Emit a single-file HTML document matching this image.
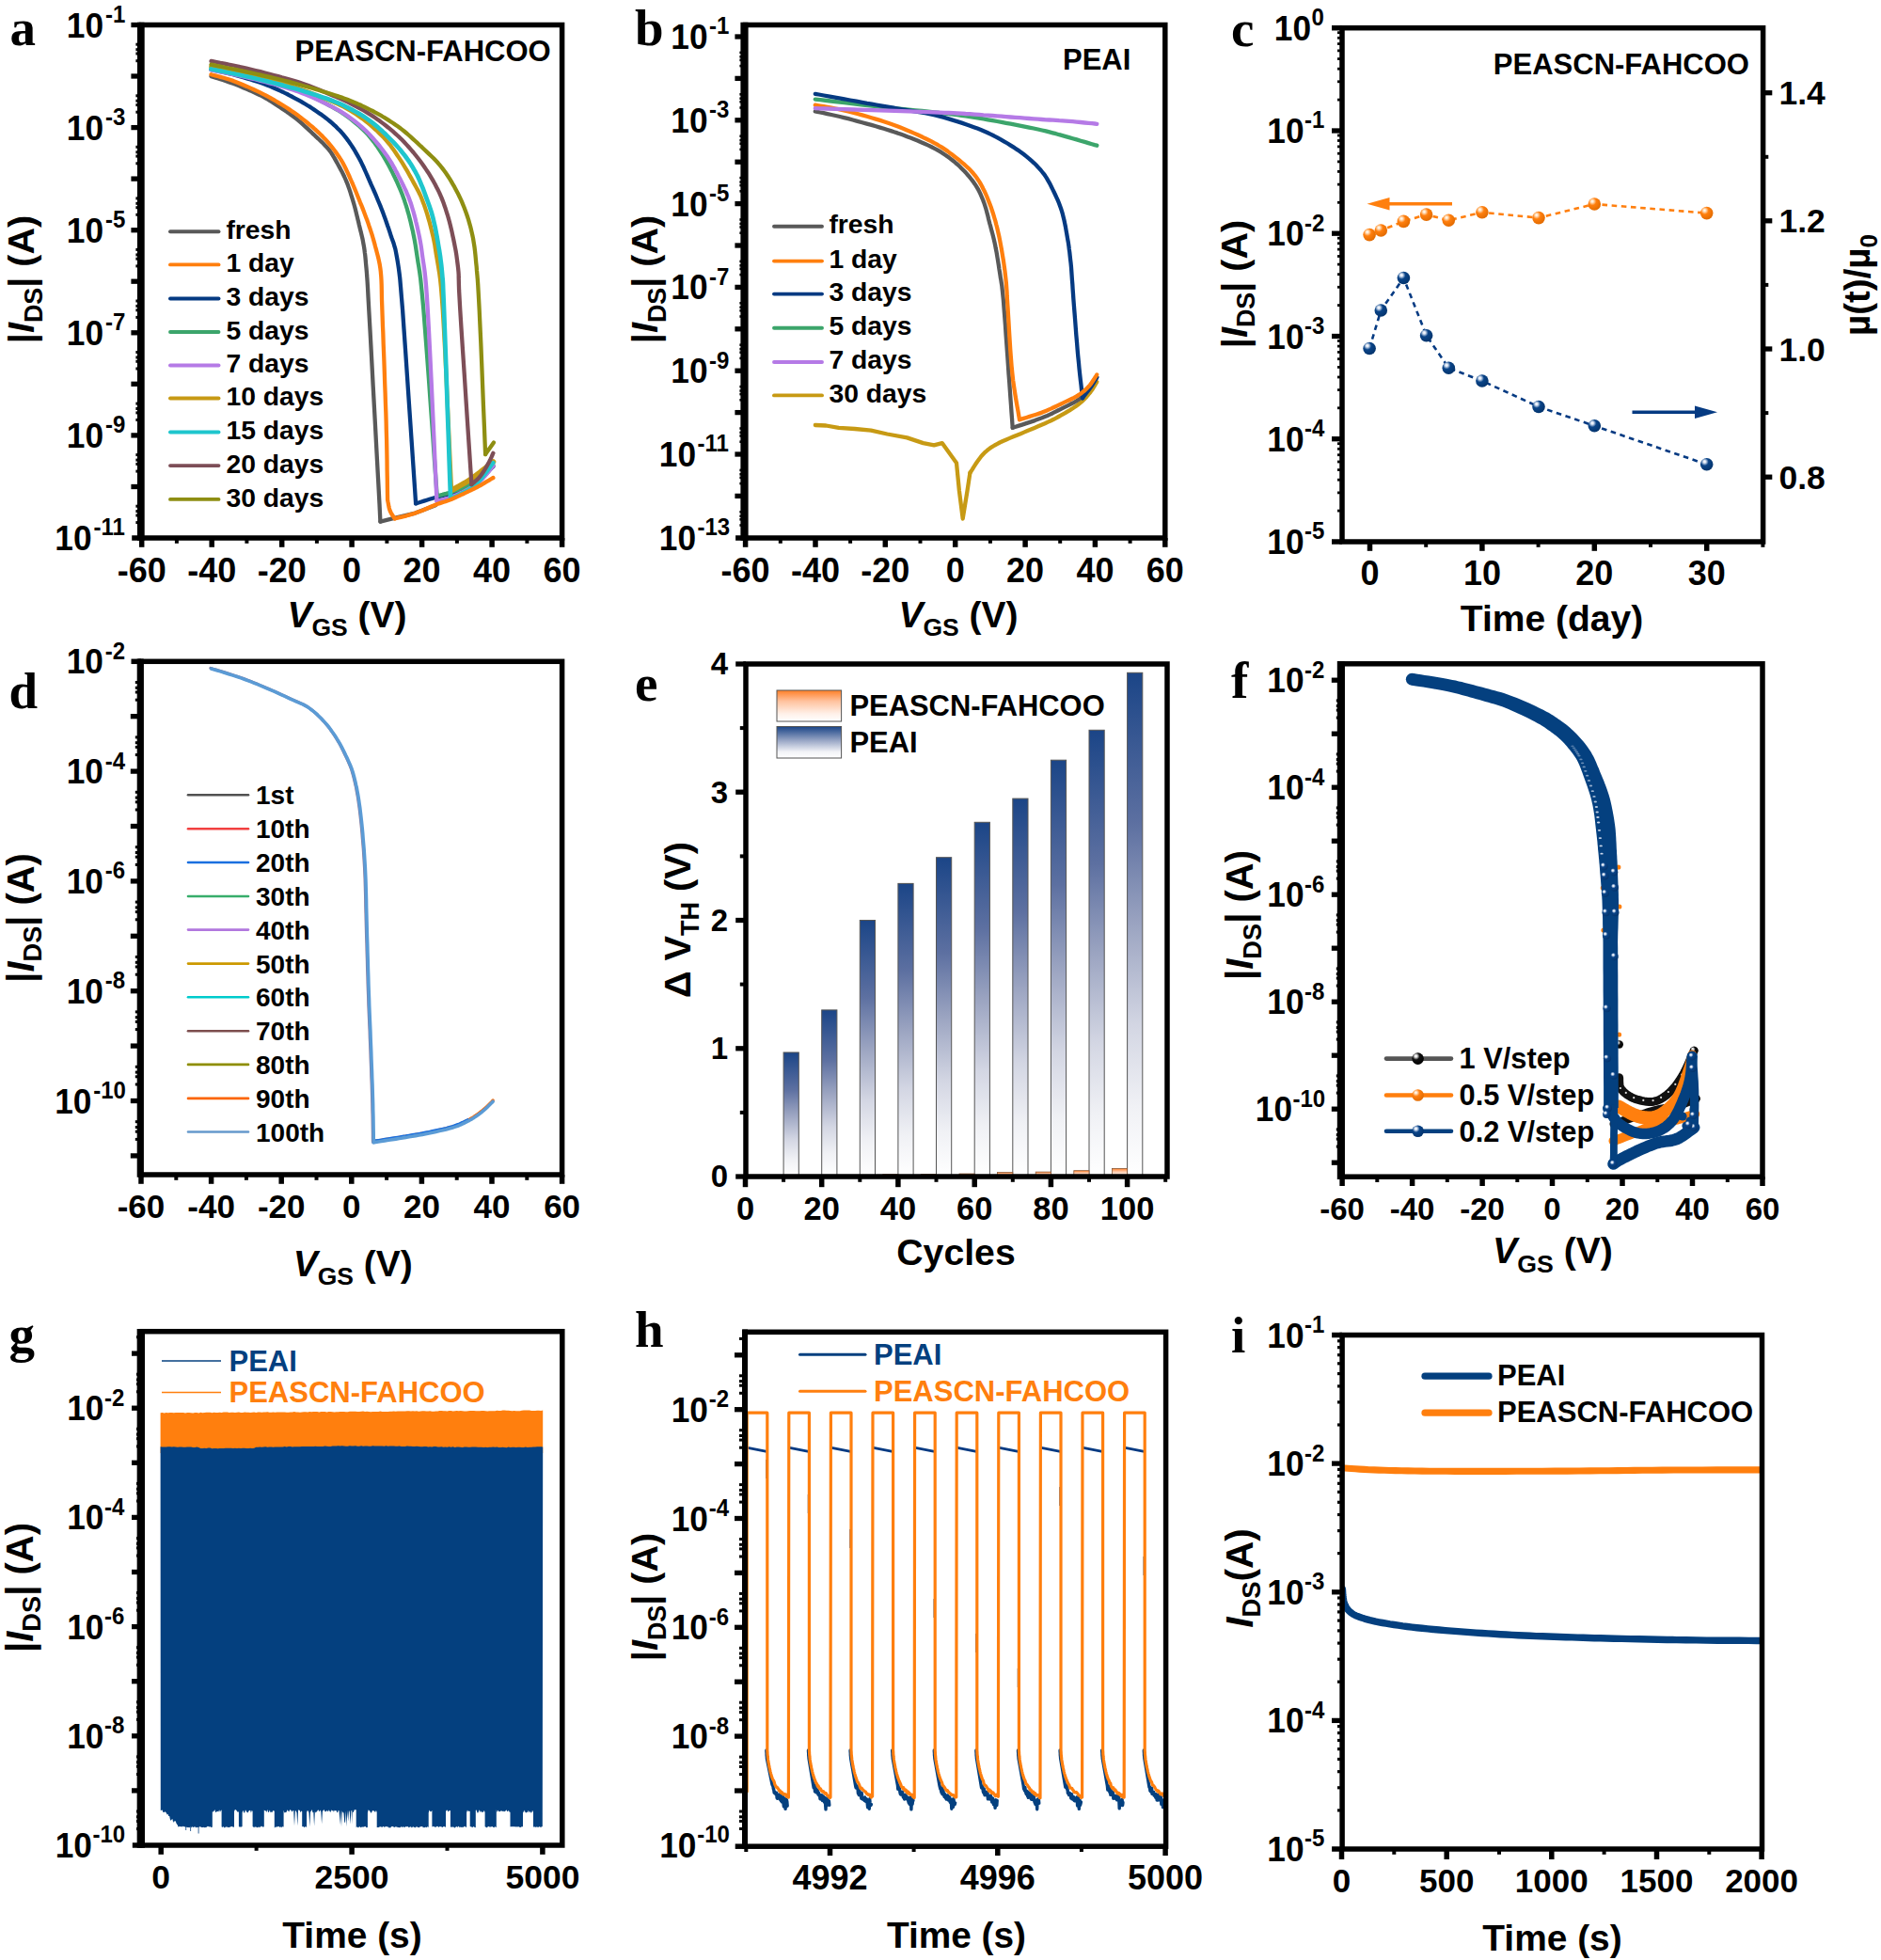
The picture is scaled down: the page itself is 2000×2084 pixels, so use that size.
<!DOCTYPE html>
<html><head><meta charset="utf-8"><title>Figure</title>
<style>html,body{margin:0;padding:0;background:#fff;}svg{display:block;}</style>
</head><body>
<svg width="2000" height="2084" viewBox="0 0 2000 2084">
<defs>
<radialGradient id="sO" cx="0.36" cy="0.32" r="0.72" fx="0.33" fy="0.28"><stop offset="0" stop-color="#ffffff"/><stop offset="0.14" stop-color="#FFE3C4"/><stop offset="0.42" stop-color="#FF7F0E"/><stop offset="1" stop-color="#E06A00"/></radialGradient>
<radialGradient id="sB" cx="0.36" cy="0.32" r="0.72" fx="0.33" fy="0.28"><stop offset="0" stop-color="#ffffff"/><stop offset="0.14" stop-color="#DCE6F5"/><stop offset="0.42" stop-color="#0A4488"/><stop offset="1" stop-color="#03336B"/></radialGradient>
<radialGradient id="sK" cx="0.36" cy="0.32" r="0.72" fx="0.33" fy="0.28"><stop offset="0" stop-color="#ffffff"/><stop offset="0.14" stop-color="#E8E8E8"/><stop offset="0.42" stop-color="#111111"/><stop offset="1" stop-color="#000000"/></radialGradient>
<clipPath id="clipA"><rect x="150.7" y="26.5" width="446.9" height="545.5"/></clipPath>
<clipPath id="clipB"><rect x="792.6" y="26.5" width="446.2" height="545.5"/></clipPath>
<linearGradient id="gB" x1="0" y1="0" x2="0" y2="1"><stop offset="0" stop-color="#1B4587"/><stop offset="0.3" stop-color="#5D70A1"/><stop offset="0.5" stop-color="#9BA4C1"/><stop offset="0.7" stop-color="#D3D6E3"/><stop offset="0.86" stop-color="#F0F1F5"/><stop offset="1" stop-color="#FFFFFF"/></linearGradient>
<linearGradient id="gO" x1="0" y1="0" x2="0" y2="1"><stop offset="0" stop-color="#FF7F27"/><stop offset="0.35" stop-color="#FFC29E"/><stop offset="0.75" stop-color="#FFF0E8"/><stop offset="1" stop-color="#FFFFFF"/></linearGradient>
<linearGradient id="gBl" x1="0" y1="0" x2="0" y2="1"><stop offset="0" stop-color="#1B4587"/><stop offset="0.45" stop-color="#9AA7C6"/><stop offset="0.8" stop-color="#F2F3F7"/><stop offset="1" stop-color="#FFFFFF"/></linearGradient>
<clipPath id="clipH"><rect x="792.2" y="1416.3" width="447.4" height="546.9"/></clipPath>
<clipPath id="clipI"><rect x="1427.1" y="1419.5" width="448.4" height="546.5"/></clipPath>
</defs>
<rect x="0" y="0" width="2000" height="2084" fill="#fff"/>
<g clip-path="url(#clipA)">
<path d="M224.5 81.1 L226.3 81.7 L228.6 82.4 L231.3 83.2 L234.4 84.2 L237.7 85.2 L241.1 86.4 L244.5 87.6 L247.8 88.8 L251.2 90.1 L254.9 91.6 L258.6 93.2 L262.5 94.8 L266.3 96.4 L269.9 98.1 L273.4 99.7 L276.6 101.2 L279.4 102.7 L282 104.1 L284.4 105.5 L286.7 106.9 L288.9 108.3 L291.1 109.7 L293.4 111.2 L295.7 112.7 L298.1 114.3 L300.5 115.9 L302.9 117.4 L305.3 119.1 L307.7 120.7 L310 122.5 L312.4 124.3 L314.8 126.1 L317.3 128.1 L319.7 130.2 L322.2 132.4 L324.6 134.6 L327.1 136.9 L329.5 139.1 L331.8 141.3 L334 143.3 L336.1 145.4 L338.2 147.3 L340.2 149.2 L342.2 151.1 L344.1 153 L345.9 154.9 L347.7 156.8 L349.3 158.7 L350.8 160.5 L352.1 162.4 L353.3 164.2 L354.4 166.1 L355.5 167.9 L356.6 169.9 L357.7 171.9 L358.9 174 L360.1 176.2 L361.3 178.4 L362.5 180.7 L363.8 183.1 L365 185.5 L366.2 188 L367.3 190.5 L368.4 193.1 L369.5 195.8 L370.5 198.6 L371.5 201.4 L372.5 204.4 L373.4 207.3 L374.3 210.2 L375.2 213.2 L376.1 216.1 L376.9 219 L377.7 221.9 L378.4 224.8 L379.1 227.7 L379.8 230.6 L380.5 233.4 L381.2 236.3 L381.8 239 L382.5 241.7 L383.1 244.4 L383.8 246.9 L384.4 249.4 L385 252 L385.6 254.6 L386.1 257.3 L386.6 260.1 L387.1 262.9 L387.5 265.6 L387.8 268.3 L388.2 271 L388.5 274 L388.8 277.2 L389.1 280.9 L389.5 285 L389.8 288.4 L390 290.6 L390.1 292.5 L390.3 295 L390.6 299.1 L391 305.6 L391.5 315.6 L392.3 330 L393.5 351 L395 378.8 L396.7 410.9 L398.6 445.1 L400.4 478.9 L402.1 510 L403.5 536 L404.4 554.6" fill="none" stroke="#595959" stroke-width="4.3" stroke-linejoin="round" stroke-linecap="round" />
<path d="M404.4 554.6 L417.2 551.4 L441.5 545.6 L463.1 537.3" fill="none" stroke="#595959" stroke-width="4.3" stroke-linejoin="round" stroke-linecap="round" />
<path d="M224.5 74.1 L226.3 74.4 L228.6 74.9 L231.3 75.5 L234.4 76.1 L237.7 76.8 L241.1 77.6 L244.5 78.4 L247.8 79.2 L251.2 80.2 L254.9 81.2 L258.6 82.3 L262.5 83.4 L266.3 84.5 L269.9 85.7 L273.4 86.8 L276.6 87.8 L279.4 88.8 L282 89.8 L284.4 90.7 L286.7 91.6 L288.9 92.5 L291.1 93.5 L293.4 94.5 L295.7 95.5 L298.1 96.6 L300.5 97.7 L302.9 98.9 L305.3 100 L307.7 101.3 L310 102.5 L312.4 103.8 L314.8 105.1 L317.2 106.4 L319.6 107.7 L322 109.1 L324.4 110.5 L326.8 112 L329.2 113.4 L331.6 115 L334 116.6 L336.4 118.2 L338.8 119.9 L341.3 121.6 L343.8 123.4 L346.2 125.3 L348.6 127.1 L350.9 129 L353.1 130.9 L355.2 132.8 L357.3 134.7 L359.2 136.7 L361.1 138.6 L363 140.6 L364.8 142.7 L366.6 144.9 L368.4 147.2 L370.2 149.6 L371.9 152 L373.7 154.6 L375.4 157.2 L377 159.8 L378.6 162.6 L380.2 165.4 L381.8 168.2 L383.3 171.1 L384.8 174.1 L386.3 177.2 L387.7 180.3 L389.1 183.5 L390.5 186.7 L391.9 189.9 L393.3 193.1 L394.7 196.4 L396.2 199.7 L397.7 203 L399.2 206.4 L400.6 209.8 L402 213.2 L403.4 216.5 L404.8 219.9 L406.1 223.3 L407.4 226.6 L408.6 230 L409.8 233.3 L411 236.7 L412.1 240 L413.3 243.3 L414.4 246.7 L415.4 249.8 L416.4 252.7 L417.4 255.4 L418.4 258.2 L419.3 261.3 L420.3 264.7 L421.1 268.7 L422 273.5 L422.8 278.1 L423.4 282 L424 286 L424.6 290.6 L425.3 296.6 L426 304.7 L426.9 315.6 L428.1 330 L429.5 350 L431.3 375.7 L433.3 405.2 L435.4 436.2 L437.5 466.9 L439.4 495 L441 518.6 L442.1 535.4" fill="none" stroke="#053A82" stroke-width="4.3" stroke-linejoin="round" stroke-linecap="round" />
<path d="M442.1 535.4 L443.6 534.9 L445.7 534.3 L448.2 533.5 L450.9 532.6 L453.8 531.7 L456.7 530.8 L459.4 530 L461.9 529.3 L464.1 528.7 L466.2 528.2 L468.2 527.7 L470.2 527.2 L472.2 526.7 L474.2 526.2 L476.3 525.6 L478.5 525 L480.8 524.2 L483.2 523.3 L485.7 522.4 L488.3 521.5 L490.8 520.5 L493.2 519.5 L495.5 518.5 L497.6 517.6 L499.5 516.7 L501.2 515.8 L502.8 515 L504.3 514.1 L505.8 513.3 L507.2 512.3 L508.7 511.2 L510.4 509.9 L512.1 508.4 L514.1 506.5 L516.1 504.5 L518.2 502.4 L520.1 500.4 L521.8 498.5 L523.3 497 L524.4 495.9" fill="none" stroke="#053A82" stroke-width="4.3" stroke-linejoin="round" stroke-linecap="round" />
<path d="M224.5 71.6 L227 72.1 L230.3 72.7 L234.2 73.4 L238.6 74.3 L243.2 75.2 L248 76.2 L252.8 77.2 L257.4 78.3 L262 79.4 L266.8 80.6 L271.8 81.9 L276.8 83.3 L281.8 84.7 L286.7 86.1 L291.3 87.5 L295.7 88.8 L299.7 90.1 L303.5 91.3 L307.2 92.6 L310.6 93.8 L314.1 95.1 L317.4 96.4 L320.9 97.8 L324.4 99.3 L328.1 101 L331.8 102.7 L335.6 104.5 L339.4 106.4 L343 108.3 L346.6 110.1 L350 112 L353.1 113.7 L356 115.3 L358.6 116.8 L361 118.3 L363.3 119.7 L365.5 121.2 L367.7 122.7 L369.9 124.4 L372.2 126.1 L374.7 128 L377.1 130 L379.6 132.1 L382.1 134.2 L384.5 136.4 L386.9 138.7 L389.2 141 L391.4 143.3 L393.5 145.8 L395.5 148.3 L397.5 150.8 L399.4 153.4 L401.3 156.1 L403.1 158.8 L404.9 161.6 L406.7 164.4 L408.5 167.3 L410.3 170.4 L412 173.5 L413.8 176.7 L415.4 179.9 L417.1 183.1 L418.6 186.2 L420.1 189.3 L421.5 192.2 L422.8 195.1 L424 197.9 L425.2 200.6 L426.4 203.4 L427.5 206.3 L428.6 209.2 L429.7 212.2 L430.7 215.4 L431.8 218.6 L432.8 221.8 L433.7 225.2 L434.7 228.5 L435.6 232 L436.5 235.5 L437.3 239 L438.1 242.5 L438.9 245.7 L439.5 248.9 L440.2 252.3 L440.9 255.8 L441.6 259.8 L442.3 264.4 L443.1 269.7 L443.9 274.9 L444.6 279.5 L445.4 284.1 L446.2 289.4 L447.1 296 L448 304.6 L449.1 315.7 L450.4 330 L451.9 349.4 L453.8 374.3 L455.9 402.6 L458 432.3 L460.1 461.6 L461.9 488.5 L463.5 511 L464.7 527.1" fill="none" stroke="#3CA56B" stroke-width="4.3" stroke-linejoin="round" stroke-linecap="round" />
<path d="M464.7 527.1 L465.7 526.9 L467 526.6 L468.6 526.3 L470.4 525.9 L472.3 525.4 L474.3 524.9 L476.4 524.3 L478.5 523.7 L480.6 523 L483 522.1 L485.5 521.2 L488.1 520.2 L490.6 519.3 L493.1 518.2 L495.5 517.2 L497.6 516.3 L499.5 515.4 L501.2 514.5 L502.8 513.7 L504.3 512.9 L505.8 512 L507.2 511 L508.7 509.9 L510.4 508.6 L512.1 507.1 L514.1 505.2 L516.1 503.2 L518.2 501.1 L520.1 499.1 L521.8 497.3 L523.3 495.7 L524.4 494.6" fill="none" stroke="#3CA56B" stroke-width="4.3" stroke-linejoin="round" stroke-linecap="round" />
<path d="M224.5 70.6 L227 71.1 L230.3 71.8 L234.2 72.5 L238.6 73.4 L243.2 74.3 L248 75.3 L252.8 76.3 L257.4 77.3 L262 78.4 L266.8 79.5 L271.8 80.7 L276.8 81.9 L281.8 83.2 L286.7 84.4 L291.3 85.7 L295.7 86.9 L299.7 88.1 L303.5 89.2 L307.2 90.4 L310.6 91.6 L314.1 92.7 L317.4 93.9 L320.9 95.2 L324.4 96.5 L328.1 97.8 L331.8 99.2 L335.6 100.7 L339.4 102.2 L343 103.7 L346.6 105.2 L350 106.6 L353.1 107.9 L356 109.2 L358.6 110.4 L361 111.5 L363.3 112.6 L365.5 113.7 L367.7 114.9 L369.9 116.1 L372.2 117.5 L374.6 119 L377 120.5 L379.4 122 L381.8 123.7 L384.2 125.4 L386.6 127.1 L389 129 L391.4 130.9 L393.8 132.9 L396.3 135.1 L398.7 137.3 L401.2 139.5 L403.6 141.9 L406 144.2 L408.3 146.6 L410.5 149.1 L412.6 151.6 L414.7 154.1 L416.6 156.7 L418.5 159.3 L420.4 162 L422.2 164.7 L424 167.4 L425.8 170.1 L427.6 172.9 L429.4 175.8 L431.2 178.8 L432.9 181.7 L434.6 184.7 L436.2 187.6 L437.8 190.4 L439.2 193.1 L440.6 195.6 L441.9 198 L443.1 200.2 L444.3 202.4 L445.5 204.7 L446.6 207 L447.7 209.5 L448.8 212.2 L449.9 215.2 L451.1 218.3 L452.2 221.6 L453.3 224.9 L454.4 228.4 L455.4 231.9 L456.5 235.5 L457.4 239 L458.3 242.5 L459.1 245.7 L459.9 248.9 L460.7 252.3 L461.4 255.8 L462.2 259.8 L462.9 264.4 L463.7 269.7 L464.6 274.9 L465.4 279.6 L466.2 284.4 L467.1 289.8 L468 296.5 L468.9 305 L469.8 316 L470.8 330 L471.9 349 L473.2 373.1 L474.5 400.6 L475.8 429.5 L477.1 457.9 L478.3 483.9 L479.3 505.7 L480 521.4" fill="none" stroke="#C79A14" stroke-width="4.3" stroke-linejoin="round" stroke-linecap="round" />
<path d="M480 521.4 L481.4 520.6 L483.3 519.6 L485.5 518.4 L488 517 L490.6 515.5 L493.1 514.1 L495.5 512.7 L497.6 511.4 L499.4 510.3 L501.1 509.1 L502.7 508 L504.2 506.9 L505.7 505.8 L507.2 504.7 L508.7 503.5 L510.4 502.2 L512.1 500.9 L514.1 499.3 L516.1 497.7 L518.2 496.1 L520.1 494.5 L521.8 493.1 L523.3 491.9 L524.4 491" fill="none" stroke="#C79A14" stroke-width="5.8" stroke-linejoin="round" stroke-linecap="round" />
<path d="M224.5 74.4 L227 74.9 L230.3 75.6 L234.2 76.3 L238.6 77.2 L243.2 78.1 L248 79.1 L252.8 80.1 L257.4 81.1 L262 82.2 L266.8 83.3 L271.8 84.5 L276.8 85.8 L281.8 87 L286.7 88.3 L291.3 89.5 L295.7 90.7 L299.7 91.9 L303.5 93 L307.2 94.1 L310.6 95.3 L314.1 96.4 L317.4 97.6 L320.9 98.9 L324.4 100.3 L328.1 101.8 L331.8 103.4 L335.6 105.1 L339.4 106.9 L343 108.6 L346.6 110.4 L350 112.1 L353.1 113.7 L356 115.2 L358.6 116.6 L361 117.9 L363.3 119.2 L365.5 120.6 L367.7 122 L369.9 123.5 L372.2 125.2 L374.6 126.9 L377 128.7 L379.4 130.6 L381.8 132.6 L384.2 134.6 L386.6 136.8 L389 139 L391.4 141.4 L393.8 144 L396.3 146.7 L398.8 149.6 L401.3 152.5 L403.8 155.5 L406.1 158.5 L408.4 161.5 L410.5 164.4 L412.5 167.3 L414.3 170.1 L416.1 172.9 L417.7 175.8 L419.3 178.6 L420.8 181.5 L422.4 184.4 L423.9 187.4 L425.5 190.4 L427 193.4 L428.5 196.5 L430 199.6 L431.5 202.7 L432.8 205.8 L434.2 209 L435.4 212.2 L436.6 215.5 L437.6 218.7 L438.6 222 L439.6 225.3 L440.5 228.6 L441.4 232 L442.2 235.5 L443.1 239 L443.9 242.5 L444.6 245.7 L445.3 248.9 L446 252.3 L446.7 255.8 L447.4 259.8 L448.1 264.4 L448.8 269.7 L449.5 274.8 L450.2 279.3 L450.9 283.9 L451.6 289.1 L452.3 295.6 L453.1 304.2 L453.9 315.4 L454.8 330 L455.9 349.9 L457.2 375.5 L458.6 404.6 L460 435.2 L461.4 465.4 L462.6 493.1 L463.7 516.2 L464.4 532.9" fill="none" stroke="#B57AE6" stroke-width="4.3" stroke-linejoin="round" stroke-linecap="round" />
<path d="M464.4 532.9 L465.5 532.6 L466.8 532.3 L468.4 531.9 L470.2 531.5 L472.2 531 L474.3 530.4 L476.4 529.8 L478.5 529 L480.6 528.2 L483 527.2 L485.5 526.1 L488.1 525 L490.7 523.8 L493.1 522.6 L495.5 521.5 L497.6 520.4 L499.5 519.3 L501.2 518.4 L502.8 517.5 L504.3 516.6 L505.8 515.6 L507.2 514.5 L508.7 513.3 L510.4 511.8 L512.1 510 L514.1 507.8 L516.1 505.5 L518.2 503 L520.1 500.6 L521.8 498.4 L523.3 496.6 L524.4 495.2" fill="none" stroke="#B57AE6" stroke-width="4.3" stroke-linejoin="round" stroke-linecap="round" />
<path d="M224.5 73.5 L227 74 L230.3 74.6 L234.2 75.4 L238.6 76.3 L243.2 77.2 L248 78.2 L252.8 79.2 L257.4 80.2 L262 81.2 L266.8 82.3 L271.8 83.5 L276.8 84.7 L281.8 85.9 L286.7 87.1 L291.3 88.3 L295.7 89.4 L299.7 90.4 L303.5 91.4 L307.2 92.4 L310.6 93.4 L314.1 94.3 L317.4 95.3 L320.9 96.3 L324.4 97.4 L328.1 98.5 L331.8 99.7 L335.6 100.9 L339.4 102.2 L343 103.4 L346.6 104.6 L350 105.8 L353.1 107 L356 108.1 L358.6 109.1 L361 110.2 L363.3 111.2 L365.5 112.2 L367.7 113.3 L369.9 114.4 L372.2 115.6 L374.6 116.9 L377 118.2 L379.4 119.5 L381.8 120.9 L384.2 122.3 L386.6 123.8 L389 125.4 L391.4 127.1 L393.8 128.9 L396.2 130.7 L398.6 132.6 L401 134.6 L403.3 136.7 L405.7 138.8 L408.1 141.1 L410.5 143.3 L413 145.8 L415.4 148.3 L418 150.9 L420.5 153.6 L422.9 156.3 L425.3 159 L427.5 161.7 L429.7 164.4 L431.6 167 L433.5 169.6 L435.3 172.2 L437 174.8 L438.6 177.4 L440.1 180.1 L441.6 182.7 L443.1 185.5 L444.5 188.2 L445.8 191.1 L447 193.9 L448.2 196.8 L449.4 199.7 L450.5 202.6 L451.6 205.5 L452.6 208.4 L453.7 211.3 L454.7 214 L455.7 216.8 L456.7 219.5 L457.6 222.4 L458.6 225.2 L459.4 228.2 L460.3 231.4 L461.1 234.7 L461.9 238.2 L462.7 241.7 L463.4 245.4 L464.1 249.1 L464.8 252.8 L465.4 256.5 L466 260.1 L466.6 263.6 L467.2 267 L467.7 270.3 L468.2 273.7 L468.6 277.1 L469.1 280.7 L469.5 284.6 L469.9 288.8 L470.2 292.3 L470.4 294.5 L470.6 296.3 L470.8 298.7 L471 302.3 L471.2 308.2 L471.6 317.2 L472.1 330 L472.8 348.8 L473.7 373.6 L474.7 402.3 L475.7 432.7 L476.8 462.9 L477.7 490.6 L478.5 513.8 L479.1 530.3" fill="none" stroke="#1FC6CD" stroke-width="4.7" stroke-linejoin="round" stroke-linecap="round" />
<path d="M479.1 530.3 L480.6 529.6 L482.5 528.7 L484.9 527.6 L487.5 526.3 L490.3 525 L492.9 523.6 L495.4 522.3 L497.6 521 L499.5 519.8 L501.2 518.7 L502.7 517.5 L504.3 516.3 L505.7 515.1 L507.2 513.8 L508.7 512.2 L510.4 510.5 L512.1 508.5 L514.1 506 L516.1 503.4 L518.2 500.6 L520.1 498 L521.8 495.6 L523.3 493.5 L524.4 492" fill="none" stroke="#1FC6CD" stroke-width="4.3" stroke-linejoin="round" stroke-linecap="round" />
<path d="M224.5 64.9 L227 65.4 L230.3 66 L234.2 66.8 L238.6 67.6 L243.2 68.6 L248 69.5 L252.8 70.6 L257.4 71.6 L262 72.6 L266.8 73.8 L271.8 75 L276.8 76.2 L281.8 77.5 L286.7 78.8 L291.3 80 L295.7 81.1 L299.7 82.3 L303.5 83.3 L307.2 84.3 L310.6 85.3 L314.1 86.4 L317.4 87.4 L320.9 88.6 L324.4 89.8 L328.1 91.1 L331.8 92.5 L335.6 94 L339.4 95.5 L343 97 L346.6 98.5 L350 99.9 L353.1 101.2 L356 102.4 L358.6 103.6 L361 104.6 L363.3 105.6 L365.5 106.6 L367.7 107.6 L369.9 108.7 L372.2 109.9 L374.6 111.1 L377 112.3 L379.4 113.5 L381.8 114.8 L384.2 116.1 L386.6 117.5 L389 118.9 L391.4 120.4 L393.8 121.9 L396.2 123.4 L398.6 125 L401 126.7 L403.3 128.3 L405.7 130.1 L408.1 131.9 L410.5 133.8 L412.9 135.7 L415.3 137.7 L417.7 139.7 L420.1 141.8 L422.5 144 L424.9 146.2 L427.3 148.6 L429.7 151 L432.1 153.6 L434.5 156.3 L437 159.1 L439.5 162 L441.9 165 L444.3 168 L446.6 171 L448.8 174 L450.9 177 L453 180.1 L455.1 183.2 L457.1 186.4 L459 189.6 L460.8 192.7 L462.5 195.8 L464.1 198.9 L465.6 201.8 L467 204.6 L468.2 207.4 L469.4 210.1 L470.5 212.9 L471.6 215.7 L472.6 218.7 L473.7 221.8 L474.7 225.1 L475.8 228.5 L476.8 231.9 L477.8 235.5 L478.7 239.1 L479.6 242.8 L480.5 246.6 L481.3 250.5 L482.2 254.5 L483 258.5 L483.8 262.6 L484.6 266.7 L485.3 271 L485.9 275.5 L486.5 280.1 L487.1 285 L487.5 289.1 L487.7 292.2 L487.7 294.9 L487.8 298.1 L487.9 302.4 L488.1 308.7 L488.6 317.6 L489.3 330 L490.4 347.7 L491.9 370.7 L493.7 397.3 L495.5 425.3 L497.3 453 L499 478.5 L500.4 499.8 L501.4 515" fill="none" stroke="#7D4E57" stroke-width="4.3" stroke-linejoin="round" stroke-linecap="round" />
<path d="M501.4 515 L502.1 514.4 L503 513.7 L504.1 512.8 L505.3 511.7 L506.6 510.6 L507.9 509.4 L509.2 508.1 L510.4 506.7 L511.5 505.2 L512.7 503.5 L513.9 501.7 L515.1 499.9 L516.2 498 L517.3 496.1 L518.3 494.3 L519.3 492.7 L520.1 491.1 L520.9 489.5 L521.7 487.9 L522.4 486.4 L523 485 L523.6 483.7 L524 482.6 L524.4 481.8" fill="none" stroke="#7D4E57" stroke-width="4.3" stroke-linejoin="round" stroke-linecap="round" />
<path d="M224.5 68.7 L227 69.2 L230.3 69.9 L234.2 70.6 L238.6 71.5 L243.2 72.5 L248 73.4 L252.8 74.4 L257.4 75.4 L262 76.4 L266.8 77.4 L271.8 78.5 L276.8 79.7 L281.8 80.8 L286.7 81.9 L291.3 83 L295.7 84 L299.7 85 L303.5 86 L307.2 86.9 L310.6 87.8 L314.1 88.8 L317.4 89.7 L320.9 90.7 L324.4 91.7 L328.1 92.7 L331.8 93.8 L335.6 94.9 L339.4 96 L343 97.2 L346.6 98.2 L350 99.3 L353.1 100.3 L356 101.2 L358.6 102.1 L361 102.9 L363.3 103.6 L365.5 104.4 L367.7 105.2 L369.9 106.1 L372.2 107 L374.6 108 L377 109 L379.4 110 L381.8 111.1 L384.2 112.1 L386.6 113.3 L389 114.4 L391.4 115.6 L393.8 116.8 L396.2 118 L398.6 119.3 L401 120.6 L403.3 121.9 L405.7 123.2 L408.1 124.7 L410.5 126.1 L412.9 127.6 L415.3 129.2 L417.7 130.8 L420.1 132.4 L422.5 134.1 L424.9 135.8 L427.3 137.6 L429.7 139.5 L432.1 141.5 L434.4 143.5 L436.8 145.6 L439.2 147.8 L441.6 150 L444 152.2 L446.4 154.5 L448.8 156.7 L451.2 159 L453.7 161.3 L456.1 163.6 L458.6 166 L461 168.3 L463.4 170.8 L465.7 173.3 L467.9 175.9 L470.1 178.6 L472.1 181.3 L474.1 184.1 L476.1 187 L478 189.9 L479.8 192.9 L481.5 195.9 L483.3 198.9 L484.9 201.9 L486.5 204.9 L488 208 L489.5 211.1 L490.9 214.2 L492.2 217.3 L493.5 220.5 L494.7 223.7 L495.9 227 L497 230.3 L498.1 233.6 L499 236.9 L500 240.3 L500.8 243.6 L501.6 247.1 L502.4 250.5 L503.1 253.9 L503.6 257.1 L504.1 260.2 L504.6 263.4 L505 266.8 L505.4 270.5 L505.8 274.6 L506.2 279.2 L506.7 283.8 L507 288 L507.4 292.2 L507.8 296.8 L508.2 302.5 L508.6 309.6 L509.1 318.6 L509.7 330 L510.4 345.3 L511.3 364.7 L512.2 386.6 L513.1 409.7 L514 432.4 L514.9 453.2 L515.6 470.6 L516.1 483.1" fill="none" stroke="#8E8E12" stroke-width="4.3" stroke-linejoin="round" stroke-linecap="round" />
<path d="M516.1 483.1 L525 470.4" fill="none" stroke="#8E8E12" stroke-width="4.3" stroke-linejoin="round" stroke-linecap="round" />
<path d="M224.5 79.2 L226.3 79.7 L228.6 80.3 L231.3 81 L234.4 81.8 L237.7 82.7 L241.1 83.7 L244.5 84.8 L247.8 85.9 L251.2 87.2 L254.9 88.7 L258.6 90.3 L262.5 91.9 L266.3 93.6 L269.9 95.3 L273.4 96.9 L276.6 98.4 L279.4 99.8 L282 101.1 L284.4 102.4 L286.7 103.6 L288.9 104.9 L291.1 106.2 L293.4 107.5 L295.7 108.9 L298.1 110.3 L300.5 111.8 L302.9 113.3 L305.3 114.8 L307.7 116.4 L310 118 L312.4 119.6 L314.8 121.3 L317.3 123.1 L319.7 125 L322.2 126.9 L324.6 128.8 L327.1 130.8 L329.5 132.8 L331.8 134.7 L334 136.7 L336.1 138.5 L338.1 140.4 L340.1 142.3 L342 144.1 L343.8 146 L345.7 147.9 L347.5 149.9 L349.3 152 L351.1 154.1 L352.9 156.3 L354.6 158.5 L356.3 160.8 L358 163.1 L359.6 165.5 L361.2 167.8 L362.7 170.1 L364.1 172.5 L365.3 174.8 L366.5 177.1 L367.7 179.4 L368.8 181.8 L369.9 184.2 L371.1 186.7 L372.2 189.3 L373.4 192 L374.6 194.7 L375.8 197.5 L377 200.4 L378.2 203.3 L379.4 206.3 L380.6 209.3 L381.8 212.2 L383 215.3 L384.3 218.3 L385.5 221.4 L386.7 224.6 L387.9 227.7 L389.1 230.9 L390.3 234 L391.4 237.1 L392.4 240.2 L393.5 243.3 L394.5 246.4 L395.5 249.4 L396.4 252.5 L397.3 255.7 L398.2 258.8 L399 262 L399.9 265.2 L400.7 268.2 L401.5 271.3 L402.3 274.4 L403 277.6 L403.7 281 L404.3 284.8 L404.8 288.8 L405.2 293.2 L405.5 297.9 L405.7 302.8 L405.8 307.9 L405.9 313.2 L406 318.7 L406.2 324.3 L406.4 330 L406.6 335.7 L406.8 341.5 L407 347.3 L407.3 353.3 L407.5 359.6 L407.7 366.3 L408 373.4 L408.3 381 L408.6 389.4 L408.9 398.4 L409.2 408 L409.6 417.9 L409.9 427.9 L410.3 438 L410.6 448 L410.8 457.6 L411.1 467.5 L411.3 478 L411.5 488.8 L411.6 499.4 L411.8 509.4 L411.9 518.4 L412 525.9 L412.1 531.6 L412.3 532.5 L412.5 533.7 L412.8 535.2 L413.1 536.8 L413.4 538.5 L413.8 540.2 L414.2 541.7 L414.7 543.1 L415.2 544.3 L415.9 545.6 L416.6 546.8 L417.4 547.9 L418.1 549 L418.8 550 L419.3 550.8 L419.8 551.4" fill="none" stroke="#FF7F0E" stroke-width="4.3" stroke-linejoin="round" stroke-linecap="round" />
<path d="M419.8 551.4 L421.4 551 L423.7 550.4 L426.3 549.8 L429.3 549.1 L432.4 548.3 L435.5 547.4 L438.6 546.5 L441.5 545.6 L444.2 544.6 L447 543.5 L449.8 542.4 L452.6 541.2 L455.4 540 L458.1 538.8 L460.7 537.7 L463.1 536.7 L465.5 535.8 L467.6 535.1 L469.7 534.4 L471.7 533.8 L473.6 533.2 L475.6 532.5 L477.6 531.8 L479.7 531 L481.9 530 L484.2 529 L486.6 527.9 L488.9 526.9 L491.2 525.7 L493.5 524.7 L495.6 523.6 L497.6 522.7 L499.4 521.8 L501.1 521 L502.7 520.2 L504.2 519.5 L505.7 518.7 L507.2 518 L508.7 517.2 L510.4 516.3 L512.1 515.3 L514.1 514.2 L516.1 512.9 L518.2 511.7 L520.1 510.6 L521.8 509.5 L523.3 508.6 L524.4 508" fill="none" stroke="#FF7F0E" stroke-width="4.3" stroke-linejoin="round" stroke-linecap="round" />
</g>
<rect x="150.7" y="26.5" width="446.9" height="545.5" fill="none" stroke="#000" stroke-width="5.5" />
<line x1="149.7" y1="23.8" x2="149.7" y2="574.8" stroke="#000" stroke-width="7.5" />
<line x1="149.7" y1="26.5" x2="139.4" y2="26.5" stroke="#000" stroke-width="5.3" />
<line x1="149.7" y1="81" x2="139.4" y2="81" stroke="#000" stroke-width="5.3" />
<line x1="149.7" y1="135.6" x2="139.4" y2="135.6" stroke="#000" stroke-width="5.3" />
<line x1="149.7" y1="190.1" x2="139.4" y2="190.1" stroke="#000" stroke-width="5.3" />
<line x1="149.7" y1="244.7" x2="139.4" y2="244.7" stroke="#000" stroke-width="5.3" />
<line x1="149.7" y1="299.2" x2="139.4" y2="299.2" stroke="#000" stroke-width="5.3" />
<line x1="149.7" y1="353.8" x2="139.4" y2="353.8" stroke="#000" stroke-width="5.3" />
<line x1="149.7" y1="408.3" x2="139.4" y2="408.3" stroke="#000" stroke-width="5.3" />
<line x1="149.7" y1="462.9" x2="139.4" y2="462.9" stroke="#000" stroke-width="5.3" />
<line x1="149.7" y1="517.5" x2="139.4" y2="517.5" stroke="#000" stroke-width="5.3" />
<line x1="140.2" y1="572" x2="150.7" y2="572" stroke="#000" stroke-width="5.5" />
<line x1="149.7" y1="64.7" x2="144.4" y2="64.7" stroke="#000" stroke-width="3" />
<line x1="149.7" y1="57" x2="144.4" y2="57" stroke="#000" stroke-width="3" />
<line x1="149.7" y1="52.7" x2="144.4" y2="52.7" stroke="#000" stroke-width="3" />
<line x1="149.7" y1="47.2" x2="144.4" y2="47.2" stroke="#000" stroke-width="3" />
<line x1="149.7" y1="119.2" x2="144.4" y2="119.2" stroke="#000" stroke-width="3" />
<line x1="149.7" y1="111.6" x2="144.4" y2="111.6" stroke="#000" stroke-width="3" />
<line x1="149.7" y1="107.2" x2="144.4" y2="107.2" stroke="#000" stroke-width="3" />
<line x1="149.7" y1="101.8" x2="144.4" y2="101.8" stroke="#000" stroke-width="3" />
<line x1="149.7" y1="173.8" x2="144.4" y2="173.8" stroke="#000" stroke-width="3" />
<line x1="149.7" y1="166.1" x2="144.4" y2="166.1" stroke="#000" stroke-width="3" />
<line x1="149.7" y1="161.8" x2="144.4" y2="161.8" stroke="#000" stroke-width="3" />
<line x1="149.7" y1="156.3" x2="144.4" y2="156.3" stroke="#000" stroke-width="3" />
<line x1="149.7" y1="228.3" x2="144.4" y2="228.3" stroke="#000" stroke-width="3" />
<line x1="149.7" y1="220.7" x2="144.4" y2="220.7" stroke="#000" stroke-width="3" />
<line x1="149.7" y1="216.3" x2="144.4" y2="216.3" stroke="#000" stroke-width="3" />
<line x1="149.7" y1="210.9" x2="144.4" y2="210.9" stroke="#000" stroke-width="3" />
<line x1="149.7" y1="282.9" x2="144.4" y2="282.9" stroke="#000" stroke-width="3" />
<line x1="149.7" y1="275.2" x2="144.4" y2="275.2" stroke="#000" stroke-width="3" />
<line x1="149.7" y1="270.9" x2="144.4" y2="270.9" stroke="#000" stroke-width="3" />
<line x1="149.7" y1="265.4" x2="144.4" y2="265.4" stroke="#000" stroke-width="3" />
<line x1="149.7" y1="337.4" x2="144.4" y2="337.4" stroke="#000" stroke-width="3" />
<line x1="149.7" y1="329.8" x2="144.4" y2="329.8" stroke="#000" stroke-width="3" />
<line x1="149.7" y1="325.4" x2="144.4" y2="325.4" stroke="#000" stroke-width="3" />
<line x1="149.7" y1="320" x2="144.4" y2="320" stroke="#000" stroke-width="3" />
<line x1="149.7" y1="392" x2="144.4" y2="392" stroke="#000" stroke-width="3" />
<line x1="149.7" y1="384.3" x2="144.4" y2="384.3" stroke="#000" stroke-width="3" />
<line x1="149.7" y1="380" x2="144.4" y2="380" stroke="#000" stroke-width="3" />
<line x1="149.7" y1="374.5" x2="144.4" y2="374.5" stroke="#000" stroke-width="3" />
<line x1="149.7" y1="446.5" x2="144.4" y2="446.5" stroke="#000" stroke-width="3" />
<line x1="149.7" y1="438.9" x2="144.4" y2="438.9" stroke="#000" stroke-width="3" />
<line x1="149.7" y1="434.5" x2="144.4" y2="434.5" stroke="#000" stroke-width="3" />
<line x1="149.7" y1="429.1" x2="144.4" y2="429.1" stroke="#000" stroke-width="3" />
<line x1="149.7" y1="501.1" x2="144.4" y2="501.1" stroke="#000" stroke-width="3" />
<line x1="149.7" y1="493.4" x2="144.4" y2="493.4" stroke="#000" stroke-width="3" />
<line x1="149.7" y1="489.1" x2="144.4" y2="489.1" stroke="#000" stroke-width="3" />
<line x1="149.7" y1="483.6" x2="144.4" y2="483.6" stroke="#000" stroke-width="3" />
<line x1="149.7" y1="555.6" x2="144.4" y2="555.6" stroke="#000" stroke-width="3" />
<line x1="149.7" y1="548" x2="144.4" y2="548" stroke="#000" stroke-width="3" />
<line x1="149.7" y1="543.6" x2="144.4" y2="543.6" stroke="#000" stroke-width="3" />
<line x1="149.7" y1="538.2" x2="144.4" y2="538.2" stroke="#000" stroke-width="3" />
<line x1="150.7" y1="572" x2="150.7" y2="581.8" stroke="#000" stroke-width="5.5" />
<line x1="225.2" y1="572" x2="225.2" y2="581.8" stroke="#000" stroke-width="5.5" />
<line x1="299.7" y1="572" x2="299.7" y2="581.8" stroke="#000" stroke-width="5.5" />
<line x1="374.1" y1="572" x2="374.1" y2="581.8" stroke="#000" stroke-width="5.5" />
<line x1="448.6" y1="572" x2="448.6" y2="581.8" stroke="#000" stroke-width="5.5" />
<line x1="523.1" y1="572" x2="523.1" y2="581.8" stroke="#000" stroke-width="5.5" />
<line x1="597.6" y1="572" x2="597.6" y2="581.8" stroke="#000" stroke-width="5.5" />
<line x1="187.9" y1="572" x2="187.9" y2="577.8" stroke="#000" stroke-width="4" />
<line x1="262.4" y1="572" x2="262.4" y2="577.8" stroke="#000" stroke-width="4" />
<line x1="336.9" y1="572" x2="336.9" y2="577.8" stroke="#000" stroke-width="4" />
<line x1="411.4" y1="572" x2="411.4" y2="577.8" stroke="#000" stroke-width="4" />
<line x1="485.9" y1="572" x2="485.9" y2="577.8" stroke="#000" stroke-width="4" />
<line x1="560.4" y1="572" x2="560.4" y2="577.8" stroke="#000" stroke-width="4" />
<text x="150.7" y="618.5" font-family='"Liberation Sans", sans-serif' font-size="36" font-weight="bold" text-anchor="middle" fill="#000" >-60</text>
<text x="225.2" y="618.5" font-family='"Liberation Sans", sans-serif' font-size="36" font-weight="bold" text-anchor="middle" fill="#000" >-40</text>
<text x="299.7" y="618.5" font-family='"Liberation Sans", sans-serif' font-size="36" font-weight="bold" text-anchor="middle" fill="#000" >-20</text>
<text x="374.1" y="618.5" font-family='"Liberation Sans", sans-serif' font-size="36" font-weight="bold" text-anchor="middle" fill="#000" >0</text>
<text x="448.6" y="618.5" font-family='"Liberation Sans", sans-serif' font-size="36" font-weight="bold" text-anchor="middle" fill="#000" >20</text>
<text x="523.1" y="618.5" font-family='"Liberation Sans", sans-serif' font-size="36" font-weight="bold" text-anchor="middle" fill="#000" >40</text>
<text x="597.6" y="618.5" font-family='"Liberation Sans", sans-serif' font-size="36" font-weight="bold" text-anchor="middle" fill="#000" >60</text>
<g transform="translate(108.7 39.5) scale(1 1.04)"><text x="1.4" y="0" font-family='"Liberation Sans", sans-serif' font-size="35.3" font-weight="bold" text-anchor="end">10</text><text x="3.4" y="-15" font-family='"Liberation Sans", sans-serif' font-size="24" font-weight="bold" text-anchor="start">-1</text></g>
<g transform="translate(108.7 148.6) scale(1 1.04)"><text x="1.4" y="0" font-family='"Liberation Sans", sans-serif' font-size="35.3" font-weight="bold" text-anchor="end">10</text><text x="3.4" y="-15" font-family='"Liberation Sans", sans-serif' font-size="24" font-weight="bold" text-anchor="start">-3</text></g>
<g transform="translate(108.7 257.7) scale(1 1.04)"><text x="1.4" y="0" font-family='"Liberation Sans", sans-serif' font-size="35.3" font-weight="bold" text-anchor="end">10</text><text x="3.4" y="-15" font-family='"Liberation Sans", sans-serif' font-size="24" font-weight="bold" text-anchor="start">-5</text></g>
<g transform="translate(108.7 366.8) scale(1 1.04)"><text x="1.4" y="0" font-family='"Liberation Sans", sans-serif' font-size="35.3" font-weight="bold" text-anchor="end">10</text><text x="3.4" y="-15" font-family='"Liberation Sans", sans-serif' font-size="24" font-weight="bold" text-anchor="start">-7</text></g>
<g transform="translate(108.7 475.9) scale(1 1.04)"><text x="1.4" y="0" font-family='"Liberation Sans", sans-serif' font-size="35.3" font-weight="bold" text-anchor="end">10</text><text x="3.4" y="-15" font-family='"Liberation Sans", sans-serif' font-size="24" font-weight="bold" text-anchor="start">-9</text></g>
<g transform="translate(96.2 585) scale(1 1.04)"><text x="1.4" y="0" font-family='"Liberation Sans", sans-serif' font-size="35.3" font-weight="bold" text-anchor="end">10</text><text x="3.4" y="-15" font-family='"Liberation Sans", sans-serif' font-size="24" font-weight="bold" text-anchor="start">-11</text></g>
<text x="369" y="666.5" font-family='"Liberation Sans", sans-serif' font-size="39" font-weight="bold" text-anchor="middle" fill="#000" ><tspan font-style="italic">V</tspan><tspan font-size="26.5" dy="9.8">GS</tspan><tspan dy="-9.8"> (V)</tspan></text>
<text transform="translate(36 297) rotate(-90)" font-family='"Liberation Sans", sans-serif' font-size="39.5" font-weight="bold" text-anchor="middle">|<tspan font-style="italic">I</tspan><tspan font-size="26.9" dy="8.7">DS</tspan><tspan dy="-8.7">| (A)</tspan></text>
<text x="585.7" y="64.5" font-family='"Liberation Sans", sans-serif' font-size="31" font-weight="bold" text-anchor="end" fill="#000" >PEASCN-FAHCOO</text>
<line x1="181" y1="246.3" x2="232.5" y2="246.3" stroke="#595959" stroke-width="3.9" stroke-linecap="round"/>
<text x="240.4" y="253.9" font-family='"Liberation Sans", sans-serif' font-size="28.3" font-weight="bold" text-anchor="start" fill="#000" >fresh</text>
<line x1="181" y1="281.4" x2="232.5" y2="281.4" stroke="#FF7F0E" stroke-width="3.9" stroke-linecap="round"/>
<text x="240.4" y="289" font-family='"Liberation Sans", sans-serif' font-size="28.3" font-weight="bold" text-anchor="start" fill="#000" >1 day</text>
<line x1="181" y1="317.5" x2="232.5" y2="317.5" stroke="#053A82" stroke-width="3.9" stroke-linecap="round"/>
<text x="240.4" y="325.1" font-family='"Liberation Sans", sans-serif' font-size="28.3" font-weight="bold" text-anchor="start" fill="#000" >3 days</text>
<line x1="181" y1="353" x2="232.5" y2="353" stroke="#3CA56B" stroke-width="3.9" stroke-linecap="round"/>
<text x="240.4" y="360.6" font-family='"Liberation Sans", sans-serif' font-size="28.3" font-weight="bold" text-anchor="start" fill="#000" >5 days</text>
<line x1="181" y1="388.5" x2="232.5" y2="388.5" stroke="#B57AE6" stroke-width="3.9" stroke-linecap="round"/>
<text x="240.4" y="396.1" font-family='"Liberation Sans", sans-serif' font-size="28.3" font-weight="bold" text-anchor="start" fill="#000" >7 days</text>
<line x1="181" y1="423.5" x2="232.5" y2="423.5" stroke="#C79A14" stroke-width="3.9" stroke-linecap="round"/>
<text x="240.4" y="431.1" font-family='"Liberation Sans", sans-serif' font-size="28.3" font-weight="bold" text-anchor="start" fill="#000" >10 days</text>
<line x1="181" y1="459.5" x2="232.5" y2="459.5" stroke="#1FC6CD" stroke-width="3.9" stroke-linecap="round"/>
<text x="240.4" y="467.1" font-family='"Liberation Sans", sans-serif' font-size="28.3" font-weight="bold" text-anchor="start" fill="#000" >15 days</text>
<line x1="181" y1="495.1" x2="232.5" y2="495.1" stroke="#7D4E57" stroke-width="3.9" stroke-linecap="round"/>
<text x="240.4" y="502.7" font-family='"Liberation Sans", sans-serif' font-size="28.3" font-weight="bold" text-anchor="start" fill="#000" >20 days</text>
<line x1="181" y1="530.9" x2="232.5" y2="530.9" stroke="#8E8E12" stroke-width="3.9" stroke-linecap="round"/>
<text x="240.4" y="538.5" font-family='"Liberation Sans", sans-serif' font-size="28.3" font-weight="bold" text-anchor="start" fill="#000" >30 days</text>
<text x="10.5" y="48" font-family='"Liberation Serif", serif' font-size="55" font-weight="bold" text-anchor="start" fill="#000" >a</text>
<g clip-path="url(#clipB)">
<path d="M866.8 452 L878.3 452.5 L891.7 454.8 L908.9 456 L926.1 457.7 L943.3 461.5 L964.4 465.4 L981.6 471.1 L993.1 473.4 L1001.7 471.1 L1017 492.2 L1019.9 521.8 L1023.7 551.5 L1028.5 521.8 L1031.4 502.7" fill="none" stroke="#C79A14" stroke-width="4.3" stroke-linejoin="round" stroke-linecap="round" />
<path d="M1031.4 502.7 L1032.4 501.2 L1033.8 499.1 L1035.3 496.6 L1037.1 493.8 L1039 491 L1041 488.2 L1042.9 485.7 L1044.8 483.5 L1046.5 481.7 L1048.2 480.2 L1049.8 478.7 L1051.5 477.4 L1053.3 476.1 L1055.3 474.8 L1057.5 473.5 L1060.1 472.1 L1063 470.5 L1066.3 469 L1069.9 467.5 L1073.6 465.9 L1077.4 464.3 L1081.3 462.7 L1085.1 461.2 L1088.8 459.6 L1092.5 458 L1096.2 456.5 L1100 454.9 L1103.8 453.3 L1107.4 451.7 L1111 450.2 L1114.4 448.6 L1117.5 447.2 L1120.4 445.8 L1123.1 444.4 L1125.6 443 L1128 441.7 L1130.3 440.4 L1132.5 439.2 L1134.6 437.9 L1136.7 436.7 L1138.6 435.4 L1140.5 434.2 L1142.3 433 L1143.9 431.9 L1145.6 430.7 L1147.1 429.5 L1148.6 428.3 L1150 427.1 L1151.4 425.8 L1152.8 424.5 L1154 423.2 L1155.3 421.9 L1156.4 420.5 L1157.5 419.2 L1158.6 417.9 L1159.6 416.6 L1160.6 415.2 L1161.7 413.7 L1162.6 412.1 L1163.6 410.6 L1164.4 409.2 L1165.2 407.9 L1165.8 406.8 L1166.3 406" fill="none" stroke="#C79A14" stroke-width="4.3" stroke-linejoin="round" stroke-linecap="round" />
<path d="M866.8 105.6 L872.2 106.2 L879.4 107 L888.1 108.1 L897.7 109.2 L907.7 110.4 L917.7 111.6 L927.2 112.6 L935.7 113.6 L943.6 114.4 L951.3 115.2 L958.9 116 L966.3 116.7 L973.5 117.3 L980.4 118 L986.9 118.7 L993.1 119.3 L998.8 120 L1004 120.5 L1008.9 121.1 L1013.4 121.7 L1017.9 122.2 L1022.3 122.8 L1026.7 123.4 L1031.4 124.1 L1036.2 124.9 L1041 125.6 L1045.7 126.4 L1050.5 127.3 L1055.3 128.1 L1060.1 129 L1064.9 129.9 L1069.7 130.8 L1074.5 131.7 L1079.5 132.7 L1084.4 133.6 L1089.4 134.6 L1094.3 135.6 L1099 136.5 L1103.6 137.5 L1107.9 138.5 L1112 139.4 L1115.8 140.4 L1119.4 141.3 L1122.8 142.2 L1126.2 143.2 L1129.6 144.1 L1133.1 145.1 L1136.7 146.1 L1140.5 147.2 L1144.7 148.4 L1149 149.7 L1153.3 150.9 L1157.3 152.1 L1161 153.2 L1164 154.1 L1166.3 154.7" fill="none" stroke="#3CA56B" stroke-width="4.3" stroke-linejoin="round" stroke-linecap="round" />
<path d="M866.8 118.4 L869.1 118.9 L872.1 119.5 L875.7 120.2 L879.7 121.1 L884 122 L888.5 123 L893 124 L897.4 125.1 L901.9 126.2 L906.7 127.5 L911.6 128.8 L916.7 130.2 L921.7 131.6 L926.6 132.9 L931.3 134.3 L935.7 135.6 L939.7 136.8 L943.5 138 L947.2 139.1 L950.6 140.3 L954.1 141.4 L957.4 142.6 L960.9 143.8 L964.4 145.2 L968.1 146.6 L971.8 148.1 L975.6 149.6 L979.4 151.2 L983 152.8 L986.6 154.4 L990 156 L993.1 157.6 L996 159.1 L998.7 160.7 L1001.2 162.2 L1003.5 163.7 L1005.8 165.2 L1008 166.8 L1010.1 168.4 L1012.2 170 L1014.4 171.7 L1016.4 173.5 L1018.4 175.2 L1020.4 177 L1022.3 178.9 L1024.1 180.7 L1025.9 182.5 L1027.6 184.4 L1029.2 186.3 L1030.8 188.1 L1032.3 190 L1033.8 191.9 L1035.2 193.8 L1036.5 195.7 L1037.8 197.7 L1039 199.7 L1040.2 201.7 L1041.3 203.8 L1042.3 205.9 L1043.2 208 L1044.1 210.1 L1045 212.3 L1045.9 214.6 L1046.7 216.9 L1047.5 219.4 L1048.3 221.9 L1049 224.5 L1049.7 227.1 L1050.4 229.8 L1051 232.5 L1051.7 235.2 L1052.4 238 L1053.2 240.7 L1053.9 243.5 L1054.6 246.2 L1055.4 249 L1056.1 251.8 L1056.8 254.8 L1057.5 257.8 L1058.2 261 L1058.8 264.3 L1059.5 267.7 L1060.1 271.3 L1060.7 275 L1061.3 278.6 L1061.9 282.4 L1062.4 286 L1063 289.7 L1063.5 292.9 L1063.9 295.7 L1064.4 298.2 L1064.8 300.9 L1065.3 303.9 L1065.7 307.7 L1066.2 312.4 L1066.8 318.4 L1067.4 326 L1068.1 335.1 L1068.9 345.3 L1069.6 356.1 L1070.4 367.1 L1071.2 378 L1071.9 388.2 L1072.5 397.4 L1073.2 406 L1073.8 414.6 L1074.4 423.1 L1075 431.1 L1075.5 438.5 L1076 445 L1076.4 450.6 L1076.7 454.8" fill="none" stroke="#595959" stroke-width="4.3" stroke-linejoin="round" stroke-linecap="round" />
<path d="M1076.7 454.8 L1079.2 454 L1082.6 452.9 L1086.7 451.6 L1091.1 450.1 L1095.8 448.6 L1100.3 447.1 L1104.4 445.6 L1107.9 444.3 L1110.9 443.1 L1113.6 442 L1116 440.9 L1118.3 439.8 L1120.4 438.7 L1122.6 437.6 L1124.8 436.5 L1127.1 435.3 L1129.5 434.1 L1132 432.9 L1134.6 431.6 L1137.1 430.3 L1139.6 429 L1142 427.8 L1144.2 426.5 L1146.2 425.2 L1148 423.9 L1149.7 422.6 L1151.2 421.4 L1152.6 420.1 L1153.9 418.8 L1155.2 417.5 L1156.5 416.1 L1157.7 414.6 L1159 413 L1160.3 411.2 L1161.5 409.2 L1162.7 407.3 L1163.8 405.4 L1164.8 403.7 L1165.7 402.3 L1166.3 401.2" fill="none" stroke="#595959" stroke-width="4.3" stroke-linejoin="round" stroke-linecap="round" />
<path d="M866.8 99.8 L870.7 100.5 L876 101.5 L882.3 102.6 L889.3 103.9 L896.5 105.2 L903.8 106.5 L910.5 107.7 L916.6 108.8 L921.9 109.8 L926.9 110.6 L931.8 111.5 L936.4 112.3 L941 113.1 L945.5 113.9 L950.1 114.7 L954.8 115.5 L959.6 116.3 L964.4 117.1 L969.2 117.8 L974 118.6 L978.8 119.3 L983.5 120.2 L988.3 121.1 L993.1 122.2 L998 123.4 L1002.9 124.7 L1007.9 126.1 L1012.8 127.6 L1017.7 129.1 L1022.5 130.6 L1027.1 132.2 L1031.4 133.7 L1035.4 135.2 L1039.2 136.6 L1042.9 138 L1046.3 139.5 L1049.8 141 L1053.1 142.6 L1056.6 144.3 L1060.1 146.1 L1063.7 148.1 L1067.5 150.3 L1071.3 152.5 L1075 154.9 L1078.7 157.2 L1082.3 159.6 L1085.7 162 L1088.8 164.3 L1091.7 166.6 L1094.4 168.8 L1097 171.1 L1099.4 173.3 L1101.7 175.6 L1103.9 177.9 L1106 180.2 L1107.9 182.5 L1109.8 184.8 L1111.4 187.1 L1112.9 189.4 L1114.3 191.8 L1115.6 194.1 L1116.9 196.6 L1118.1 199 L1119.4 201.6 L1120.7 204.3 L1122 207 L1123.3 209.8 L1124.6 212.6 L1125.8 215.5 L1126.9 218.5 L1128 221.5 L1129 224.6 L1129.9 227.7 L1130.7 231 L1131.5 234.3 L1132.2 237.6 L1132.9 241 L1133.5 244.5 L1134.1 247.9 L1134.7 251.4 L1135.3 254.8 L1135.9 258.2 L1136.4 261.6 L1136.8 265 L1137.3 268.5 L1137.7 272.2 L1138.1 276 L1138.6 280.1 L1139 284.3 L1139.3 288.5 L1139.6 292.8 L1139.9 297.3 L1140.3 302 L1140.6 307.1 L1141 312.5 L1141.4 318.4 L1141.9 324.9 L1142.5 332.2 L1143.1 339.9 L1143.7 347.9 L1144.3 356 L1145 363.8 L1145.6 371.4 L1146.2 378.3 L1146.9 384.9 L1147.5 391.6 L1148.2 398.2 L1148.9 404.5 L1149.6 410.3 L1150.1 415.5 L1150.6 419.9 L1151 423.3" fill="none" stroke="#053A82" stroke-width="4.3" stroke-linejoin="round" stroke-linecap="round" />
<path d="M1151 423.3 L1161.5 408.9 L1166.3 401.2" fill="none" stroke="#053A82" stroke-width="4.3" stroke-linejoin="round" stroke-linecap="round" />
<path d="M866.8 111.7 L869.1 112.1 L872.1 112.6 L875.7 113.2 L879.7 113.9 L884 114.7 L888.5 115.5 L893 116.4 L897.4 117.4 L901.9 118.5 L906.7 119.7 L911.6 121 L916.7 122.4 L921.7 123.8 L926.6 125.2 L931.3 126.6 L935.7 127.9 L939.7 129.2 L943.5 130.5 L947.2 131.8 L950.6 133 L954.1 134.3 L957.4 135.6 L960.9 137 L964.4 138.5 L968.1 140 L971.8 141.6 L975.6 143.3 L979.4 145 L983 146.8 L986.6 148.5 L990 150.2 L993.1 151.9 L996 153.4 L998.6 155 L1001 156.4 L1003.3 157.9 L1005.5 159.4 L1007.7 160.9 L1009.9 162.6 L1012.2 164.3 L1014.7 166.2 L1017.2 168.1 L1019.8 170.2 L1022.3 172.3 L1024.8 174.4 L1027.1 176.5 L1029.4 178.6 L1031.4 180.6 L1033.2 182.5 L1034.8 184.3 L1036.3 186.1 L1037.7 187.9 L1039 189.8 L1040.3 191.7 L1041.6 193.7 L1042.9 195.9 L1044.2 198.2 L1045.4 200.7 L1046.7 203.2 L1047.9 205.8 L1049.1 208.5 L1050.2 211.3 L1051.3 214.1 L1052.4 216.9 L1053.5 219.8 L1054.5 222.8 L1055.5 225.8 L1056.5 228.9 L1057.4 232 L1058.4 235.2 L1059.2 238.5 L1060.1 241.8 L1060.9 245.2 L1061.7 248.7 L1062.5 252.3 L1063.2 255.9 L1063.9 259.6 L1064.6 263.3 L1065.2 266.9 L1065.8 270.5 L1066.4 274.1 L1067 277.7 L1067.5 281.3 L1068 284.9 L1068.5 288.5 L1068.9 292.1 L1069.3 295.6 L1069.7 299.2 L1070 302.5 L1070.2 305.5 L1070.4 308.2 L1070.6 311 L1070.7 314.2 L1070.9 317.9 L1071.2 322.4 L1071.6 327.9 L1072 334.8 L1072.5 342.9 L1073 351.9 L1073.6 361.4 L1074.2 371.1 L1074.9 380.5 L1075.6 389.4 L1076.4 397.4 L1077.2 404.8 L1078.3 412.2 L1079.4 419.4 L1080.5 426.2 L1081.6 432.4 L1082.6 437.9 L1083.4 442.6 L1084 446.2" fill="none" stroke="#FF7F0E" stroke-width="4.3" stroke-linejoin="round" stroke-linecap="round" />
<path d="M1084 446.2 L1085.9 445.6 L1088.4 444.9 L1091.4 444 L1094.8 442.9 L1098.3 441.8 L1101.7 440.7 L1105 439.6 L1107.9 438.6 L1110.6 437.5 L1113.1 436.5 L1115.5 435.4 L1117.8 434.4 L1120.1 433.3 L1122.4 432.2 L1124.7 431.1 L1127.1 430 L1129.5 428.8 L1132 427.6 L1134.6 426.4 L1137.1 425.2 L1139.6 424 L1142 422.8 L1144.2 421.6 L1146.2 420.4 L1148 419.2 L1149.7 418.1 L1151.2 416.9 L1152.6 415.8 L1153.9 414.6 L1155.2 413.4 L1156.5 412.1 L1157.7 410.8 L1159 409.3 L1160.3 407.6 L1161.5 405.8 L1162.7 404 L1163.8 402.3 L1164.8 400.7 L1165.7 399.4 L1166.3 398.4" fill="none" stroke="#FF7F0E" stroke-width="4.3" stroke-linejoin="round" stroke-linecap="round" />
<path d="M866.8 115.1 L872.2 115.3 L879.4 115.5 L888.1 115.8 L897.7 116.1 L907.7 116.5 L917.7 116.8 L927.2 117.1 L935.7 117.4 L943.6 117.7 L951.3 117.9 L958.9 118.2 L966.3 118.4 L973.5 118.6 L980.4 118.9 L986.9 119.1 L993.1 119.3 L998.8 119.6 L1004 119.8 L1008.9 120 L1013.4 120.2 L1017.9 120.5 L1022.3 120.7 L1026.7 121 L1031.4 121.2 L1036.2 121.6 L1041 121.9 L1045.7 122.3 L1050.5 122.6 L1055.3 123 L1060.1 123.4 L1064.9 123.7 L1069.7 124.1 L1074.5 124.5 L1079.5 124.9 L1084.4 125.2 L1089.4 125.6 L1094.3 126 L1099 126.3 L1103.6 126.7 L1107.9 127 L1112 127.3 L1115.8 127.5 L1119.4 127.7 L1122.8 127.9 L1126.2 128.2 L1129.6 128.4 L1133.1 128.6 L1136.7 128.9 L1140.5 129.2 L1144.7 129.6 L1149 130 L1153.3 130.5 L1157.3 130.9 L1161 131.2 L1164 131.5 L1166.3 131.8" fill="none" stroke="#B57AE6" stroke-width="4.3" stroke-linejoin="round" stroke-linecap="round" />
</g>
<rect x="792.6" y="26.5" width="446.2" height="545.5" fill="none" stroke="#000" stroke-width="5.5" />
<line x1="791.4" y1="23.8" x2="791.4" y2="574.8" stroke="#000" stroke-width="8" />
<line x1="791.6" y1="39" x2="781.4" y2="39" stroke="#000" stroke-width="5.3" />
<line x1="791.6" y1="83.4" x2="781.4" y2="83.4" stroke="#000" stroke-width="5.3" />
<line x1="791.6" y1="127.8" x2="781.4" y2="127.8" stroke="#000" stroke-width="5.3" />
<line x1="791.6" y1="172.2" x2="781.4" y2="172.2" stroke="#000" stroke-width="5.3" />
<line x1="791.6" y1="216.6" x2="781.4" y2="216.6" stroke="#000" stroke-width="5.3" />
<line x1="791.6" y1="261" x2="781.4" y2="261" stroke="#000" stroke-width="5.3" />
<line x1="791.6" y1="305.4" x2="781.4" y2="305.4" stroke="#000" stroke-width="5.3" />
<line x1="791.6" y1="349.8" x2="781.4" y2="349.8" stroke="#000" stroke-width="5.3" />
<line x1="791.6" y1="394.2" x2="781.4" y2="394.2" stroke="#000" stroke-width="5.3" />
<line x1="791.6" y1="438.6" x2="781.4" y2="438.6" stroke="#000" stroke-width="5.3" />
<line x1="791.6" y1="483" x2="781.4" y2="483" stroke="#000" stroke-width="5.3" />
<line x1="791.6" y1="527.4" x2="781.4" y2="527.4" stroke="#000" stroke-width="5.3" />
<line x1="782.1" y1="572" x2="792.6" y2="572" stroke="#000" stroke-width="5.5" />
<line x1="791.6" y1="70.1" x2="786.4" y2="70.1" stroke="#000" stroke-width="2.6" />
<line x1="791.6" y1="63.9" x2="786.4" y2="63.9" stroke="#000" stroke-width="2.6" />
<line x1="791.6" y1="60.3" x2="786.4" y2="60.3" stroke="#000" stroke-width="2.6" />
<line x1="791.6" y1="55.9" x2="786.4" y2="55.9" stroke="#000" stroke-width="2.6" />
<line x1="791.6" y1="114.5" x2="786.4" y2="114.5" stroke="#000" stroke-width="2.6" />
<line x1="791.6" y1="108.3" x2="786.4" y2="108.3" stroke="#000" stroke-width="2.6" />
<line x1="791.6" y1="104.7" x2="786.4" y2="104.7" stroke="#000" stroke-width="2.6" />
<line x1="791.6" y1="100.3" x2="786.4" y2="100.3" stroke="#000" stroke-width="2.6" />
<line x1="791.6" y1="158.9" x2="786.4" y2="158.9" stroke="#000" stroke-width="2.6" />
<line x1="791.6" y1="152.7" x2="786.4" y2="152.7" stroke="#000" stroke-width="2.6" />
<line x1="791.6" y1="149.1" x2="786.4" y2="149.1" stroke="#000" stroke-width="2.6" />
<line x1="791.6" y1="144.7" x2="786.4" y2="144.7" stroke="#000" stroke-width="2.6" />
<line x1="791.6" y1="203.3" x2="786.4" y2="203.3" stroke="#000" stroke-width="2.6" />
<line x1="791.6" y1="197.1" x2="786.4" y2="197.1" stroke="#000" stroke-width="2.6" />
<line x1="791.6" y1="193.5" x2="786.4" y2="193.5" stroke="#000" stroke-width="2.6" />
<line x1="791.6" y1="189.1" x2="786.4" y2="189.1" stroke="#000" stroke-width="2.6" />
<line x1="791.6" y1="247.7" x2="786.4" y2="247.7" stroke="#000" stroke-width="2.6" />
<line x1="791.6" y1="241.5" x2="786.4" y2="241.5" stroke="#000" stroke-width="2.6" />
<line x1="791.6" y1="237.9" x2="786.4" y2="237.9" stroke="#000" stroke-width="2.6" />
<line x1="791.6" y1="233.5" x2="786.4" y2="233.5" stroke="#000" stroke-width="2.6" />
<line x1="791.6" y1="292.1" x2="786.4" y2="292.1" stroke="#000" stroke-width="2.6" />
<line x1="791.6" y1="285.9" x2="786.4" y2="285.9" stroke="#000" stroke-width="2.6" />
<line x1="791.6" y1="282.3" x2="786.4" y2="282.3" stroke="#000" stroke-width="2.6" />
<line x1="791.6" y1="277.9" x2="786.4" y2="277.9" stroke="#000" stroke-width="2.6" />
<line x1="791.6" y1="336.5" x2="786.4" y2="336.5" stroke="#000" stroke-width="2.6" />
<line x1="791.6" y1="330.3" x2="786.4" y2="330.3" stroke="#000" stroke-width="2.6" />
<line x1="791.6" y1="326.7" x2="786.4" y2="326.7" stroke="#000" stroke-width="2.6" />
<line x1="791.6" y1="322.3" x2="786.4" y2="322.3" stroke="#000" stroke-width="2.6" />
<line x1="791.6" y1="380.9" x2="786.4" y2="380.9" stroke="#000" stroke-width="2.6" />
<line x1="791.6" y1="374.7" x2="786.4" y2="374.7" stroke="#000" stroke-width="2.6" />
<line x1="791.6" y1="371.1" x2="786.4" y2="371.1" stroke="#000" stroke-width="2.6" />
<line x1="791.6" y1="366.7" x2="786.4" y2="366.7" stroke="#000" stroke-width="2.6" />
<line x1="791.6" y1="425.3" x2="786.4" y2="425.3" stroke="#000" stroke-width="2.6" />
<line x1="791.6" y1="419.1" x2="786.4" y2="419.1" stroke="#000" stroke-width="2.6" />
<line x1="791.6" y1="415.5" x2="786.4" y2="415.5" stroke="#000" stroke-width="2.6" />
<line x1="791.6" y1="411.1" x2="786.4" y2="411.1" stroke="#000" stroke-width="2.6" />
<line x1="791.6" y1="469.7" x2="786.4" y2="469.7" stroke="#000" stroke-width="2.6" />
<line x1="791.6" y1="463.5" x2="786.4" y2="463.5" stroke="#000" stroke-width="2.6" />
<line x1="791.6" y1="459.9" x2="786.4" y2="459.9" stroke="#000" stroke-width="2.6" />
<line x1="791.6" y1="455.5" x2="786.4" y2="455.5" stroke="#000" stroke-width="2.6" />
<line x1="791.6" y1="514.1" x2="786.4" y2="514.1" stroke="#000" stroke-width="2.6" />
<line x1="791.6" y1="507.9" x2="786.4" y2="507.9" stroke="#000" stroke-width="2.6" />
<line x1="791.6" y1="504.3" x2="786.4" y2="504.3" stroke="#000" stroke-width="2.6" />
<line x1="791.6" y1="499.9" x2="786.4" y2="499.9" stroke="#000" stroke-width="2.6" />
<line x1="791.6" y1="558.5" x2="786.4" y2="558.5" stroke="#000" stroke-width="2.6" />
<line x1="791.6" y1="552.3" x2="786.4" y2="552.3" stroke="#000" stroke-width="2.6" />
<line x1="791.6" y1="548.7" x2="786.4" y2="548.7" stroke="#000" stroke-width="2.6" />
<line x1="791.6" y1="544.3" x2="786.4" y2="544.3" stroke="#000" stroke-width="2.6" />
<line x1="792.6" y1="572" x2="792.6" y2="581.8" stroke="#000" stroke-width="5.5" />
<line x1="867" y1="572" x2="867" y2="581.8" stroke="#000" stroke-width="5.5" />
<line x1="941.3" y1="572" x2="941.3" y2="581.8" stroke="#000" stroke-width="5.5" />
<line x1="1015.7" y1="572" x2="1015.7" y2="581.8" stroke="#000" stroke-width="5.5" />
<line x1="1090.1" y1="572" x2="1090.1" y2="581.8" stroke="#000" stroke-width="5.5" />
<line x1="1164.4" y1="572" x2="1164.4" y2="581.8" stroke="#000" stroke-width="5.5" />
<line x1="1238.8" y1="572" x2="1238.8" y2="581.8" stroke="#000" stroke-width="5.5" />
<line x1="829.8" y1="572" x2="829.8" y2="577.8" stroke="#000" stroke-width="4" />
<line x1="904.1" y1="572" x2="904.1" y2="577.8" stroke="#000" stroke-width="4" />
<line x1="978.5" y1="572" x2="978.5" y2="577.8" stroke="#000" stroke-width="4" />
<line x1="1052.9" y1="572" x2="1052.9" y2="577.8" stroke="#000" stroke-width="4" />
<line x1="1127.2" y1="572" x2="1127.2" y2="577.8" stroke="#000" stroke-width="4" />
<line x1="1201.6" y1="572" x2="1201.6" y2="577.8" stroke="#000" stroke-width="4" />
<text x="792.6" y="618.5" font-family='"Liberation Sans", sans-serif' font-size="36" font-weight="bold" text-anchor="middle" fill="#000" >-60</text>
<text x="867" y="618.5" font-family='"Liberation Sans", sans-serif' font-size="36" font-weight="bold" text-anchor="middle" fill="#000" >-40</text>
<text x="941.3" y="618.5" font-family='"Liberation Sans", sans-serif' font-size="36" font-weight="bold" text-anchor="middle" fill="#000" >-20</text>
<text x="1015.7" y="618.5" font-family='"Liberation Sans", sans-serif' font-size="36" font-weight="bold" text-anchor="middle" fill="#000" >0</text>
<text x="1090.1" y="618.5" font-family='"Liberation Sans", sans-serif' font-size="36" font-weight="bold" text-anchor="middle" fill="#000" >20</text>
<text x="1164.4" y="618.5" font-family='"Liberation Sans", sans-serif' font-size="36" font-weight="bold" text-anchor="middle" fill="#000" >40</text>
<text x="1238.8" y="618.5" font-family='"Liberation Sans", sans-serif' font-size="36" font-weight="bold" text-anchor="middle" fill="#000" >60</text>
<g transform="translate(751.2 52) scale(1 1.04)"><text x="1.4" y="0" font-family='"Liberation Sans", sans-serif' font-size="35.3" font-weight="bold" text-anchor="end">10</text><text x="2.7" y="-15" font-family='"Liberation Sans", sans-serif' font-size="24" font-weight="bold" text-anchor="start">-1</text></g>
<g transform="translate(751.2 140.8) scale(1 1.04)"><text x="1.4" y="0" font-family='"Liberation Sans", sans-serif' font-size="35.3" font-weight="bold" text-anchor="end">10</text><text x="2.7" y="-15" font-family='"Liberation Sans", sans-serif' font-size="24" font-weight="bold" text-anchor="start">-3</text></g>
<g transform="translate(751.2 229.6) scale(1 1.04)"><text x="1.4" y="0" font-family='"Liberation Sans", sans-serif' font-size="35.3" font-weight="bold" text-anchor="end">10</text><text x="2.7" y="-15" font-family='"Liberation Sans", sans-serif' font-size="24" font-weight="bold" text-anchor="start">-5</text></g>
<g transform="translate(751.2 318.4) scale(1 1.04)"><text x="1.4" y="0" font-family='"Liberation Sans", sans-serif' font-size="35.3" font-weight="bold" text-anchor="end">10</text><text x="2.7" y="-15" font-family='"Liberation Sans", sans-serif' font-size="24" font-weight="bold" text-anchor="start">-7</text></g>
<g transform="translate(751.2 407.2) scale(1 1.04)"><text x="1.4" y="0" font-family='"Liberation Sans", sans-serif' font-size="35.3" font-weight="bold" text-anchor="end">10</text><text x="2.7" y="-15" font-family='"Liberation Sans", sans-serif' font-size="24" font-weight="bold" text-anchor="start">-9</text></g>
<g transform="translate(738.7 496) scale(1 1.04)"><text x="1.4" y="0" font-family='"Liberation Sans", sans-serif' font-size="35.3" font-weight="bold" text-anchor="end">10</text><text x="2.7" y="-15" font-family='"Liberation Sans", sans-serif' font-size="24" font-weight="bold" text-anchor="start">-11</text></g>
<g transform="translate(738.7 584.8) scale(1 1.04)"><text x="1.4" y="0" font-family='"Liberation Sans", sans-serif' font-size="35.3" font-weight="bold" text-anchor="end">10</text><text x="2.7" y="-15" font-family='"Liberation Sans", sans-serif' font-size="24" font-weight="bold" text-anchor="start">-13</text></g>
<text x="1019" y="666.5" font-family='"Liberation Sans", sans-serif' font-size="39" font-weight="bold" text-anchor="middle" fill="#000" ><tspan font-style="italic">V</tspan><tspan font-size="26.5" dy="9.8">GS</tspan><tspan dy="-9.8"> (V)</tspan></text>
<text transform="translate(699 297) rotate(-90)" font-family='"Liberation Sans", sans-serif' font-size="39.5" font-weight="bold" text-anchor="middle">|<tspan font-style="italic">I</tspan><tspan font-size="26.9" dy="8.7">DS</tspan><tspan dy="-8.7">| (A)</tspan></text>
<text x="1130" y="74" font-family='"Liberation Sans", sans-serif' font-size="31" font-weight="bold" text-anchor="start" fill="#000" >PEAI</text>
<line x1="823" y1="240.7" x2="874" y2="240.7" stroke="#595959" stroke-width="3.9" stroke-linecap="round"/>
<text x="881.4" y="248.1" font-family='"Liberation Sans", sans-serif' font-size="28.3" font-weight="bold" text-anchor="start" fill="#000" >fresh</text>
<line x1="823" y1="277.6" x2="874" y2="277.6" stroke="#FF7F0E" stroke-width="3.9" stroke-linecap="round"/>
<text x="881.4" y="285" font-family='"Liberation Sans", sans-serif' font-size="28.3" font-weight="bold" text-anchor="start" fill="#000" >1 day</text>
<line x1="823" y1="312.6" x2="874" y2="312.6" stroke="#053A82" stroke-width="3.9" stroke-linecap="round"/>
<text x="881.4" y="320" font-family='"Liberation Sans", sans-serif' font-size="28.3" font-weight="bold" text-anchor="start" fill="#000" >3 days</text>
<line x1="823" y1="348.8" x2="874" y2="348.8" stroke="#3CA56B" stroke-width="3.9" stroke-linecap="round"/>
<text x="881.4" y="356.2" font-family='"Liberation Sans", sans-serif' font-size="28.3" font-weight="bold" text-anchor="start" fill="#000" >5 days</text>
<line x1="823" y1="385" x2="874" y2="385" stroke="#B57AE6" stroke-width="3.9" stroke-linecap="round"/>
<text x="881.4" y="392.4" font-family='"Liberation Sans", sans-serif' font-size="28.3" font-weight="bold" text-anchor="start" fill="#000" >7 days</text>
<line x1="823" y1="420.4" x2="874" y2="420.4" stroke="#C79A14" stroke-width="3.9" stroke-linecap="round"/>
<text x="881.4" y="427.8" font-family='"Liberation Sans", sans-serif' font-size="28.3" font-weight="bold" text-anchor="start" fill="#000" >30 days</text>
<text x="675" y="48" font-family='"Liberation Serif", serif' font-size="55" font-weight="bold" text-anchor="start" fill="#000" >b</text>
<path d="M1456.1 249.6 L1468.3 245 L1492.4 235.4 L1516.6 228.1 L1540.3 234.3 L1575.9 225.8 L1636 231.6 L1695.3 217 L1814.7 226.6" fill="none" stroke="#FF7F0E" stroke-width="2.6" stroke-linejoin="round" stroke-linecap="butt" stroke-dasharray="5.6 4.6"/>
<path d="M1456.1 370.5 L1468.3 330 L1492.4 295.5 L1516.6 356.7 L1540.3 391.2 L1575.9 405 L1636 432.5 L1695.3 452.8 L1814.7 493.8" fill="none" stroke="#053A82" stroke-width="2.6" stroke-linejoin="round" stroke-linecap="butt" stroke-dasharray="5.6 4.6"/>
<circle cx="1456.1" cy="249.6" r="6.8" fill="url(#sO)"/>
<circle cx="1468.3" cy="245" r="6.8" fill="url(#sO)"/>
<circle cx="1492.4" cy="235.4" r="6.8" fill="url(#sO)"/>
<circle cx="1516.6" cy="228.1" r="6.8" fill="url(#sO)"/>
<circle cx="1540.3" cy="234.3" r="6.8" fill="url(#sO)"/>
<circle cx="1575.9" cy="225.8" r="6.8" fill="url(#sO)"/>
<circle cx="1636" cy="231.6" r="6.8" fill="url(#sO)"/>
<circle cx="1695.3" cy="217" r="6.8" fill="url(#sO)"/>
<circle cx="1814.7" cy="226.6" r="6.8" fill="url(#sO)"/>
<circle cx="1456.1" cy="370.5" r="6.8" fill="url(#sB)"/>
<circle cx="1468.3" cy="330" r="6.8" fill="url(#sB)"/>
<circle cx="1492.4" cy="295.5" r="6.8" fill="url(#sB)"/>
<circle cx="1516.6" cy="356.7" r="6.8" fill="url(#sB)"/>
<circle cx="1540.3" cy="391.2" r="6.8" fill="url(#sB)"/>
<circle cx="1575.9" cy="405" r="6.8" fill="url(#sB)"/>
<circle cx="1636" cy="432.5" r="6.8" fill="url(#sB)"/>
<circle cx="1695.3" cy="452.8" r="6.8" fill="url(#sB)"/>
<circle cx="1814.7" cy="493.8" r="6.8" fill="url(#sB)"/>
<line x1="1544" y1="216.7" x2="1470" y2="216.7" stroke="#FF7F0E" stroke-width="3.4" />
<path d="M1453.5 216.7 L1477.5 210 L1477.5 223.4 Z" fill="#FF7F0E"/>
<line x1="1735.5" y1="438.3" x2="1808" y2="438.3" stroke="#053A82" stroke-width="3.4" />
<path d="M1826 438.3 L1802 431.6 L1802 445 Z" fill="#053A82"/>
<rect x="1427" y="29.7" width="447.6" height="546.3" fill="none" stroke="#000" stroke-width="5.5" />
<line x1="1427" y1="139" x2="1416" y2="139" stroke="#000" stroke-width="5.3" />
<line x1="1427" y1="248.2" x2="1416" y2="248.2" stroke="#000" stroke-width="5.3" />
<line x1="1427" y1="357.5" x2="1416" y2="357.5" stroke="#000" stroke-width="5.3" />
<line x1="1427" y1="466.7" x2="1416" y2="466.7" stroke="#000" stroke-width="5.3" />
<line x1="1416" y1="576" x2="1427" y2="576" stroke="#000" stroke-width="5.5" />
<line x1="1416" y1="29.7" x2="1427" y2="29.7" stroke="#000" stroke-width="5.5" />
<line x1="1427" y1="106.1" x2="1422" y2="106.1" stroke="#000" stroke-width="2.8" />
<line x1="1427" y1="86.8" x2="1422" y2="86.8" stroke="#000" stroke-width="2.8" />
<line x1="1427" y1="73.2" x2="1422" y2="73.2" stroke="#000" stroke-width="2.8" />
<line x1="1427" y1="62.6" x2="1422" y2="62.6" stroke="#000" stroke-width="2.8" />
<line x1="1427" y1="53.9" x2="1422" y2="53.9" stroke="#000" stroke-width="2.8" />
<line x1="1427" y1="46.6" x2="1422" y2="46.6" stroke="#000" stroke-width="2.8" />
<line x1="1427" y1="40.3" x2="1422" y2="40.3" stroke="#000" stroke-width="2.8" />
<line x1="1427" y1="34.7" x2="1422" y2="34.7" stroke="#000" stroke-width="2.8" />
<line x1="1427" y1="215.3" x2="1422" y2="215.3" stroke="#000" stroke-width="2.8" />
<line x1="1427" y1="196.1" x2="1422" y2="196.1" stroke="#000" stroke-width="2.8" />
<line x1="1427" y1="182.4" x2="1422" y2="182.4" stroke="#000" stroke-width="2.8" />
<line x1="1427" y1="171.9" x2="1422" y2="171.9" stroke="#000" stroke-width="2.8" />
<line x1="1427" y1="163.2" x2="1422" y2="163.2" stroke="#000" stroke-width="2.8" />
<line x1="1427" y1="155.9" x2="1422" y2="155.9" stroke="#000" stroke-width="2.8" />
<line x1="1427" y1="149.5" x2="1422" y2="149.5" stroke="#000" stroke-width="2.8" />
<line x1="1427" y1="144" x2="1422" y2="144" stroke="#000" stroke-width="2.8" />
<line x1="1427" y1="324.6" x2="1422" y2="324.6" stroke="#000" stroke-width="2.8" />
<line x1="1427" y1="305.3" x2="1422" y2="305.3" stroke="#000" stroke-width="2.8" />
<line x1="1427" y1="291.7" x2="1422" y2="291.7" stroke="#000" stroke-width="2.8" />
<line x1="1427" y1="281.1" x2="1422" y2="281.1" stroke="#000" stroke-width="2.8" />
<line x1="1427" y1="272.5" x2="1422" y2="272.5" stroke="#000" stroke-width="2.8" />
<line x1="1427" y1="265.1" x2="1422" y2="265.1" stroke="#000" stroke-width="2.8" />
<line x1="1427" y1="258.8" x2="1422" y2="258.8" stroke="#000" stroke-width="2.8" />
<line x1="1427" y1="253.2" x2="1422" y2="253.2" stroke="#000" stroke-width="2.8" />
<line x1="1427" y1="433.8" x2="1422" y2="433.8" stroke="#000" stroke-width="2.8" />
<line x1="1427" y1="414.6" x2="1422" y2="414.6" stroke="#000" stroke-width="2.8" />
<line x1="1427" y1="401" x2="1422" y2="401" stroke="#000" stroke-width="2.8" />
<line x1="1427" y1="390.4" x2="1422" y2="390.4" stroke="#000" stroke-width="2.8" />
<line x1="1427" y1="381.7" x2="1422" y2="381.7" stroke="#000" stroke-width="2.8" />
<line x1="1427" y1="374.4" x2="1422" y2="374.4" stroke="#000" stroke-width="2.8" />
<line x1="1427" y1="368.1" x2="1422" y2="368.1" stroke="#000" stroke-width="2.8" />
<line x1="1427" y1="362.5" x2="1422" y2="362.5" stroke="#000" stroke-width="2.8" />
<line x1="1427" y1="543.1" x2="1422" y2="543.1" stroke="#000" stroke-width="2.8" />
<line x1="1427" y1="523.9" x2="1422" y2="523.9" stroke="#000" stroke-width="2.8" />
<line x1="1427" y1="510.2" x2="1422" y2="510.2" stroke="#000" stroke-width="2.8" />
<line x1="1427" y1="499.6" x2="1422" y2="499.6" stroke="#000" stroke-width="2.8" />
<line x1="1427" y1="491" x2="1422" y2="491" stroke="#000" stroke-width="2.8" />
<line x1="1427" y1="483.7" x2="1422" y2="483.7" stroke="#000" stroke-width="2.8" />
<line x1="1427" y1="477.3" x2="1422" y2="477.3" stroke="#000" stroke-width="2.8" />
<line x1="1427" y1="471.7" x2="1422" y2="471.7" stroke="#000" stroke-width="2.8" />
<line x1="1456.5" y1="576" x2="1456.5" y2="585.8" stroke="#000" stroke-width="5.5" />
<line x1="1575.9" y1="576" x2="1575.9" y2="585.8" stroke="#000" stroke-width="5.5" />
<line x1="1695.3" y1="576" x2="1695.3" y2="585.8" stroke="#000" stroke-width="5.5" />
<line x1="1814.7" y1="576" x2="1814.7" y2="585.8" stroke="#000" stroke-width="5.5" />
<line x1="1516.2" y1="576" x2="1516.2" y2="581.8" stroke="#000" stroke-width="4" />
<line x1="1635.6" y1="576" x2="1635.6" y2="581.8" stroke="#000" stroke-width="4" />
<line x1="1755" y1="576" x2="1755" y2="581.8" stroke="#000" stroke-width="4" />
<line x1="1874.4" y1="576" x2="1874.4" y2="581.8" stroke="#000" stroke-width="4" />
<text x="1456.5" y="621.7" font-family='"Liberation Sans", sans-serif' font-size="36" font-weight="bold" text-anchor="middle" fill="#000" >0</text>
<text x="1575.9" y="621.7" font-family='"Liberation Sans", sans-serif' font-size="36" font-weight="bold" text-anchor="middle" fill="#000" >10</text>
<text x="1695.3" y="621.7" font-family='"Liberation Sans", sans-serif' font-size="36" font-weight="bold" text-anchor="middle" fill="#000" >20</text>
<text x="1814.7" y="621.7" font-family='"Liberation Sans", sans-serif' font-size="36" font-weight="bold" text-anchor="middle" fill="#000" >30</text>
<g transform="translate(1392.7 42.7) scale(1 1.04)"><text x="1.4" y="0" font-family='"Liberation Sans", sans-serif' font-size="35.3" font-weight="bold" text-anchor="end">10</text><text x="1.9" y="-15" font-family='"Liberation Sans", sans-serif' font-size="24" font-weight="bold" text-anchor="start">0</text></g>
<g transform="translate(1385.2 152) scale(1 1.04)"><text x="1.4" y="0" font-family='"Liberation Sans", sans-serif' font-size="35.3" font-weight="bold" text-anchor="end">10</text><text x="1.9" y="-15" font-family='"Liberation Sans", sans-serif' font-size="24" font-weight="bold" text-anchor="start">-1</text></g>
<g transform="translate(1385.2 261.2) scale(1 1.04)"><text x="1.4" y="0" font-family='"Liberation Sans", sans-serif' font-size="35.3" font-weight="bold" text-anchor="end">10</text><text x="1.9" y="-15" font-family='"Liberation Sans", sans-serif' font-size="24" font-weight="bold" text-anchor="start">-2</text></g>
<g transform="translate(1385.2 370.5) scale(1 1.04)"><text x="1.4" y="0" font-family='"Liberation Sans", sans-serif' font-size="35.3" font-weight="bold" text-anchor="end">10</text><text x="1.9" y="-15" font-family='"Liberation Sans", sans-serif' font-size="24" font-weight="bold" text-anchor="start">-3</text></g>
<g transform="translate(1385.2 479.7) scale(1 1.04)"><text x="1.4" y="0" font-family='"Liberation Sans", sans-serif' font-size="35.3" font-weight="bold" text-anchor="end">10</text><text x="1.9" y="-15" font-family='"Liberation Sans", sans-serif' font-size="24" font-weight="bold" text-anchor="start">-4</text></g>
<g transform="translate(1385.2 589) scale(1 1.04)"><text x="1.4" y="0" font-family='"Liberation Sans", sans-serif' font-size="35.3" font-weight="bold" text-anchor="end">10</text><text x="1.9" y="-15" font-family='"Liberation Sans", sans-serif' font-size="24" font-weight="bold" text-anchor="start">-5</text></g>
<line x1="1874.6" y1="98.7" x2="1884.3" y2="98.7" stroke="#000" stroke-width="5.3" />
<line x1="1874.6" y1="234.8" x2="1884.3" y2="234.8" stroke="#000" stroke-width="5.3" />
<line x1="1874.6" y1="371" x2="1884.3" y2="371" stroke="#000" stroke-width="5.3" />
<line x1="1874.6" y1="507.2" x2="1884.3" y2="507.2" stroke="#000" stroke-width="5.3" />
<line x1="1874.6" y1="166.8" x2="1880.3" y2="166.8" stroke="#000" stroke-width="4" />
<line x1="1874.6" y1="302.9" x2="1880.3" y2="302.9" stroke="#000" stroke-width="4" />
<line x1="1874.6" y1="439.1" x2="1880.3" y2="439.1" stroke="#000" stroke-width="4" />
<text x="1891.5" y="111.2" font-family='"Liberation Sans", sans-serif' font-size="35.5" font-weight="bold" text-anchor="start" fill="#000" >1.4</text>
<text x="1891.5" y="247.3" font-family='"Liberation Sans", sans-serif' font-size="35.5" font-weight="bold" text-anchor="start" fill="#000" >1.2</text>
<text x="1891.5" y="383.5" font-family='"Liberation Sans", sans-serif' font-size="35.5" font-weight="bold" text-anchor="start" fill="#000" >1.0</text>
<text x="1891.5" y="519.7" font-family='"Liberation Sans", sans-serif' font-size="35.5" font-weight="bold" text-anchor="start" fill="#000" >0.8</text>
<text x="1650" y="670.5" font-family='"Liberation Sans", sans-serif' font-size="39" font-weight="bold" text-anchor="middle" fill="#000" >Time (day)</text>
<text transform="translate(1325.5 302) rotate(-90)" font-family='"Liberation Sans", sans-serif' font-size="39.5" font-weight="bold" text-anchor="middle">|<tspan font-style="italic">I</tspan><tspan font-size="26.9" dy="8.7">DS</tspan><tspan dy="-8.7">| (A)</tspan></text>
<text x="1860" y="78.5" font-family='"Liberation Sans", sans-serif' font-size="31" font-weight="bold" text-anchor="end" fill="#000" >PEASCN-FAHCOO</text>
<text transform="translate(1988 303) rotate(-90)" font-family='"Liberation Sans", sans-serif' font-size="38.5" font-weight="bold" text-anchor="middle">µ(t)/µ<tspan font-size="26" dy="8">0</tspan></text>
<text x="1309" y="48.5" font-family='"Liberation Serif", serif' font-size="55" font-weight="bold" text-anchor="start" fill="#000" >c</text>
<path d="M397.3 1213.5 L399.4 1213.2 L402.2 1212.8 L405.5 1212.3 L409.2 1211.7 L413 1211.1 L417 1210.5 L420.9 1209.9 L424.5 1209.3 L428 1208.7 L431.4 1208.2 L434.9 1207.6 L438.4 1207 L442 1206.4 L445.5 1205.8 L449 1205.2 L452.5 1204.5 L456.1 1203.8 L459.8 1203 L463.5 1202.2 L467.2 1201.4 L470.9 1200.6 L474.4 1199.8 L477.6 1198.9 L480.6 1198.1 L483.3 1197.2 L485.7 1196.4 L488 1195.5 L490.1 1194.6 L492 1193.7 L493.9 1192.8 L495.6 1191.9 L497.4 1191 L499.1 1190.1 L500.7 1189.2 L502.1 1188.4 L503.5 1187.5 L504.8 1186.6 L506.1 1185.7 L507.4 1184.9 L508.6 1184 L509.8 1183.1 L510.9 1182.2 L512.1 1181.4 L513.1 1180.5 L514.1 1179.6 L515.1 1178.8 L516.1 1177.9 L517.1 1177 L518.1 1176.1 L519.1 1175.1 L520.1 1174.1 L521.1 1173.1 L522.1 1172.1 L522.9 1171.3 L523.6 1170.5 L524.1 1170" fill="none" stroke="#FB6501" stroke-width="3.2" stroke-linejoin="round" stroke-linecap="round" />
<path d="M397.3 1212.7 L399.4 1212.4 L402.2 1212 L405.5 1211.5 L409.2 1210.9 L413 1210.3 L417 1209.7 L420.9 1209.1 L424.5 1208.5 L428 1207.9 L431.4 1207.4 L434.9 1206.8 L438.4 1206.2 L442 1205.6 L445.5 1205 L449 1204.4 L452.5 1203.7 L456.1 1203 L459.8 1202.2 L463.5 1201.4 L467.2 1200.6 L470.9 1199.8 L474.4 1199 L477.6 1198.1 L480.6 1197.3 L483.4 1196.4 L486 1195.4 L488.5 1194.4 L490.8 1193.3 L492.8 1192.4 L494.6 1191.5 L496.2 1190.8 L497.4 1190.2" fill="none" stroke="#1A6FDF" stroke-width="2.2" stroke-linejoin="round" stroke-linecap="round" />
<path d="M223.9 710.4 L226.3 711.2 L229.6 712.1 L233.5 713.3 L237.8 714.6 L242.4 716.1 L246.9 717.5 L251.3 718.9 L255.3 720.3 L259 721.6 L262.6 723 L266.1 724.3 L269.6 725.7 L273 727.1 L276.5 728.6 L279.9 730 L283.4 731.5 L287 733 L290.7 734.6 L294.4 736.3 L298.1 738 L301.7 739.6 L305.2 741.2 L308.4 742.7 L311.4 744.1 L314 745.3 L316.4 746.3 L318.6 747.2 L320.6 748.1 L322.5 749 L324.3 750 L326.3 751.1 L328.3 752.5 L330.4 754.1 L332.6 755.8 L334.7 757.6 L336.9 759.5 L339 761.6 L341.1 763.7 L343.1 765.8 L345.1 768 L347 770.2 L348.9 772.5 L350.7 774.9 L352.4 777.4 L354.2 779.9 L355.9 782.4 L357.5 785 L359.1 787.6 L360.7 790.3 L362.3 793.2 L363.8 796.2 L365.3 799.2 L366.7 802.2 L368.1 805 L369.3 807.7 L370.4 810.1 L371.3 812.2 L372.1 814 L372.7 815.6 L373.3 817.1 L373.8 818.6 L374.3 820.2 L374.8 822 L375.4 824.1 L376 826.4 L376.6 828.8 L377.2 831.4 L377.8 834.1 L378.5 836.9 L379 839.9 L379.6 843.1 L380.2 846.5 L380.8 850.1 L381.3 853.8 L381.9 857.7 L382.4 861.8 L382.9 866 L383.4 870.5 L383.9 875.2 L384.4 880.2 L384.9 885.4 L385.3 890.9 L385.8 896.6 L386.3 902.5 L386.7 908.6 L387.1 914.9 L387.5 921.3 L387.8 927.9 L388.1 934.7 L388.3 941.6 L388.5 948.8 L388.7 956.1 L388.8 963.6 L389 971.2 L389.2 979 L389.4 986.8 L389.6 994.9 L389.9 1003.3 L390.1 1011.9 L390.4 1020.7 L390.6 1029.4 L390.9 1037.9 L391.1 1046.3 L391.4 1054.2 L391.7 1061.8 L391.9 1069 L392.2 1076.1 L392.5 1083 L392.8 1089.8 L393.1 1096.5 L393.3 1103.4 L393.6 1110.3 L393.9 1117.4 L394.1 1124.5 L394.4 1131.7 L394.7 1138.9 L394.9 1146 L395.2 1153 L395.4 1159.8 L395.6 1166.4 L395.8 1173.1 L395.9 1180 L396.1 1187 L396.2 1193.8 L396.3 1200.1 L396.4 1205.7 L396.4 1210.5 L396.5 1214.1" fill="none" stroke="#8C7A9C" stroke-width="3.2" stroke-linejoin="round" stroke-linecap="round" />
<path d="M224.7 711 L227.1 711.8 L230.4 712.7 L234.3 713.9 L238.6 715.2 L243.2 716.7 L247.7 718.1 L252.1 719.5 L256.1 720.9 L259.8 722.2 L263.4 723.6 L266.9 724.9 L270.4 726.3 L273.8 727.7 L277.3 729.2 L280.7 730.6 L284.2 732.1 L287.8 733.6 L291.5 735.2 L295.2 736.9 L298.9 738.6 L302.5 740.2 L306 741.8 L309.2 743.3 L312.2 744.7 L314.8 745.9 L317.2 746.9 L319.4 747.8 L321.4 748.7 L323.3 749.6 L325.1 750.6 L327.1 751.7 L329.1 753.1 L331.2 754.7 L333.4 756.4 L335.5 758.2 L337.7 760.2 L339.8 762.2 L341.9 764.3 L343.9 766.4 L345.9 768.6 L347.8 770.8 L349.7 773.1 L351.5 775.5 L353.2 778 L355 780.5 L356.7 783 L358.3 785.6 L359.9 788.2 L361.5 790.9 L363.1 793.8 L364.6 796.8 L366.1 799.8 L367.5 802.8 L368.9 805.6 L370.1 808.3 L371.2 810.7 L372.1 812.8 L372.9 814.6 L373.5 816.2 L374.1 817.7 L374.6 819.2 L375.1 820.8 L375.6 822.6 L376.2 824.7 L376.8 827 L377.4 829.4 L378 832 L378.6 834.7 L379.3 837.5 L379.8 840.5 L380.4 843.7 L381 847.1 L381.6 850.7 L382.1 854.4 L382.7 858.3 L383.2 862.4 L383.7 866.6 L384.2 871.1 L384.7 875.8 L385.2 880.8 L385.7 886 L386.1 891.5 L386.6 897.2 L387.1 903.1 L387.5 909.2 L387.9 915.5 L388.3 921.9 L388.6 928.5 L388.9 935.3 L389.1 942.2 L389.3 949.4 L389.5 956.7 L389.6 964.2 L389.8 971.8 L390 979.6 L390.2 987.4 L390.4 995.5 L390.7 1003.9 L390.9 1012.5 L391.2 1021.3 L391.4 1030 L391.7 1038.5 L391.9 1046.9 L392.2 1054.8 L392.5 1062.4 L392.7 1069.6 L393 1076.7 L393.3 1083.6 L393.6 1090.4 L393.9 1097.1 L394.1 1104 L394.4 1110.9 L394.7 1118 L394.9 1125.1 L395.2 1132.3 L395.5 1139.5 L395.7 1146.6 L396 1153.6 L396.2 1160.4 L396.4 1167 L396.6 1173.7 L396.7 1180.6 L396.9 1187.6 L397 1194.4 L397.1 1200.7 L397.2 1206.3 L397.2 1211.1 L397.3 1214.7" fill="none" stroke="#5B9BD5" stroke-width="3.6" stroke-linejoin="round" stroke-linecap="round" />
<path d="M397.3 1214.7 L399.4 1214.4 L402.2 1214 L405.5 1213.5 L409.2 1212.9 L413 1212.3 L417 1211.7 L420.9 1211.1 L424.5 1210.5 L428 1209.9 L431.4 1209.4 L434.9 1208.8 L438.4 1208.2 L442 1207.6 L445.5 1207 L449 1206.4 L452.5 1205.7 L456.1 1205 L459.8 1204.2 L463.5 1203.4 L467.2 1202.6 L470.9 1201.8 L474.4 1201 L477.6 1200.1 L480.6 1199.3 L483.3 1198.4 L485.7 1197.6 L488 1196.7 L490.1 1195.8 L492 1194.9 L493.9 1194 L495.6 1193.1 L497.4 1192.2 L499.1 1191.3 L500.7 1190.4 L502.1 1189.6 L503.5 1188.7 L504.8 1187.8 L506.1 1186.9 L507.4 1186.1 L508.6 1185.2 L509.8 1184.3 L510.9 1183.5 L512.1 1182.6 L513.1 1181.7 L514.1 1180.8 L515.1 1180 L516.1 1179.1 L517.1 1178.2 L518.1 1177.3 L519.1 1176.3 L520.1 1175.3 L521.1 1174.3 L522.1 1173.3 L522.9 1172.5 L523.6 1171.7 L524.1 1171.2" fill="none" stroke="#5B9BD5" stroke-width="3.6" stroke-linejoin="round" stroke-linecap="round" />
<rect x="150" y="703.3" width="447.6" height="545.7" fill="none" stroke="#000" stroke-width="5.5" />
<line x1="149.2" y1="700.5" x2="149.2" y2="1251.8" stroke="#000" stroke-width="7" />
<line x1="149" y1="761.7" x2="138.8" y2="761.7" stroke="#000" stroke-width="5.3" />
<line x1="149" y1="820.1" x2="138.8" y2="820.1" stroke="#000" stroke-width="5.3" />
<line x1="149" y1="878.5" x2="138.8" y2="878.5" stroke="#000" stroke-width="5.3" />
<line x1="149" y1="936.9" x2="138.8" y2="936.9" stroke="#000" stroke-width="5.3" />
<line x1="149" y1="995.3" x2="138.8" y2="995.3" stroke="#000" stroke-width="5.3" />
<line x1="149" y1="1053.7" x2="138.8" y2="1053.7" stroke="#000" stroke-width="5.3" />
<line x1="149" y1="1112.1" x2="138.8" y2="1112.1" stroke="#000" stroke-width="5.3" />
<line x1="149" y1="1170.5" x2="138.8" y2="1170.5" stroke="#000" stroke-width="5.3" />
<line x1="149" y1="1228.9" x2="138.8" y2="1228.9" stroke="#000" stroke-width="5.3" />
<line x1="139.5" y1="703.3" x2="150" y2="703.3" stroke="#000" stroke-width="5.5" />
<line x1="149" y1="744.2" x2="143.8" y2="744.2" stroke="#000" stroke-width="3" />
<line x1="149" y1="736" x2="143.8" y2="736" stroke="#000" stroke-width="3" />
<line x1="149" y1="731.3" x2="143.8" y2="731.3" stroke="#000" stroke-width="3" />
<line x1="149" y1="725.5" x2="143.8" y2="725.5" stroke="#000" stroke-width="3" />
<line x1="149" y1="802.6" x2="143.8" y2="802.6" stroke="#000" stroke-width="3" />
<line x1="149" y1="794.4" x2="143.8" y2="794.4" stroke="#000" stroke-width="3" />
<line x1="149" y1="789.7" x2="143.8" y2="789.7" stroke="#000" stroke-width="3" />
<line x1="149" y1="783.9" x2="143.8" y2="783.9" stroke="#000" stroke-width="3" />
<line x1="149" y1="861" x2="143.8" y2="861" stroke="#000" stroke-width="3" />
<line x1="149" y1="852.8" x2="143.8" y2="852.8" stroke="#000" stroke-width="3" />
<line x1="149" y1="848.1" x2="143.8" y2="848.1" stroke="#000" stroke-width="3" />
<line x1="149" y1="842.3" x2="143.8" y2="842.3" stroke="#000" stroke-width="3" />
<line x1="149" y1="919.4" x2="143.8" y2="919.4" stroke="#000" stroke-width="3" />
<line x1="149" y1="911.2" x2="143.8" y2="911.2" stroke="#000" stroke-width="3" />
<line x1="149" y1="906.5" x2="143.8" y2="906.5" stroke="#000" stroke-width="3" />
<line x1="149" y1="900.7" x2="143.8" y2="900.7" stroke="#000" stroke-width="3" />
<line x1="149" y1="977.8" x2="143.8" y2="977.8" stroke="#000" stroke-width="3" />
<line x1="149" y1="969.6" x2="143.8" y2="969.6" stroke="#000" stroke-width="3" />
<line x1="149" y1="964.9" x2="143.8" y2="964.9" stroke="#000" stroke-width="3" />
<line x1="149" y1="959.1" x2="143.8" y2="959.1" stroke="#000" stroke-width="3" />
<line x1="149" y1="1036.2" x2="143.8" y2="1036.2" stroke="#000" stroke-width="3" />
<line x1="149" y1="1028" x2="143.8" y2="1028" stroke="#000" stroke-width="3" />
<line x1="149" y1="1023.3" x2="143.8" y2="1023.3" stroke="#000" stroke-width="3" />
<line x1="149" y1="1017.5" x2="143.8" y2="1017.5" stroke="#000" stroke-width="3" />
<line x1="149" y1="1094.6" x2="143.8" y2="1094.6" stroke="#000" stroke-width="3" />
<line x1="149" y1="1086.4" x2="143.8" y2="1086.4" stroke="#000" stroke-width="3" />
<line x1="149" y1="1081.7" x2="143.8" y2="1081.7" stroke="#000" stroke-width="3" />
<line x1="149" y1="1075.9" x2="143.8" y2="1075.9" stroke="#000" stroke-width="3" />
<line x1="149" y1="1153" x2="143.8" y2="1153" stroke="#000" stroke-width="3" />
<line x1="149" y1="1144.8" x2="143.8" y2="1144.8" stroke="#000" stroke-width="3" />
<line x1="149" y1="1140.1" x2="143.8" y2="1140.1" stroke="#000" stroke-width="3" />
<line x1="149" y1="1134.3" x2="143.8" y2="1134.3" stroke="#000" stroke-width="3" />
<line x1="149" y1="1211.4" x2="143.8" y2="1211.4" stroke="#000" stroke-width="3" />
<line x1="149" y1="1203.2" x2="143.8" y2="1203.2" stroke="#000" stroke-width="3" />
<line x1="149" y1="1198.5" x2="143.8" y2="1198.5" stroke="#000" stroke-width="3" />
<line x1="149" y1="1192.7" x2="143.8" y2="1192.7" stroke="#000" stroke-width="3" />
<line x1="150" y1="1249" x2="150" y2="1258.8" stroke="#000" stroke-width="5.5" />
<line x1="224.6" y1="1249" x2="224.6" y2="1258.8" stroke="#000" stroke-width="5.5" />
<line x1="299.2" y1="1249" x2="299.2" y2="1258.8" stroke="#000" stroke-width="5.5" />
<line x1="373.8" y1="1249" x2="373.8" y2="1258.8" stroke="#000" stroke-width="5.5" />
<line x1="448.4" y1="1249" x2="448.4" y2="1258.8" stroke="#000" stroke-width="5.5" />
<line x1="523" y1="1249" x2="523" y2="1258.8" stroke="#000" stroke-width="5.5" />
<line x1="597.6" y1="1249" x2="597.6" y2="1258.8" stroke="#000" stroke-width="5.5" />
<line x1="187.3" y1="1249" x2="187.3" y2="1254.8" stroke="#000" stroke-width="4" />
<line x1="261.9" y1="1249" x2="261.9" y2="1254.8" stroke="#000" stroke-width="4" />
<line x1="336.5" y1="1249" x2="336.5" y2="1254.8" stroke="#000" stroke-width="4" />
<line x1="411.1" y1="1249" x2="411.1" y2="1254.8" stroke="#000" stroke-width="4" />
<line x1="485.7" y1="1249" x2="485.7" y2="1254.8" stroke="#000" stroke-width="4" />
<line x1="560.3" y1="1249" x2="560.3" y2="1254.8" stroke="#000" stroke-width="4" />
<text x="150" y="1295" font-family='"Liberation Sans", sans-serif' font-size="35" font-weight="bold" text-anchor="middle" fill="#000" >-60</text>
<text x="224.6" y="1295" font-family='"Liberation Sans", sans-serif' font-size="35" font-weight="bold" text-anchor="middle" fill="#000" >-40</text>
<text x="299.2" y="1295" font-family='"Liberation Sans", sans-serif' font-size="35" font-weight="bold" text-anchor="middle" fill="#000" >-20</text>
<text x="373.8" y="1295" font-family='"Liberation Sans", sans-serif' font-size="35" font-weight="bold" text-anchor="middle" fill="#000" >0</text>
<text x="448.4" y="1295" font-family='"Liberation Sans", sans-serif' font-size="35" font-weight="bold" text-anchor="middle" fill="#000" >20</text>
<text x="523" y="1295" font-family='"Liberation Sans", sans-serif' font-size="35" font-weight="bold" text-anchor="middle" fill="#000" >40</text>
<text x="597.6" y="1295" font-family='"Liberation Sans", sans-serif' font-size="35" font-weight="bold" text-anchor="middle" fill="#000" >60</text>
<g transform="translate(108.5 716.3) scale(1 1.04)"><text x="1.4" y="0" font-family='"Liberation Sans", sans-serif' font-size="35.3" font-weight="bold" text-anchor="end">10</text><text x="3.2" y="-15" font-family='"Liberation Sans", sans-serif' font-size="24" font-weight="bold" text-anchor="start">-2</text></g>
<g transform="translate(108.5 833.1) scale(1 1.04)"><text x="1.4" y="0" font-family='"Liberation Sans", sans-serif' font-size="35.3" font-weight="bold" text-anchor="end">10</text><text x="3.2" y="-15" font-family='"Liberation Sans", sans-serif' font-size="24" font-weight="bold" text-anchor="start">-4</text></g>
<g transform="translate(108.5 949.9) scale(1 1.04)"><text x="1.4" y="0" font-family='"Liberation Sans", sans-serif' font-size="35.3" font-weight="bold" text-anchor="end">10</text><text x="3.2" y="-15" font-family='"Liberation Sans", sans-serif' font-size="24" font-weight="bold" text-anchor="start">-6</text></g>
<g transform="translate(108.5 1066.7) scale(1 1.04)"><text x="1.4" y="0" font-family='"Liberation Sans", sans-serif' font-size="35.3" font-weight="bold" text-anchor="end">10</text><text x="3.2" y="-15" font-family='"Liberation Sans", sans-serif' font-size="24" font-weight="bold" text-anchor="start">-8</text></g>
<g transform="translate(96 1183.5) scale(1 1.04)"><text x="1.4" y="0" font-family='"Liberation Sans", sans-serif' font-size="35.3" font-weight="bold" text-anchor="end">10</text><text x="3.2" y="-15" font-family='"Liberation Sans", sans-serif' font-size="24" font-weight="bold" text-anchor="start">-10</text></g>
<text x="375.3" y="1356.5" font-family='"Liberation Sans", sans-serif' font-size="39" font-weight="bold" text-anchor="middle" fill="#000" ><tspan font-style="italic">V</tspan><tspan font-size="26.5" dy="9.8">GS</tspan><tspan dy="-9.8"> (V)</tspan></text>
<text transform="translate(35.5 976) rotate(-90)" font-family='"Liberation Sans", sans-serif' font-size="39.8" font-weight="bold" text-anchor="middle">|<tspan font-style="italic">I</tspan><tspan font-size="27.1" dy="8.8">DS</tspan><tspan dy="-8.8">| (A)</tspan></text>
<line x1="200" y1="845.3" x2="264" y2="845.3" stroke="#515151" stroke-width="2.6" stroke-linecap="round"/>
<text x="272" y="855.3" font-family='"Liberation Sans", sans-serif' font-size="28" font-weight="bold" text-anchor="start" fill="#000" >1st</text>
<line x1="200" y1="881.3" x2="264" y2="881.3" stroke="#F14040" stroke-width="2.6" stroke-linecap="round"/>
<text x="272" y="891.3" font-family='"Liberation Sans", sans-serif' font-size="28" font-weight="bold" text-anchor="start" fill="#000" >10th</text>
<line x1="200" y1="917" x2="264" y2="917" stroke="#1A6FDF" stroke-width="2.6" stroke-linecap="round"/>
<text x="272" y="927" font-family='"Liberation Sans", sans-serif' font-size="28" font-weight="bold" text-anchor="start" fill="#000" >20th</text>
<line x1="200" y1="953" x2="264" y2="953" stroke="#37AD6B" stroke-width="2.6" stroke-linecap="round"/>
<text x="272" y="963" font-family='"Liberation Sans", sans-serif' font-size="28" font-weight="bold" text-anchor="start" fill="#000" >30th</text>
<line x1="200" y1="988.6" x2="264" y2="988.6" stroke="#B177DE" stroke-width="2.6" stroke-linecap="round"/>
<text x="272" y="998.6" font-family='"Liberation Sans", sans-serif' font-size="28" font-weight="bold" text-anchor="start" fill="#000" >40th</text>
<line x1="200" y1="1024.6" x2="264" y2="1024.6" stroke="#CC9900" stroke-width="2.6" stroke-linecap="round"/>
<text x="272" y="1034.6" font-family='"Liberation Sans", sans-serif' font-size="28" font-weight="bold" text-anchor="start" fill="#000" >50th</text>
<line x1="200" y1="1060.2" x2="264" y2="1060.2" stroke="#00CBCC" stroke-width="2.6" stroke-linecap="round"/>
<text x="272" y="1070.2" font-family='"Liberation Sans", sans-serif' font-size="28" font-weight="bold" text-anchor="start" fill="#000" >60th</text>
<line x1="200" y1="1096.2" x2="264" y2="1096.2" stroke="#7D4E4E" stroke-width="2.6" stroke-linecap="round"/>
<text x="272" y="1106.2" font-family='"Liberation Sans", sans-serif' font-size="28" font-weight="bold" text-anchor="start" fill="#000" >70th</text>
<line x1="200" y1="1131.9" x2="264" y2="1131.9" stroke="#8E8E00" stroke-width="2.6" stroke-linecap="round"/>
<text x="272" y="1141.9" font-family='"Liberation Sans", sans-serif' font-size="28" font-weight="bold" text-anchor="start" fill="#000" >80th</text>
<line x1="200" y1="1167.9" x2="264" y2="1167.9" stroke="#FB6501" stroke-width="2.6" stroke-linecap="round"/>
<text x="272" y="1177.9" font-family='"Liberation Sans", sans-serif' font-size="28" font-weight="bold" text-anchor="start" fill="#000" >90th</text>
<line x1="200" y1="1203.5" x2="264" y2="1203.5" stroke="#6699CC" stroke-width="2.6" stroke-linecap="round"/>
<text x="272" y="1213.5" font-family='"Liberation Sans", sans-serif' font-size="28" font-weight="bold" text-anchor="start" fill="#000" >100th</text>
<text x="9.5" y="753.4" font-family='"Liberation Serif", serif' font-size="55" font-weight="bold" text-anchor="start" fill="#000" >d</text>
<rect x="833.1" y="1119" width="16.2" height="132" fill="url(#gB)" stroke="#555" stroke-width="1" />
<rect x="873.7" y="1073.9" width="16.2" height="177.1" fill="url(#gB)" stroke="#555" stroke-width="1" />
<rect x="857.5" y="1250.2" width="16.2" height="0.8" fill="url(#gO)" stroke="#8a5a3a" stroke-width="0.8" />
<rect x="914.3" y="978.5" width="16.2" height="272.5" fill="url(#gB)" stroke="#555" stroke-width="1" />
<rect x="898.1" y="1249.4" width="16.2" height="1.6" fill="url(#gO)" stroke="#8a5a3a" stroke-width="0.8" />
<rect x="954.9" y="939.4" width="16.2" height="311.6" fill="url(#gB)" stroke="#555" stroke-width="1" />
<rect x="938.7" y="1248.8" width="16.2" height="2.2" fill="url(#gO)" stroke="#8a5a3a" stroke-width="0.8" />
<rect x="995.5" y="911.7" width="16.2" height="339.3" fill="url(#gB)" stroke="#555" stroke-width="1" />
<rect x="979.3" y="1248.7" width="16.2" height="2.3" fill="url(#gO)" stroke="#8a5a3a" stroke-width="0.8" />
<rect x="1036.2" y="874.3" width="16.2" height="376.7" fill="url(#gB)" stroke="#555" stroke-width="1" />
<rect x="1020" y="1248" width="16.2" height="3" fill="url(#gO)" stroke="#8a5a3a" stroke-width="0.8" />
<rect x="1076.8" y="849.1" width="16.2" height="401.9" fill="url(#gB)" stroke="#555" stroke-width="1" />
<rect x="1060.6" y="1246.6" width="16.2" height="4.4" fill="url(#gO)" stroke="#8a5a3a" stroke-width="0.8" />
<rect x="1117.4" y="808.2" width="16.2" height="442.8" fill="url(#gB)" stroke="#555" stroke-width="1" />
<rect x="1101.2" y="1246.1" width="16.2" height="4.9" fill="url(#gO)" stroke="#8a5a3a" stroke-width="0.8" />
<rect x="1158" y="776.3" width="16.2" height="474.7" fill="url(#gB)" stroke="#555" stroke-width="1" />
<rect x="1141.8" y="1244.7" width="16.2" height="6.3" fill="url(#gO)" stroke="#8a5a3a" stroke-width="0.8" />
<rect x="1198.6" y="715.3" width="16.2" height="535.7" fill="url(#gB)" stroke="#555" stroke-width="1" />
<rect x="1182.4" y="1242.4" width="16.2" height="8.6" fill="url(#gO)" stroke="#8a5a3a" stroke-width="0.8" />
<rect x="793" y="706" width="448" height="545" fill="none" stroke="#000" stroke-width="5.5" />
<line x1="793" y1="1251" x2="782.2" y2="1251" stroke="#000" stroke-width="5.3" />
<line x1="793" y1="1114.8" x2="782.2" y2="1114.8" stroke="#000" stroke-width="5.3" />
<line x1="793" y1="978.5" x2="782.2" y2="978.5" stroke="#000" stroke-width="5.3" />
<line x1="793" y1="842.2" x2="782.2" y2="842.2" stroke="#000" stroke-width="5.3" />
<line x1="793" y1="706" x2="782.2" y2="706" stroke="#000" stroke-width="5.3" />
<line x1="793" y1="1182.9" x2="786.8" y2="1182.9" stroke="#000" stroke-width="4" />
<line x1="793" y1="1046.6" x2="786.8" y2="1046.6" stroke="#000" stroke-width="4" />
<line x1="793" y1="910.4" x2="786.8" y2="910.4" stroke="#000" stroke-width="4" />
<line x1="793" y1="774.1" x2="786.8" y2="774.1" stroke="#000" stroke-width="4" />
<line x1="792.5" y1="1251" x2="792.5" y2="1262.2" stroke="#000" stroke-width="5.5" />
<line x1="873.7" y1="1251" x2="873.7" y2="1262.2" stroke="#000" stroke-width="5.5" />
<line x1="954.9" y1="1251" x2="954.9" y2="1262.2" stroke="#000" stroke-width="5.5" />
<line x1="1036.2" y1="1251" x2="1036.2" y2="1262.2" stroke="#000" stroke-width="5.5" />
<line x1="1117.4" y1="1251" x2="1117.4" y2="1262.2" stroke="#000" stroke-width="5.5" />
<line x1="1198.6" y1="1251" x2="1198.6" y2="1262.2" stroke="#000" stroke-width="5.5" />
<line x1="833.1" y1="1251" x2="833.1" y2="1256.8" stroke="#000" stroke-width="4" />
<line x1="914.3" y1="1251" x2="914.3" y2="1256.8" stroke="#000" stroke-width="4" />
<line x1="995.5" y1="1251" x2="995.5" y2="1256.8" stroke="#000" stroke-width="4" />
<line x1="1076.8" y1="1251" x2="1076.8" y2="1256.8" stroke="#000" stroke-width="4" />
<line x1="1158" y1="1251" x2="1158" y2="1256.8" stroke="#000" stroke-width="4" />
<line x1="1239.2" y1="1251" x2="1239.2" y2="1256.8" stroke="#000" stroke-width="4" />
<text x="792.5" y="1297.3" font-family='"Liberation Sans", sans-serif' font-size="34.5" font-weight="bold" text-anchor="middle" fill="#000" >0</text>
<text x="873.7" y="1297.3" font-family='"Liberation Sans", sans-serif' font-size="34.5" font-weight="bold" text-anchor="middle" fill="#000" >20</text>
<text x="954.9" y="1297.3" font-family='"Liberation Sans", sans-serif' font-size="34.5" font-weight="bold" text-anchor="middle" fill="#000" >40</text>
<text x="1036.2" y="1297.3" font-family='"Liberation Sans", sans-serif' font-size="34.5" font-weight="bold" text-anchor="middle" fill="#000" >60</text>
<text x="1117.4" y="1297.3" font-family='"Liberation Sans", sans-serif' font-size="34.5" font-weight="bold" text-anchor="middle" fill="#000" >80</text>
<text x="1198.6" y="1297.3" font-family='"Liberation Sans", sans-serif' font-size="34.5" font-weight="bold" text-anchor="middle" fill="#000" >100</text>
<text x="774" y="1262.2" font-family='"Liberation Sans", sans-serif' font-size="33" font-weight="bold" text-anchor="end" fill="#000" >0</text>
<text x="774" y="1126" font-family='"Liberation Sans", sans-serif' font-size="33" font-weight="bold" text-anchor="end" fill="#000" >1</text>
<text x="774" y="989.7" font-family='"Liberation Sans", sans-serif' font-size="33" font-weight="bold" text-anchor="end" fill="#000" >2</text>
<text x="774" y="853.5" font-family='"Liberation Sans", sans-serif' font-size="33" font-weight="bold" text-anchor="end" fill="#000" >3</text>
<text x="774" y="717.2" font-family='"Liberation Sans", sans-serif' font-size="33" font-weight="bold" text-anchor="end" fill="#000" >4</text>
<text x="1016.5" y="1344.8" font-family='"Liberation Sans", sans-serif' font-size="39.2" font-weight="bold" text-anchor="middle" fill="#000" >Cycles</text>
<text transform="translate(734 978) rotate(-90)" font-family='"Liberation Sans", sans-serif' font-size="39.7" font-weight="bold" text-anchor="middle">Δ V<tspan font-size="27" dy="8.5">TH</tspan><tspan dy="-8.5"> (V)</tspan></text>
<rect x="826" y="734" width="68.6" height="33" fill="url(#gO)" stroke="#555" stroke-width="1" />
<rect x="826" y="772.5" width="68.6" height="33.5" fill="url(#gBl)" stroke="#555" stroke-width="1" />
<text x="903.5" y="760.5" font-family='"Liberation Sans", sans-serif' font-size="30.9" font-weight="bold" text-anchor="start" fill="#000" >PEASCN-FAHCOO</text>
<text x="903.5" y="799.5" font-family='"Liberation Sans", sans-serif' font-size="30.9" font-weight="bold" text-anchor="start" fill="#000" >PEAI</text>
<text x="675" y="745" font-family='"Liberation Serif", serif' font-size="55" font-weight="bold" text-anchor="start" fill="#000" >e</text>
<path d="M1721.6 1145.7 L1721.7 1146.7 L1721.7 1148 L1721.7 1149.5 L1721.8 1151.2 L1721.9 1153 L1722.3 1154.8 L1722.8 1156.5 L1723.7 1158 L1724.9 1159.4 L1726.3 1160.9 L1727.9 1162.3 L1729.7 1163.7 L1731.7 1165 L1733.7 1166.2 L1735.8 1167.3 L1738 1168.2 L1740.3 1169 L1742.8 1169.7 L1745.4 1170.4 L1748.1 1170.9 L1750.8 1171.3 L1753.4 1171.5 L1756 1171.5 L1758.4 1171.2 L1760.6 1170.7 L1762.8 1170 L1764.9 1169 L1766.9 1167.9 L1768.9 1166.7 L1770.9 1165.2 L1772.8 1163.7 L1774.7 1162 L1776.6 1160.2 L1778.5 1158.3 L1780.3 1156.2 L1782.1 1153.9 L1783.9 1151.6 L1785.6 1149.1 L1787.3 1146.4 L1789 1143.7 L1790.7 1140.6 L1792.5 1137 L1794.3 1133.2 L1796 1129.3 L1797.6 1125.5 L1799.1 1122.1 L1800.3 1119.2 L1801.2 1117.1" fill="none" stroke="#111" stroke-width="9" stroke-linejoin="round" stroke-linecap="round" />
<path d="M1803.3 1168.2 L1801.7 1168.8 L1799.6 1169.7 L1797.1 1170.7 L1794.4 1171.9 L1791.5 1173 L1788.5 1174.1 L1785.6 1175.2 L1782.9 1176 L1780.3 1176.7 L1777.8 1177.2 L1775.2 1177.7 L1772.7 1178.1 L1770.1 1178.5 L1767.5 1178.9 L1765 1179.4 L1762.4 1180 L1759.8 1180.7 L1757.2 1181.4 L1754.6 1182.1 L1752 1182.9 L1749.4 1183.7 L1746.9 1184.5 L1744.4 1185.2 L1742 1186 L1739.7 1186.8 L1737.3 1187.6 L1735 1188.4 L1732.8 1189.2 L1730.6 1190 L1728.6 1190.7 L1726.7 1191.4 L1725 1192 L1723.4 1192.5 L1722 1193 L1720.6 1193.5 L1719.4 1193.9 L1718.4 1194.2 L1717.4 1194.5 L1716.6 1194.8 L1716 1195" fill="none" stroke="#111" stroke-width="9" stroke-linejoin="round" stroke-linecap="round" />
<circle cx="1803.3" cy="1168.2" r="4.2" fill="url(#sK)"/>
<circle cx="1801.2" cy="1117.1" r="4.2" fill="url(#sK)"/>
<circle cx="1721.8" cy="1110.5" r="4.2" fill="url(#sK)"/>
<circle cx="1722.9" cy="1157" r="1.1" fill="#ddd"/>
<circle cx="1728.8" cy="1161.9" r="1.1" fill="#ddd"/>
<circle cx="1737.2" cy="1167.2" r="1.1" fill="#ddd"/>
<circle cx="1747.3" cy="1169.9" r="1.1" fill="#ddd"/>
<circle cx="1757.6" cy="1170.2" r="1.1" fill="#ddd"/>
<circle cx="1766.1" cy="1166.9" r="1.1" fill="#ddd"/>
<circle cx="1773.9" cy="1161" r="1.1" fill="#ddd"/>
<circle cx="1781.3" cy="1152.9" r="1.1" fill="#ddd"/>
<circle cx="1788.2" cy="1142.7" r="1.1" fill="#ddd"/>
<circle cx="1795.2" cy="1128.3" r="1.1" fill="#ddd"/>
<circle cx="1800.4" cy="1116.1" r="1.1" fill="#ddd"/>
<path d="M1721.6 1174.3 L1723.2 1175.2 L1725.3 1176.4 L1727.8 1177.8 L1730.5 1179.4 L1733.5 1181 L1736.4 1182.4 L1739.3 1183.6 L1742 1184.5 L1744.5 1185.1 L1747.1 1185.6 L1749.6 1186.1 L1752.2 1186.3 L1754.7 1186.3 L1757.3 1186 L1759.8 1185.5 L1762.4 1184.5 L1765 1183.2 L1767.7 1181.5 L1770.4 1179.5 L1773.2 1177.2 L1775.8 1174.7 L1778.4 1172 L1780.7 1169.1 L1782.9 1166.1 L1784.9 1162.7 L1786.7 1158.9 L1788.4 1154.8 L1790 1150.5 L1791.5 1146.3 L1792.8 1142.3 L1794 1138.6 L1795.1 1135.5 L1796 1132.8 L1796.8 1130.4 L1797.4 1128.3 L1797.9 1126.4 L1798.3 1124.8 L1798.7 1123.4 L1798.9 1122.2 L1799.2 1121.2" fill="none" stroke="#FF7F0E" stroke-width="9.5" stroke-linejoin="round" stroke-linecap="round" />
<path d="M1721.6 1179.3 L1723.2 1180.2 L1725.3 1181.4 L1727.8 1182.8 L1730.5 1184.4 L1733.5 1186 L1736.4 1187.4 L1739.3 1188.6 L1742 1189.5 L1744.5 1190.1 L1747.1 1190.6 L1749.6 1191.1 L1752.2 1191.3 L1754.7 1191.3 L1757.3 1191 L1759.8 1190.5 L1762.4 1189.5 L1765.1 1188 L1768 1185.8 L1771 1183.1 L1773.9 1180.3 L1776.7 1177.5 L1779.2 1174.8 L1781.3 1172.6 L1782.9 1171.1" fill="none" stroke="#FF7F0E" stroke-width="9.5" stroke-linejoin="round" stroke-linecap="round" />
<path d="M1802.2 1184.5 L1800.7 1185 L1798.8 1185.6 L1796.4 1186.4 L1793.8 1187.3 L1791.1 1188.2 L1788.3 1189.1 L1785.5 1189.9 L1782.9 1190.6 L1780.4 1191.2 L1777.9 1191.7 L1775.3 1192.1 L1772.7 1192.5 L1770.1 1193 L1767.5 1193.4 L1765 1194 L1762.4 1194.7 L1759.8 1195.5 L1757.3 1196.5 L1754.7 1197.5 L1752.2 1198.5 L1749.6 1199.7 L1747.1 1200.8 L1744.5 1201.9 L1742 1202.9 L1739.4 1204 L1736.6 1205.1 L1733.7 1206.2 L1730.9 1207.3 L1728.2 1208.4 L1725.7 1209.4 L1723.5 1210.3 L1721.6 1211 L1720.1 1211.6 L1718.9 1212 L1718 1212.3 L1717.3 1212.6 L1716.7 1212.7 L1716.3 1212.9 L1715.9 1213 L1715.5 1213.1" fill="none" stroke="#FF7F0E" stroke-width="10" stroke-linejoin="round" stroke-linecap="round" />
<circle cx="1802.2" cy="1184.5" r="4.2" fill="url(#sO)"/>
<circle cx="1720.8" cy="922" r="2.6" fill="#FF7F0E"/>
<circle cx="1721.8" cy="964" r="2.6" fill="#FF7F0E"/>
<circle cx="1704.3" cy="944" r="2.6" fill="#FF7F0E"/>
<circle cx="1705" cy="989" r="2.6" fill="#FF7F0E"/>
<circle cx="1721.5" cy="1100" r="2.6" fill="#FF7F0E"/>
<path d="M1500.2 728.5 L1502.5 728.9 L1505.5 729.4 L1509.1 729.9 L1513.1 730.6 L1517.3 731.3 L1521.8 732 L1526.2 732.8 L1530.5 733.5 L1534.5 734.3 L1538.2 735 L1541.6 735.8 L1544.8 736.5 L1548 737.3 L1551.1 738.1 L1554.2 738.9 L1557.2 739.7 L1560.3 740.6 L1563.3 741.4 L1566.4 742.3 L1569.6 743.2 L1572.8 744.1 L1576 745 L1579.2 745.9 L1582.3 746.7 L1585.4 747.7 L1588.5 748.6 L1591.6 749.6 L1594.7 750.6 L1597.8 751.6 L1600.8 752.8 L1603.9 754 L1607.1 755.4 L1610.5 756.9 L1613.8 758.4 L1617.2 760 L1620.4 761.6 L1623.6 763.1 L1626.5 764.6 L1629.3 766 L1631.8 767.3 L1633.9 768.4 L1635.8 769.4 L1637.4 770.3 L1638.8 771.2 L1640.1 771.9 L1641.3 772.7 L1642.5 773.5 L1643.8 774.4 L1645.1 775.4 L1646.6 776.4 L1648.2 777.5 L1649.7 778.7 L1651.2 779.8 L1652.7 780.9 L1654.2 782.1 L1655.7 783.3 L1657.1 784.5 L1658.5 785.8 L1659.9 787.1 L1661.4 788.6 L1662.9 790.1 L1664.4 791.8 L1666 793.6 L1667.5 795.4 L1669.1 797.3 L1670.6 799.2 L1672 801.1 L1673.4 803 L1674.6 804.8 L1675.8 806.6 L1676.8 808.3 L1677.7 810 L1678.5 811.7 L1679.3 813.5 L1680 815.3 L1680.8 817.2 L1681.5 819.2 L1682.3 821.3 L1683.1 823.6 L1684 826 L1684.9 828.5 L1685.8 831.1 L1686.8 833.7 L1687.8 836.4 L1688.7 839.2 L1689.6 841.9 L1690.5 844.7 L1691.3 847.4 L1692 850.1 L1692.6 852.7 L1693.2 855.2 L1693.7 857.8 L1694.2 860.4 L1694.6 863 L1695 865.6 L1695.4 868.3 L1695.7 870.9 L1696 873.6 L1696.3 876.4 L1696.6 879.1 L1696.9 881.8 L1697.2 884.4 L1697.5 887 L1697.8 889.7 L1698.1 892.4 L1698.4 895.1 L1698.6 897.8 L1698.9 900.6 L1699.1 903.4 L1699.4 906.1 L1699.7 908.9 L1699.9 911.6 L1700.2 914.3 L1700.4 917 L1700.7 919.8 L1700.9 922.5 L1701.1 925.2 L1701.3 928 L1701.6 930.7 L1701.8 933.4 L1702 936.1 L1702.2 938.7 L1702.4 941.3 L1702.6 943.8 L1702.8 946.3 L1703 948.9 L1703.2 951.6 L1703.3 954.4 L1703.5 957.4 L1703.6 960.7 L1703.7 964 L1703.8 967.3 L1703.9 970.7 L1704 974.2 L1704.1 977.9 L1704.1 981.9 L1704.2 986.2 L1704.3 990.9 L1704.4 996.1 L1704.5 1001.8 L1704.5 1008.1 L1704.5 1014.8 L1704.5 1022 L1704.5 1029.5 L1704.6 1037.4 L1704.6 1045.6 L1704.6 1054 L1704.7 1062.5 L1704.7 1071.2 L1704.8 1080 L1704.8 1089.5 L1704.8 1099.9 L1704.9 1111.1 L1704.9 1122.5 L1705 1133.9 L1705 1144.9 L1705.1 1155.2 L1705.1 1164.4 L1705.1 1172.1 L1705.2 1178 L1720.8 1178 L1720.8 1172 L1720.8 1164.3 L1720.8 1155.1 L1720.7 1144.9 L1720.7 1133.9 L1720.6 1122.4 L1720.6 1111 L1720.5 1099.9 L1720.5 1089.4 L1720.4 1080 L1720.4 1071.2 L1720.4 1062.5 L1720.3 1053.9 L1720.3 1045.5 L1720.3 1037.3 L1720.2 1029.4 L1720.2 1021.9 L1720.2 1014.7 L1720.2 1008 L1720.1 1001.8 L1720.2 996.1 L1720.3 991 L1720.5 986.3 L1720.6 982 L1720.7 978 L1720.8 974.3 L1720.8 970.7 L1720.9 967.2 L1721 963.8 L1721 960.3 L1721 957 L1720.9 953.8 L1720.9 950.8 L1720.8 948 L1720.7 945.4 L1720.6 942.8 L1720.5 940.2 L1720.4 937.6 L1720.3 935.1 L1720.2 932.4 L1720.1 929.6 L1720 926.8 L1719.9 924.1 L1719.8 921.3 L1719.7 918.5 L1719.6 915.8 L1719.4 913 L1719.3 910.2 L1719.1 907.4 L1719 904.7 L1718.8 901.9 L1718.7 899.2 L1718.6 896.4 L1718.4 893.6 L1718.3 890.8 L1718.1 888 L1717.9 885.1 L1717.7 882.3 L1717.4 879.4 L1717 876.5 L1716.6 873.7 L1716.2 870.9 L1715.7 868.1 L1715.2 865.2 L1714.7 862.4 L1714.1 859.5 L1713.5 856.6 L1712.9 853.7 L1712.2 850.7 L1711.4 847.7 L1710.5 844.8 L1709.5 841.8 L1708.5 838.8 L1707.4 835.8 L1706.3 832.9 L1705.2 830 L1704 827.2 L1702.9 824.5 L1701.8 821.9 L1700.8 819.4 L1699.9 817.1 L1698.9 814.9 L1698 812.7 L1697.1 810.5 L1696.2 808.4 L1695.2 806.2 L1694.1 804 L1692.9 801.9 L1691.6 799.6 L1690.2 797.4 L1688.7 795.2 L1687.1 793 L1685.4 790.8 L1683.6 788.6 L1681.8 786.5 L1680 784.5 L1678.2 782.5 L1676.4 780.6 L1674.6 778.8 L1672.8 777 L1671.1 775.4 L1669.3 773.8 L1667.5 772.3 L1665.7 770.8 L1664 769.5 L1662.3 768.2 L1660.5 767 L1658.9 765.8 L1657.2 764.7 L1655.6 763.6 L1654 762.5 L1652.6 761.5 L1651.1 760.6 L1649.7 759.7 L1648.2 758.8 L1646.6 757.8 L1644.9 756.9 L1643 755.9 L1640.9 754.8 L1638.6 753.7 L1636 752.4 L1633.1 751.1 L1630 749.6 L1626.8 748.1 L1623.3 746.6 L1619.8 745.1 L1616.3 743.5 L1612.7 742.1 L1609.2 740.7 L1605.8 739.4 L1602.5 738.2 L1599.1 737.1 L1595.8 736.1 L1592.5 735.2 L1589.3 734.2 L1586 733.4 L1582.8 732.5 L1579.6 731.7 L1576.4 730.8 L1573.2 730 L1570 729.2 L1566.9 728.3 L1563.8 727.5 L1560.7 726.7 L1557.5 725.9 L1554.3 725.1 L1551.1 724.4 L1547.8 723.6 L1544.3 722.9 L1540.8 722.2 L1537 721.4 L1532.8 720.7 L1528.4 720 L1523.8 719.2 L1519.4 718.5 L1515.1 717.9 L1511.1 717.3 L1507.5 716.7 L1504.5 716.3 L1502.2 715.9 Z" fill="#04407F"/>
<circle cx="1501.2" cy="722.2" r="6.35" fill="#04407F"/>
<path d="M1709.8 1178.4 L1710.7 1179.7 L1711.7 1181.5 L1713 1183.6 L1714.4 1185.9 L1716 1188.3 L1717.8 1190.7 L1719.6 1192.8 L1721.6 1194.7 L1723.7 1196.4 L1726.1 1198 L1728.6 1199.5 L1731.3 1200.9 L1734 1202.2 L1736.7 1203.4 L1739.4 1204.3 L1742 1204.9 L1744.6 1205.3 L1747.2 1205.5 L1749.8 1205.5 L1752.5 1205.3 L1755 1204.9 L1757.6 1204.4 L1760 1203.7 L1762.4 1202.9 L1764.7 1201.9 L1766.9 1200.8 L1769 1199.6 L1771.1 1198.2 L1773.1 1196.6 L1775.1 1194.8 L1777 1192.8 L1778.8 1190.6 L1780.6 1188.1 L1782.3 1185.2 L1784 1182.1 L1785.5 1178.9 L1787.1 1175.5 L1788.5 1172.2 L1789.8 1169 L1791 1166.1 L1792.1 1163.4 L1793 1160.8 L1793.9 1158.2 L1794.7 1155.8 L1795.4 1153.3 L1796 1150.8 L1796.6 1148.3 L1797.1 1145.7 L1797.6 1142.8 L1798 1139.7 L1798.3 1136.5 L1798.5 1133.2 L1798.7 1130.1 L1798.9 1127.4 L1799.1 1125 L1799.2 1123.3" fill="none" stroke="#04407F" stroke-width="11.5" stroke-linejoin="round" stroke-linecap="round" />
<path d="M1799.2 1123.3 L1799.4 1126.1 L1799.7 1129.8 L1800 1134.3 L1800.4 1139.2 L1800.7 1144.5 L1801.1 1149.8 L1801.3 1155.1 L1801.5 1160 L1801.6 1165 L1801.6 1170.5 L1801.6 1176.1 L1801.5 1181.7 L1801.4 1187 L1801.3 1191.8 L1801.2 1195.8 L1801.2 1198.8" fill="none" stroke="#04407F" stroke-width="9.5" stroke-linejoin="round" stroke-linecap="round" />
<path d="M1801.2 1198.8 L1799.8 1199.8 L1798 1201.2 L1795.8 1202.8 L1793.3 1204.6 L1790.7 1206.5 L1788.1 1208.2 L1785.4 1209.8 L1782.9 1211 L1780.4 1211.9 L1777.9 1212.5 L1775.4 1213 L1772.8 1213.3 L1770.2 1213.6 L1767.6 1214 L1765 1214.4 L1762.4 1215.1 L1759.8 1215.9 L1757.3 1216.8 L1754.7 1217.8 L1752.2 1218.8 L1749.6 1219.9 L1747.1 1221 L1744.5 1222.2 L1742 1223.3 L1739.4 1224.5 L1736.6 1225.9 L1733.7 1227.2 L1730.9 1228.7 L1728.2 1230 L1725.7 1231.3 L1723.5 1232.5 L1721.6 1233.5 L1720.1 1234.3 L1718.9 1235 L1718 1235.7 L1717.3 1236.2 L1716.7 1236.6 L1716.3 1237 L1715.9 1237.3 L1715.5 1237.6" fill="none" stroke="#04407F" stroke-width="12.5" stroke-linejoin="round" stroke-linecap="round" />
<path d="M1715.5 1237.6 L1715.5 1236.7 L1715.6 1235.8 L1715.6 1234.6 L1715.7 1233.3 L1715.7 1231.6 L1715.8 1229.4 L1715.9 1226.7 L1715.9 1223.3 L1715.9 1218.8 L1716 1213.1 L1716 1206.6 L1716.1 1199.8 L1716.1 1193 L1716.1 1186.9 L1716.2 1181.7 L1716.2 1178" fill="none" stroke="#04407F" stroke-width="7.8" stroke-linejoin="round" stroke-linecap="round" />
<circle cx="1797" cy="1192" r="4.6" fill="#04407F"/>
<circle cx="1793" cy="1197" r="4.6" fill="#04407F"/>
<circle cx="1789" cy="1187" r="4.6" fill="#04407F"/>
<circle cx="1801" cy="1180" r="4.6" fill="#04407F"/>
<circle cx="1705.6" cy="921.2" r="4.1" fill="url(#sB)"/>
<circle cx="1706.4" cy="931.4" r="4.1" fill="url(#sB)"/>
<circle cx="1706.9" cy="949.8" r="4.1" fill="url(#sB)"/>
<circle cx="1707.6" cy="970.2" r="4.1" fill="url(#sB)"/>
<circle cx="1708" cy="994.7" r="4.1" fill="url(#sB)"/>
<circle cx="1708.6" cy="1072.2" r="4.1" fill="url(#sB)"/>
<circle cx="1709" cy="1125.3" r="4.1" fill="url(#sB)"/>
<circle cx="1709.8" cy="1178.4" r="4.1" fill="url(#sB)"/>
<circle cx="1716.6" cy="1017.1" r="4.1" fill="url(#sB)"/>
<circle cx="1717.4" cy="970.2" r="4.1" fill="url(#sB)"/>
<circle cx="1716.8" cy="943.7" r="4.1" fill="url(#sB)"/>
<circle cx="1716.2" cy="927.3" r="4.1" fill="url(#sB)"/>
<circle cx="1716" cy="1143.7" r="4.1" fill="url(#sB)"/>
<circle cx="1715.5" cy="1237.6" r="4.1" fill="url(#sB)"/>
<circle cx="1799.2" cy="1123.3" r="4.1" fill="url(#sB)"/>
<circle cx="1799.6" cy="1136" r="4.1" fill="url(#sB)"/>
<circle cx="1801.2" cy="1198.8" r="4.1" fill="url(#sB)"/>
<circle cx="1800.6" cy="1186" r="4.1" fill="url(#sB)"/>
<circle cx="1708.2" cy="1185" r="4.1" fill="url(#sB)"/>
<circle cx="1795.5" cy="1196" r="4.1" fill="url(#sB)"/>
<ellipse cx="1672" cy="793.4" rx="1.7" ry="0.9" fill="#c9d6ea" opacity="0.38"/>
<ellipse cx="1673.6" cy="795.4" rx="1.7" ry="0.9" fill="#c9d6ea" opacity="0.40"/>
<ellipse cx="1675" cy="797.5" rx="1.7" ry="0.9" fill="#c9d6ea" opacity="0.41"/>
<ellipse cx="1676.4" cy="799.5" rx="1.7" ry="0.9" fill="#c9d6ea" opacity="0.43"/>
<ellipse cx="1677.7" cy="801.5" rx="1.7" ry="0.9" fill="#c9d6ea" opacity="0.45"/>
<ellipse cx="1678.9" cy="803.5" rx="1.7" ry="0.9" fill="#c9d6ea" opacity="0.46"/>
<ellipse cx="1680.9" cy="807.4" rx="1.7" ry="0.9" fill="#c9d6ea" opacity="0.49"/>
<ellipse cx="1682.6" cy="811.3" rx="1.7" ry="0.9" fill="#c9d6ea" opacity="0.52"/>
<ellipse cx="1684.2" cy="815.4" rx="1.7" ry="0.9" fill="#c9d6ea" opacity="0.56"/>
<ellipse cx="1685.8" cy="819.8" rx="1.7" ry="0.9" fill="#c9d6ea" opacity="0.59"/>
<ellipse cx="1687.6" cy="824.7" rx="1.7" ry="0.9" fill="#c9d6ea" opacity="0.63"/>
<ellipse cx="1689.5" cy="829.9" rx="1.7" ry="0.9" fill="#c9d6ea" opacity="0.67"/>
<ellipse cx="1691.5" cy="835.5" rx="1.7" ry="0.9" fill="#c9d6ea" opacity="0.72"/>
<ellipse cx="1693.3" cy="841.2" rx="1.7" ry="0.9" fill="#c9d6ea" opacity="0.76"/>
<ellipse cx="1695" cy="846.9" rx="1.7" ry="0.9" fill="#c9d6ea" opacity="0.81"/>
<ellipse cx="1696.3" cy="852.5" rx="1.7" ry="0.9" fill="#c9d6ea" opacity="0.85"/>
<ellipse cx="1697.4" cy="858" rx="1.7" ry="0.9" fill="#c9d6ea" opacity="0.90"/>
<ellipse cx="1698.2" cy="863.5" rx="1.7" ry="0.9" fill="#c9d6ea" opacity="0.94"/>
<ellipse cx="1698.9" cy="869" rx="1.7" ry="0.9" fill="#c9d6ea" opacity="0.99"/>
<ellipse cx="1699.6" cy="874.5" rx="1.7" ry="0.9" fill="#c9d6ea" opacity="1.00"/>
<ellipse cx="1700.5" cy="882.8" rx="1.7" ry="0.9" fill="#c9d6ea" opacity="1.00"/>
<ellipse cx="1701.4" cy="891.1" rx="1.7" ry="0.9" fill="#c9d6ea" opacity="1.00"/>
<ellipse cx="1702.2" cy="899.4" rx="1.7" ry="0.9" fill="#c9d6ea" opacity="1.00"/>
<ellipse cx="1703" cy="907.7" rx="1.7" ry="0.9" fill="#c9d6ea" opacity="1.00"/>
<rect x="1427.1" y="705.8" width="446.9" height="545.4" fill="none" stroke="#000" stroke-width="5.5" />
<line x1="1425.8" y1="703" x2="1425.8" y2="1254" stroke="#000" stroke-width="8" />
<line x1="1426.1" y1="723.2" x2="1415.8" y2="723.2" stroke="#000" stroke-width="5.3" />
<line x1="1426.1" y1="780.2" x2="1415.8" y2="780.2" stroke="#000" stroke-width="5.3" />
<line x1="1426.1" y1="837.2" x2="1415.8" y2="837.2" stroke="#000" stroke-width="5.3" />
<line x1="1426.1" y1="894.2" x2="1415.8" y2="894.2" stroke="#000" stroke-width="5.3" />
<line x1="1426.1" y1="951.2" x2="1415.8" y2="951.2" stroke="#000" stroke-width="5.3" />
<line x1="1426.1" y1="1008.2" x2="1415.8" y2="1008.2" stroke="#000" stroke-width="5.3" />
<line x1="1426.1" y1="1065.2" x2="1415.8" y2="1065.2" stroke="#000" stroke-width="5.3" />
<line x1="1426.1" y1="1122.2" x2="1415.8" y2="1122.2" stroke="#000" stroke-width="5.3" />
<line x1="1426.1" y1="1179.2" x2="1415.8" y2="1179.2" stroke="#000" stroke-width="5.3" />
<line x1="1426.1" y1="1236.2" x2="1415.8" y2="1236.2" stroke="#000" stroke-width="5.3" />
<line x1="1426.1" y1="763.1" x2="1420.8" y2="763.1" stroke="#000" stroke-width="3" />
<line x1="1426.1" y1="755.1" x2="1420.8" y2="755.1" stroke="#000" stroke-width="3" />
<line x1="1426.1" y1="750.6" x2="1420.8" y2="750.6" stroke="#000" stroke-width="3" />
<line x1="1426.1" y1="744.9" x2="1420.8" y2="744.9" stroke="#000" stroke-width="3" />
<line x1="1426.1" y1="820.1" x2="1420.8" y2="820.1" stroke="#000" stroke-width="3" />
<line x1="1426.1" y1="812.1" x2="1420.8" y2="812.1" stroke="#000" stroke-width="3" />
<line x1="1426.1" y1="807.6" x2="1420.8" y2="807.6" stroke="#000" stroke-width="3" />
<line x1="1426.1" y1="801.9" x2="1420.8" y2="801.9" stroke="#000" stroke-width="3" />
<line x1="1426.1" y1="877.1" x2="1420.8" y2="877.1" stroke="#000" stroke-width="3" />
<line x1="1426.1" y1="869.1" x2="1420.8" y2="869.1" stroke="#000" stroke-width="3" />
<line x1="1426.1" y1="864.6" x2="1420.8" y2="864.6" stroke="#000" stroke-width="3" />
<line x1="1426.1" y1="858.9" x2="1420.8" y2="858.9" stroke="#000" stroke-width="3" />
<line x1="1426.1" y1="934.1" x2="1420.8" y2="934.1" stroke="#000" stroke-width="3" />
<line x1="1426.1" y1="926.1" x2="1420.8" y2="926.1" stroke="#000" stroke-width="3" />
<line x1="1426.1" y1="921.6" x2="1420.8" y2="921.6" stroke="#000" stroke-width="3" />
<line x1="1426.1" y1="915.9" x2="1420.8" y2="915.9" stroke="#000" stroke-width="3" />
<line x1="1426.1" y1="991.1" x2="1420.8" y2="991.1" stroke="#000" stroke-width="3" />
<line x1="1426.1" y1="983.1" x2="1420.8" y2="983.1" stroke="#000" stroke-width="3" />
<line x1="1426.1" y1="978.6" x2="1420.8" y2="978.6" stroke="#000" stroke-width="3" />
<line x1="1426.1" y1="972.9" x2="1420.8" y2="972.9" stroke="#000" stroke-width="3" />
<line x1="1426.1" y1="1048.1" x2="1420.8" y2="1048.1" stroke="#000" stroke-width="3" />
<line x1="1426.1" y1="1040.1" x2="1420.8" y2="1040.1" stroke="#000" stroke-width="3" />
<line x1="1426.1" y1="1035.6" x2="1420.8" y2="1035.6" stroke="#000" stroke-width="3" />
<line x1="1426.1" y1="1029.9" x2="1420.8" y2="1029.9" stroke="#000" stroke-width="3" />
<line x1="1426.1" y1="1105.1" x2="1420.8" y2="1105.1" stroke="#000" stroke-width="3" />
<line x1="1426.1" y1="1097.1" x2="1420.8" y2="1097.1" stroke="#000" stroke-width="3" />
<line x1="1426.1" y1="1092.6" x2="1420.8" y2="1092.6" stroke="#000" stroke-width="3" />
<line x1="1426.1" y1="1086.9" x2="1420.8" y2="1086.9" stroke="#000" stroke-width="3" />
<line x1="1426.1" y1="1162.1" x2="1420.8" y2="1162.1" stroke="#000" stroke-width="3" />
<line x1="1426.1" y1="1154.1" x2="1420.8" y2="1154.1" stroke="#000" stroke-width="3" />
<line x1="1426.1" y1="1149.6" x2="1420.8" y2="1149.6" stroke="#000" stroke-width="3" />
<line x1="1426.1" y1="1143.9" x2="1420.8" y2="1143.9" stroke="#000" stroke-width="3" />
<line x1="1426.1" y1="1219.1" x2="1420.8" y2="1219.1" stroke="#000" stroke-width="3" />
<line x1="1426.1" y1="1211.1" x2="1420.8" y2="1211.1" stroke="#000" stroke-width="3" />
<line x1="1426.1" y1="1206.6" x2="1420.8" y2="1206.6" stroke="#000" stroke-width="3" />
<line x1="1426.1" y1="1200.9" x2="1420.8" y2="1200.9" stroke="#000" stroke-width="3" />
<line x1="1427.1" y1="1251.2" x2="1427.1" y2="1261" stroke="#000" stroke-width="5.5" />
<line x1="1501.6" y1="1251.2" x2="1501.6" y2="1261" stroke="#000" stroke-width="5.5" />
<line x1="1576.1" y1="1251.2" x2="1576.1" y2="1261" stroke="#000" stroke-width="5.5" />
<line x1="1650.5" y1="1251.2" x2="1650.5" y2="1261" stroke="#000" stroke-width="5.5" />
<line x1="1725" y1="1251.2" x2="1725" y2="1261" stroke="#000" stroke-width="5.5" />
<line x1="1799.5" y1="1251.2" x2="1799.5" y2="1261" stroke="#000" stroke-width="5.5" />
<line x1="1874" y1="1251.2" x2="1874" y2="1261" stroke="#000" stroke-width="5.5" />
<line x1="1464.3" y1="1251.2" x2="1464.3" y2="1257" stroke="#000" stroke-width="4" />
<line x1="1538.8" y1="1251.2" x2="1538.8" y2="1257" stroke="#000" stroke-width="4" />
<line x1="1613.3" y1="1251.2" x2="1613.3" y2="1257" stroke="#000" stroke-width="4" />
<line x1="1687.8" y1="1251.2" x2="1687.8" y2="1257" stroke="#000" stroke-width="4" />
<line x1="1762.3" y1="1251.2" x2="1762.3" y2="1257" stroke="#000" stroke-width="4" />
<line x1="1836.8" y1="1251.2" x2="1836.8" y2="1257" stroke="#000" stroke-width="4" />
<text x="1427.1" y="1296.5" font-family='"Liberation Sans", sans-serif' font-size="33" font-weight="bold" text-anchor="middle" fill="#000" >-60</text>
<text x="1501.6" y="1296.5" font-family='"Liberation Sans", sans-serif' font-size="33" font-weight="bold" text-anchor="middle" fill="#000" >-40</text>
<text x="1576.1" y="1296.5" font-family='"Liberation Sans", sans-serif' font-size="33" font-weight="bold" text-anchor="middle" fill="#000" >-20</text>
<text x="1650.5" y="1296.5" font-family='"Liberation Sans", sans-serif' font-size="33" font-weight="bold" text-anchor="middle" fill="#000" >0</text>
<text x="1725" y="1296.5" font-family='"Liberation Sans", sans-serif' font-size="33" font-weight="bold" text-anchor="middle" fill="#000" >20</text>
<text x="1799.5" y="1296.5" font-family='"Liberation Sans", sans-serif' font-size="33" font-weight="bold" text-anchor="middle" fill="#000" >40</text>
<text x="1874" y="1296.5" font-family='"Liberation Sans", sans-serif' font-size="33" font-weight="bold" text-anchor="middle" fill="#000" >60</text>
<g transform="translate(1385.2 736.2) scale(1 1.04)"><text x="1.4" y="0" font-family='"Liberation Sans", sans-serif' font-size="35.3" font-weight="bold" text-anchor="end">10</text><text x="1.8" y="-15" font-family='"Liberation Sans", sans-serif' font-size="24" font-weight="bold" text-anchor="start">-2</text></g>
<g transform="translate(1385.2 850.2) scale(1 1.04)"><text x="1.4" y="0" font-family='"Liberation Sans", sans-serif' font-size="35.3" font-weight="bold" text-anchor="end">10</text><text x="1.8" y="-15" font-family='"Liberation Sans", sans-serif' font-size="24" font-weight="bold" text-anchor="start">-4</text></g>
<g transform="translate(1385.2 964.2) scale(1 1.04)"><text x="1.4" y="0" font-family='"Liberation Sans", sans-serif' font-size="35.3" font-weight="bold" text-anchor="end">10</text><text x="1.8" y="-15" font-family='"Liberation Sans", sans-serif' font-size="24" font-weight="bold" text-anchor="start">-6</text></g>
<g transform="translate(1385.2 1078.2) scale(1 1.04)"><text x="1.4" y="0" font-family='"Liberation Sans", sans-serif' font-size="35.3" font-weight="bold" text-anchor="end">10</text><text x="1.8" y="-15" font-family='"Liberation Sans", sans-serif' font-size="24" font-weight="bold" text-anchor="start">-8</text></g>
<g transform="translate(1372.7 1192.2) scale(1 1.04)"><text x="1.4" y="0" font-family='"Liberation Sans", sans-serif' font-size="35.3" font-weight="bold" text-anchor="end">10</text><text x="1.8" y="-15" font-family='"Liberation Sans", sans-serif' font-size="24" font-weight="bold" text-anchor="start">-10</text></g>
<text x="1651" y="1342.8" font-family='"Liberation Sans", sans-serif' font-size="39.2" font-weight="bold" text-anchor="middle" fill="#000" ><tspan font-style="italic">V</tspan><tspan font-size="26.7" dy="9.8">GS</tspan><tspan dy="-9.8"> (V)</tspan></text>
<text transform="translate(1332 973) rotate(-90)" font-family='"Liberation Sans", sans-serif' font-size="40" font-weight="bold" text-anchor="middle">|<tspan font-style="italic">I</tspan><tspan font-size="27.2" dy="8.8">DS</tspan><tspan dy="-8.8">| (A)</tspan></text>
<line x1="1474" y1="1125.6" x2="1543" y2="1125.6" stroke="#555" stroke-width="4.6" stroke-linecap="round"/>
<circle cx="1507.6" cy="1125.6" r="6.3" fill="url(#sK)"/>
<text x="1551.5" y="1136.3" font-family='"Liberation Sans", sans-serif' font-size="30.8" font-weight="bold" text-anchor="start" fill="#000" >1 V/step</text>
<line x1="1474" y1="1164.5" x2="1543" y2="1164.5" stroke="#FF7F0E" stroke-width="4.6" stroke-linecap="round"/>
<circle cx="1507.6" cy="1164.5" r="6.3" fill="url(#sO)"/>
<text x="1551.5" y="1175.2" font-family='"Liberation Sans", sans-serif' font-size="30.8" font-weight="bold" text-anchor="start" fill="#000" >0.5 V/step</text>
<line x1="1474" y1="1202.8" x2="1543" y2="1202.8" stroke="#04407F" stroke-width="4.6" stroke-linecap="round"/>
<circle cx="1507.6" cy="1202.8" r="6.3" fill="url(#sB)"/>
<text x="1551.5" y="1213.5" font-family='"Liberation Sans", sans-serif' font-size="30.8" font-weight="bold" text-anchor="start" fill="#000" >0.2 V/step</text>
<text x="1309" y="742" font-family='"Liberation Serif", serif' font-size="55" font-weight="bold" text-anchor="start" fill="#000" >f</text>
<path d="M170.6 1545 L170.6 1502.2 L172.6 1502 L174.7 1502.4 L176.7 1502 L178.7 1502.3 L180.8 1502.1 L182.8 1501.9 L184.8 1502.2 L186.9 1501.9 L188.9 1502.1 L190.9 1501.9 L193 1501.9 L195 1502.1 L197 1502.4 L199.1 1501.9 L201.1 1501.9 L203.1 1502.2 L205.2 1502.4 L207.2 1502.1 L209.2 1502 L211.3 1502.4 L213.3 1501.7 L215.3 1502.3 L217.4 1501.9 L219.4 1501.7 L221.4 1501.7 L223.5 1501.8 L225.5 1502.2 L227.5 1501.7 L229.6 1502 L231.6 1502 L233.6 1501.8 L235.7 1501.9 L237.7 1501.6 L239.7 1501.5 L241.8 1501.6 L243.8 1502 L245.8 1501.8 L247.9 1501.7 L249.9 1501.9 L251.9 1501.7 L254 1501.6 L256 1502 L258 1501.9 L260.1 1501.5 L262.1 1501.8 L264.1 1501.7 L266.2 1502 L268.2 1501.8 L270.2 1501.5 L272.2 1502 L274.3 1501.4 L276.3 1501.6 L278.3 1501.8 L280.4 1501.4 L282.4 1501.6 L284.4 1501.2 L286.5 1501.7 L288.5 1501.7 L290.5 1501.6 L292.6 1501.8 L294.6 1501.4 L296.6 1501.6 L298.7 1501.5 L300.7 1501.5 L302.7 1501.4 L304.8 1501.7 L306.8 1501.7 L308.8 1501.4 L310.9 1501.5 L312.9 1501.1 L314.9 1501.5 L317 1501.5 L319 1501.7 L321 1501.6 L323.1 1501.2 L325.1 1501.2 L327.1 1501.4 L329.2 1501 L331.2 1501.2 L333.2 1501 L335.3 1501 L337.3 1500.9 L339.3 1501.4 L341.4 1500.9 L343.4 1501 L345.4 1501.1 L347.5 1501.4 L349.5 1500.9 L351.5 1501.1 L353.6 1501.2 L355.6 1501.4 L357.6 1501.3 L359.7 1501.3 L361.7 1500.9 L363.7 1501 L365.8 1501 L367.8 1501.3 L369.8 1501.3 L371.9 1500.8 L373.9 1500.8 L375.9 1500.8 L378 1500.8 L380 1501 L382 1501 L384.1 1500.8 L386.1 1500.6 L388.1 1500.9 L390.2 1500.8 L392.2 1500.9 L394.2 1501.2 L396.3 1501 L398.3 1500.9 L400.3 1500.9 L402.4 1500.9 L404.4 1500.5 L406.4 1501.1 L408.5 1501 L410.5 1501 L412.5 1501 L414.6 1500.7 L416.6 1500.7 L418.6 1500.4 L420.7 1500.8 L422.7 1500.4 L424.7 1500.4 L426.8 1500.5 L428.8 1500.4 L430.8 1500.5 L432.9 1500.3 L434.9 1500.3 L436.9 1500.4 L439 1500.3 L441 1500.5 L443 1500.2 L445.1 1500.8 L447.1 1500.6 L449.1 1500.3 L451.2 1500.3 L453.2 1500.4 L455.2 1500.4 L457.3 1500.2 L459.3 1500.7 L461.3 1500.8 L463.4 1500.4 L465.4 1500.4 L467.4 1500.1 L469.5 1500.1 L471.5 1500.3 L473.5 1500.2 L475.5 1500.6 L477.6 1500.1 L479.6 1500 L481.6 1500.6 L483.7 1500.3 L485.7 1500 L487.7 1500.3 L489.8 1499.9 L491.8 1500.3 L493.8 1500.6 L495.9 1500.5 L497.9 1500.3 L499.9 1500 L502 1500.1 L504 1499.9 L506 1500.3 L508.1 1500.2 L510.1 1500.3 L512.1 1500 L514.2 1499.9 L516.2 1500.3 L518.2 1500.4 L520.3 1500.3 L522.3 1500.3 L524.3 1500.3 L526.4 1500.2 L528.4 1499.8 L530.4 1500 L532.5 1499.9 L534.5 1499.6 L536.5 1499.6 L538.6 1499.8 L540.6 1499.8 L542.6 1500.1 L544.7 1500.2 L546.7 1499.9 L548.7 1500.2 L550.8 1500.2 L552.8 1500.2 L554.8 1499.7 L556.9 1499.6 L558.9 1499.6 L560.9 1499.6 L563 1499.6 L565 1499.9 L567 1500 L569.1 1500 L571.1 1499.7 L573.1 1499.8 L575.2 1499.9 L577.2 1499.4 L577.2 1545 Z" fill="#FF7F0E"/>
<path d="M170.6 1538.3 L172.6 1538.5 L174.7 1538.4 L176.7 1538.4 L178.7 1538.3 L180.8 1538.2 L182.8 1538.6 L184.8 1538.3 L186.9 1538.6 L188.9 1538.8 L190.9 1538.5 L193 1538.5 L195 1538.8 L197 1538.7 L199.1 1538.4 L201.1 1538.4 L203.1 1538.5 L205.2 1538.9 L207.2 1538.9 L209.2 1538.5 L211.3 1539 L213.3 1540.1 L215.3 1539.9 L217.4 1539.7 L219.4 1539.9 L221.4 1539.6 L223.5 1539.6 L225.5 1540.2 L227.5 1540 L229.6 1539.9 L231.6 1540.2 L233.6 1539.9 L235.7 1540.1 L237.7 1540.1 L239.7 1539.7 L241.8 1539.8 L243.8 1539.8 L245.8 1539.8 L247.9 1540 L249.9 1539.8 L251.9 1539.9 L254 1539.7 L256 1540.1 L258 1539.8 L260.1 1539.8 L262.1 1539.9 L264.1 1540.1 L266.2 1539.8 L268.2 1540 L270.2 1539.8 L272.2 1538.8 L274.3 1538.8 L276.3 1538.4 L278.3 1538.7 L280.4 1538.5 L282.4 1538.3 L284.4 1538.8 L286.5 1538.4 L288.5 1538.5 L290.5 1538.7 L292.6 1538.5 L294.6 1538.4 L296.6 1538.5 L298.7 1538.5 L300.7 1538.6 L302.7 1538.1 L304.8 1538.4 L306.8 1538.1 L308.8 1538.1 L310.9 1538.4 L312.9 1538.2 L314.9 1538.2 L317 1538.3 L319 1538.3 L321 1538 L323.1 1538.1 L325.1 1538 L327.1 1538 L329.2 1538.1 L331.2 1537.9 L333.2 1537.9 L335.3 1537.8 L337.3 1538.1 L339.3 1537.9 L341.4 1538 L343.4 1538 L345.4 1537.6 L347.5 1537.7 L349.5 1537.9 L351.5 1537.9 L353.6 1537.4 L355.6 1537.4 L357.6 1537.6 L359.7 1537.3 L361.7 1537.4 L363.7 1537.3 L365.8 1537.6 L367.8 1537.7 L369.8 1537.8 L371.9 1537.3 L373.9 1537.6 L375.9 1537.6 L378 1537.3 L380 1537.7 L382 1537.8 L384.1 1537.3 L386.1 1537.8 L388.1 1537.4 L390.2 1537.5 L392.2 1537.8 L394.2 1537.7 L396.3 1537.3 L398.3 1537.5 L400.3 1537.5 L402.4 1537.4 L404.4 1537.4 L406.4 1537.5 L408.5 1537.7 L410.5 1537.3 L412.5 1537.7 L414.6 1537.6 L416.6 1537.4 L418.6 1537.6 L420.7 1537.8 L422.7 1537.7 L424.7 1537.5 L426.8 1538.1 L428.8 1538 L430.8 1538.1 L432.9 1537.6 L434.9 1537.8 L436.9 1537.7 L439 1538.1 L441 1537.9 L443 1537.8 L445.1 1538 L447.1 1538.3 L449.1 1538.3 L451.2 1538 L453.2 1538 L455.2 1538.5 L457.3 1538.3 L459.3 1538.4 L461.3 1538.1 L463.4 1538.1 L465.4 1538.5 L467.4 1538.4 L469.5 1538.2 L471.5 1538.7 L473.5 1538.6 L475.5 1538.7 L477.6 1538.3 L479.6 1538.8 L481.6 1538.3 L483.7 1538.9 L485.7 1538.6 L487.7 1538.6 L489.8 1538.7 L491.8 1539 L493.8 1538.6 L495.9 1538.5 L497.9 1538.8 L499.9 1538.7 L502 1538.6 L504 1538.6 L506 1538.6 L508.1 1538.7 L510.1 1538.8 L512.1 1538.8 L514.2 1539.1 L516.2 1538.8 L518.2 1538.9 L520.3 1538.7 L522.3 1538.8 L524.3 1538.6 L526.4 1538.8 L528.4 1538.6 L530.4 1539.1 L532.5 1538.9 L534.5 1538.7 L536.5 1538.9 L538.6 1539.2 L540.6 1538.6 L542.6 1539.1 L544.7 1538.8 L546.7 1538.8 L548.7 1539 L550.8 1538.7 L552.8 1538.8 L554.8 1538.9 L556.9 1539 L558.9 1538.6 L560.9 1538.9 L563 1538.8 L565 1538.7 L567 1538.6 L569.1 1538.5 L571.1 1538.3 L573.1 1538.3 L575.2 1538.3 L577.2 1538.6 L576.8 1942.2 L575.9 1942.1 L575.1 1943.3 L574.3 1942.6 L573.5 1942 L572.7 1943.1 L571.9 1942.2 L571 1943.2 L570.2 1942.1 L569.4 1943 L568.6 1942.4 L567.8 1941.9 L567 1943.3 L567 1926.9 L566.1 1924.7 L565.3 1927.3 L564.4 1927.4 L563.6 1925.8 L562.7 1927.5 L561.9 1924.8 L561 1927 L560.2 1926.7 L559.4 1927.6 L558.5 1927.1 L557.7 1924.6 L556.8 1927.4 L556 1925.4 L556 1942.6 L555.1 1941.9 L554.3 1942.6 L553.4 1943 L552.6 1943 L551.8 1941.9 L550.9 1942.8 L550.1 1941.9 L549.2 1942.6 L548.4 1942.5 L547.6 1941.9 L546.7 1942.5 L545.9 1942 L545 1942 L544.2 1942.6 L543.4 1942.1 L542.5 1942.5 L542.5 1926.8 L541.7 1926.8 L540.9 1924.9 L540.1 1925.8 L539.3 1926.3 L538.4 1924.2 L537.6 1925.6 L536.8 1925.7 L536 1926.4 L535.2 1925.6 L534.4 1926.1 L533.5 1925.6 L532.7 1925.2 L531.9 1926.3 L531.1 1926 L530.3 1926.2 L529.5 1924.5 L528.7 1927 L527.8 1924.2 L527.8 1943 L527 1942.7 L526.2 1941.9 L525.4 1943.2 L524.6 1943 L523.8 1942.2 L523 1942 L522.1 1942.4 L521.3 1942.6 L520.5 1942.4 L519.7 1942.1 L518.9 1942.1 L518.1 1943.1 L517.2 1943.2 L516.4 1942.4 L515.6 1942.2 L515.6 1926.9 L514.8 1924.7 L514 1927 L513.2 1926.3 L512.4 1927.3 L511.5 1925.5 L510.7 1927.3 L509.9 1924.3 L509.1 1925.8 L508.3 1927.5 L507.5 1927.4 L506.6 1924.5 L505.8 1924.8 L505.8 1943.3 L505 1943.1 L504.1 1942.6 L503.2 1942 L502.3 1943.3 L501.5 1942.6 L500.6 1942.3 L499.7 1942 L499.7 1925.9 L498.8 1925.4 L497.9 1926.3 L497 1924.4 L496.1 1927.3 L496.1 1942.8 L495.2 1942.7 L494.4 1941.8 L493.6 1942.1 L492.8 1942.5 L492 1943.2 L491.2 1942.4 L490.3 1943.1 L489.5 1942.5 L488.7 1943.2 L487.9 1941.8 L487.1 1942.1 L486.3 1943 L485.5 1942.1 L484.6 1942.4 L483.8 1943.4 L483 1943.2 L482.2 1942.5 L481.4 1942.4 L480.6 1942.7 L479.7 1942.3 L478.9 1943.3 L478.9 1925.2 L478.1 1925.1 L477.3 1925.5 L476.5 1926.5 L475.7 1924.7 L474.9 1924.4 L474 1926.3 L474 1942.7 L473.2 1942.4 L472.4 1942 L471.6 1941.9 L470.8 1942.7 L470 1943.1 L469.1 1942.1 L468.3 1942.3 L467.5 1942.1 L466.7 1942.9 L465.9 1942.3 L465.1 1941.8 L464.3 1942.1 L463.4 1942.8 L462.6 1942.8 L461.8 1942.2 L461 1942.1 L460.2 1942 L459.4 1942.4 L459.4 1924.9 L458.4 1926.3 L457.5 1926.2 L456.6 1924.5 L455.7 1927.4 L455.7 1943 L454.9 1942.2 L454.1 1942.5 L453.3 1943.2 L452.5 1942.4 L451.7 1943.3 L450.8 1942.7 L450 1943.4 L449.2 1942.1 L448.4 1942 L447.6 1942.3 L446.8 1941.9 L446 1943.3 L445.2 1943.1 L444.4 1943.1 L443.6 1942.6 L442.8 1942 L441.9 1943.4 L441.1 1942.8 L440.3 1943.1 L439.5 1942.2 L438.7 1942.6 L437.9 1943.4 L437.1 1942.4 L436.3 1942.3 L435.5 1942.7 L434.7 1943.2 L433.8 1942 L433 1942.2 L432.2 1942.2 L431.4 1942.1 L430.6 1943 L429.8 1942.4 L429 1942.7 L428.2 1942.3 L427.4 1943.1 L426.6 1942 L425.8 1942.9 L424.9 1943.2 L424.1 1943 L423.3 1942.9 L422.5 1942.8 L421.7 1942.5 L420.9 1942.2 L420.1 1942.5 L419.3 1942.9 L418.5 1942.6 L417.7 1942 L416.9 1941.9 L416 1942.2 L415.2 1943.4 L414.4 1943.2 L413.6 1943.4 L412.8 1942.3 L412 1942.7 L411.2 1941.9 L410.4 1941.9 L409.6 1942.2 L408.8 1943 L408 1942.1 L407.1 1941.9 L406.3 1943.1 L405.5 1942.4 L404.7 1942.3 L403.9 1942.3 L403.1 1942.8 L402.3 1943 L401.5 1943.1 L400.7 1943 L400.7 1926.9 L399.9 1924.7 L399 1927.3 L398.2 1925.8 L397.4 1925.6 L396.6 1925 L395.8 1925.5 L395 1927.4 L394.2 1927.4 L393.3 1925.8 L392.5 1924.9 L391.7 1924.2 L390.9 1927.4 L390.9 1942.8 L390.1 1943.3 L389.3 1943 L388.4 1941.8 L387.6 1942.2 L386.8 1942.3 L386 1942.9 L385.2 1942.2 L384.4 1942.8 L383.6 1943.3 L382.7 1942.2 L381.9 1942.3 L381.1 1943.2 L380.3 1943 L379.5 1942.2 L378.7 1943.3 L378.7 1924.3 L377.7 1924.2 L376.8 1924.2 L375.9 1926.8 L375 1926.9 L375 1940.1 L374.2 1924.8 L373.4 1925.4 L372.6 1939.8 L371.8 1927 L371 1924.8 L370.2 1936.8 L369.4 1925.1 L368.6 1942.6 L367.8 1925.4 L367 1938.6 L366.2 1937 L365.4 1927.6 L364.6 1927.2 L363.8 1925.5 L363 1942.2 L362.2 1924.8 L361.4 1940.2 L360.6 1925.6 L359.8 1924.8 L359 1927.4 L358.2 1926.8 L357.4 1924.9 L356.6 1925.2 L355.7 1924.8 L354.9 1926.7 L354.1 1924.8 L353.3 1925.6 L352.5 1924.2 L351.7 1927.3 L350.9 1925 L350.1 1926.5 L349.3 1924.2 L348.5 1926.6 L347.7 1925 L346.9 1925.8 L346.1 1926.4 L345.3 1925.7 L344.5 1924.1 L343.7 1924.9 L342.9 1926.1 L342.1 1939.5 L341.3 1926.3 L340.5 1924.5 L339.7 1926.4 L338.9 1924.9 L338.1 1924.2 L337.3 1925.7 L336.5 1926.4 L335.7 1927.4 L334.9 1925.9 L334.1 1941.7 L333.3 1927.1 L332.5 1927.3 L331.7 1924.1 L330.9 1925.8 L330.1 1926.6 L329.3 1942.4 L328.5 1927.4 L327.7 1925.5 L326.9 1925 L326.1 1927.1 L326.1 1942.8 L325.3 1942.6 L324.5 1942 L323.6 1943.3 L322.8 1942.2 L322 1941.9 L321.2 1942.3 L321.2 1925.9 L320.4 1925.5 L319.6 1927.2 L318.7 1925 L317.9 1924.4 L317.1 1924.4 L316.3 1941.4 L315.5 1927.3 L314.7 1925.8 L313.9 1924.8 L313 1941.6 L312.2 1925.2 L311.4 1925 L310.6 1926.7 L309.8 1925.3 L309 1924.5 L308.1 1924.3 L307.3 1926.4 L306.5 1925.7 L305.7 1924.3 L304.9 1926 L304.1 1927.3 L303.3 1926.9 L302.4 1927.4 L301.6 1924.8 L301.6 1942.6 L300.8 1942.2 L300 1942.2 L299.2 1943.3 L298.4 1942.3 L297.6 1943.1 L296.7 1942 L295.9 1941.9 L295.1 1942.2 L294.3 1942.5 L293.5 1942.4 L292.7 1942.7 L291.8 1943.4 L291.8 1925.5 L291 1925.4 L290.2 1925.1 L289.3 1927.3 L288.5 1926.6 L287.6 1927.3 L286.8 1924.5 L285.9 1927 L285.1 1926.7 L284.2 1924.1 L283.4 1927 L282.5 1925.2 L281.7 1925.3 L280.8 1924.6 L280.8 1942.3 L280 1942.5 L279.2 1942.6 L278.4 1941.8 L277.6 1941.8 L276.8 1942.6 L275.9 1943.2 L275.1 1942.2 L274.3 1942.9 L273.5 1943.2 L272.7 1942.6 L271.9 1943.1 L271.1 1942 L270.2 1943.3 L269.4 1942.6 L268.6 1942 L268.6 1926.1 L267.8 1924.8 L266.9 1927.4 L266.1 1924.8 L265.2 1925 L264.4 1925.7 L263.5 1927.5 L262.7 1927 L261.8 1925.7 L261 1924.2 L260.1 1927.4 L259.3 1927.5 L258.5 1924.8 L257.6 1927.2 L257.6 1942 L256.7 1942.5 L255.8 1942.5 L254.9 1942.6 L253.9 1942.3 L253.9 1926.5 L253.1 1926.5 L252.3 1926.5 L251.5 1925 L250.7 1924.3 L249.9 1924.1 L249 1926.1 L249 1942.3 L248.2 1943 L247.4 1942.2 L246.5 1942 L245.7 1941.9 L244.8 1942.8 L244 1942.8 L243.2 1943 L242.3 1942.9 L241.5 1942.6 L240.6 1942.4 L239.8 1942.6 L239 1943.4 L238.1 1943 L237.3 1942.1 L236.4 1943 L235.6 1942.2 L235.6 1924.4 L234.8 1925 L234 1926.7 L233.1 1924.3 L232.3 1926.4 L231.5 1926 L230.7 1925.9 L229.9 1926.7 L229.1 1926.9 L228.3 1924.1 L227.4 1925.8 L226.6 1926.5 L225.8 1926.3 L225.8 1942.8 L225 1942.7 L224.2 1943.1 L223.4 1942 L222.6 1942.4 L221.7 1942 L220.9 1941.8 L220.1 1942.2 L219.3 1942.9 L218.5 1942.9 L217.7 1943.2 L216.8 1942.7 L216 1943.1 L215.2 1943.1 L214.4 1943.1 L213.6 1942.6 L212.8 1942.6 L212 1942 L211.1 1943.1 L210.3 1943 L209.5 1942.8 L208.7 1943.2 L207.9 1943.1 L207.1 1941.9 L206.2 1942.8 L205.4 1943 L204.6 1942 L203.8 1943.4 L203 1942.3 L202.2 1942.4 L201.4 1943.2 L200.5 1942.9 L199.7 1942.9 L198.9 1943 L198.1 1942.6 L197.3 1942.7 L196.5 1942.2 L195.7 1942.3 L194.8 1941.8 L194 1941.9 L193.2 1942.4 L192.4 1941.9 L191.6 1942.2 L190.8 1941.8 L189.9 1942.6 L189.1 1942.1 L189.1 1940.8 L188.3 1939.9 L187.5 1938.7 L186.7 1936.1 L185.9 1936.9 L185.1 1935.9 L184.2 1938.1 L183.4 1934 L182.6 1934.6 L181.8 1935.7 L181 1934.9 L180.2 1930.9 L179.3 1930.9 L178.5 1928.8 L177.7 1929.4 L176.9 1927.8 L176.1 1926.8 L175.3 1926.2 L174.5 1927.1 L174.5 1927.1 L173.5 1927 L172.6 1924.4 L171.7 1924.7 L170.8 1925 Z" fill="#04407F"/>
<line x1="211.1" y1="1935" x2="211.1" y2="1949.5" stroke="#04407F" stroke-width="0.8" />
<line x1="197.7" y1="1935" x2="197.7" y2="1946" stroke="#04407F" stroke-width="0.8" />
<line x1="202.6" y1="1935" x2="202.6" y2="1947" stroke="#04407F" stroke-width="0.8" />
<rect x="151.2" y="1415.7" width="446.6" height="546.3" fill="none" stroke="#000" stroke-width="5.5" />
<line x1="149.8" y1="1413" x2="149.8" y2="1964.8" stroke="#000" stroke-width="8.3" />
<line x1="150.2" y1="1439.1" x2="140" y2="1439.1" stroke="#000" stroke-width="5.3" />
<line x1="150.2" y1="1497.2" x2="140" y2="1497.2" stroke="#000" stroke-width="5.3" />
<line x1="150.2" y1="1555.3" x2="140" y2="1555.3" stroke="#000" stroke-width="5.3" />
<line x1="150.2" y1="1613.4" x2="140" y2="1613.4" stroke="#000" stroke-width="5.3" />
<line x1="150.2" y1="1671.5" x2="140" y2="1671.5" stroke="#000" stroke-width="5.3" />
<line x1="150.2" y1="1729.6" x2="140" y2="1729.6" stroke="#000" stroke-width="5.3" />
<line x1="150.2" y1="1787.7" x2="140" y2="1787.7" stroke="#000" stroke-width="5.3" />
<line x1="150.2" y1="1845.8" x2="140" y2="1845.8" stroke="#000" stroke-width="5.3" />
<line x1="150.2" y1="1903.9" x2="140" y2="1903.9" stroke="#000" stroke-width="5.3" />
<line x1="140.8" y1="1962" x2="151.2" y2="1962" stroke="#000" stroke-width="5.5" />
<line x1="150.2" y1="1421.7" x2="145" y2="1421.7" stroke="#000" stroke-width="3" />
<line x1="150.2" y1="1479.8" x2="145" y2="1479.8" stroke="#000" stroke-width="3" />
<line x1="150.2" y1="1471.6" x2="145" y2="1471.6" stroke="#000" stroke-width="3" />
<line x1="150.2" y1="1467" x2="145" y2="1467" stroke="#000" stroke-width="3" />
<line x1="150.2" y1="1461.2" x2="145" y2="1461.2" stroke="#000" stroke-width="3" />
<line x1="150.2" y1="1537.9" x2="145" y2="1537.9" stroke="#000" stroke-width="3" />
<line x1="150.2" y1="1529.7" x2="145" y2="1529.7" stroke="#000" stroke-width="3" />
<line x1="150.2" y1="1525.1" x2="145" y2="1525.1" stroke="#000" stroke-width="3" />
<line x1="150.2" y1="1519.3" x2="145" y2="1519.3" stroke="#000" stroke-width="3" />
<line x1="150.2" y1="1596" x2="145" y2="1596" stroke="#000" stroke-width="3" />
<line x1="150.2" y1="1587.8" x2="145" y2="1587.8" stroke="#000" stroke-width="3" />
<line x1="150.2" y1="1583.2" x2="145" y2="1583.2" stroke="#000" stroke-width="3" />
<line x1="150.2" y1="1577.4" x2="145" y2="1577.4" stroke="#000" stroke-width="3" />
<line x1="150.2" y1="1654.1" x2="145" y2="1654.1" stroke="#000" stroke-width="3" />
<line x1="150.2" y1="1645.9" x2="145" y2="1645.9" stroke="#000" stroke-width="3" />
<line x1="150.2" y1="1641.3" x2="145" y2="1641.3" stroke="#000" stroke-width="3" />
<line x1="150.2" y1="1635.5" x2="145" y2="1635.5" stroke="#000" stroke-width="3" />
<line x1="150.2" y1="1712.2" x2="145" y2="1712.2" stroke="#000" stroke-width="3" />
<line x1="150.2" y1="1704" x2="145" y2="1704" stroke="#000" stroke-width="3" />
<line x1="150.2" y1="1699.4" x2="145" y2="1699.4" stroke="#000" stroke-width="3" />
<line x1="150.2" y1="1693.6" x2="145" y2="1693.6" stroke="#000" stroke-width="3" />
<line x1="150.2" y1="1770.3" x2="145" y2="1770.3" stroke="#000" stroke-width="3" />
<line x1="150.2" y1="1762.1" x2="145" y2="1762.1" stroke="#000" stroke-width="3" />
<line x1="150.2" y1="1757.5" x2="145" y2="1757.5" stroke="#000" stroke-width="3" />
<line x1="150.2" y1="1751.7" x2="145" y2="1751.7" stroke="#000" stroke-width="3" />
<line x1="150.2" y1="1828.4" x2="145" y2="1828.4" stroke="#000" stroke-width="3" />
<line x1="150.2" y1="1820.2" x2="145" y2="1820.2" stroke="#000" stroke-width="3" />
<line x1="150.2" y1="1815.6" x2="145" y2="1815.6" stroke="#000" stroke-width="3" />
<line x1="150.2" y1="1809.8" x2="145" y2="1809.8" stroke="#000" stroke-width="3" />
<line x1="150.2" y1="1886.5" x2="145" y2="1886.5" stroke="#000" stroke-width="3" />
<line x1="150.2" y1="1878.3" x2="145" y2="1878.3" stroke="#000" stroke-width="3" />
<line x1="150.2" y1="1873.7" x2="145" y2="1873.7" stroke="#000" stroke-width="3" />
<line x1="150.2" y1="1867.9" x2="145" y2="1867.9" stroke="#000" stroke-width="3" />
<line x1="150.2" y1="1944.6" x2="145" y2="1944.6" stroke="#000" stroke-width="3" />
<line x1="150.2" y1="1936.4" x2="145" y2="1936.4" stroke="#000" stroke-width="3" />
<line x1="150.2" y1="1931.8" x2="145" y2="1931.8" stroke="#000" stroke-width="3" />
<line x1="150.2" y1="1926" x2="145" y2="1926" stroke="#000" stroke-width="3" />
<line x1="171.2" y1="1962" x2="171.2" y2="1971.8" stroke="#000" stroke-width="5.5" />
<line x1="374.1" y1="1962" x2="374.1" y2="1971.8" stroke="#000" stroke-width="5.5" />
<line x1="576.9" y1="1962" x2="576.9" y2="1971.8" stroke="#000" stroke-width="5.5" />
<line x1="272.6" y1="1962" x2="272.6" y2="1967.8" stroke="#000" stroke-width="4" />
<line x1="475.5" y1="1962" x2="475.5" y2="1967.8" stroke="#000" stroke-width="4" />
<text x="171.2" y="2008" font-family='"Liberation Sans", sans-serif' font-size="35.5" font-weight="bold" text-anchor="middle" fill="#000" >0</text>
<text x="374.1" y="2008" font-family='"Liberation Sans", sans-serif' font-size="35.5" font-weight="bold" text-anchor="middle" fill="#000" >2500</text>
<text x="576.9" y="2008" font-family='"Liberation Sans", sans-serif' font-size="35.5" font-weight="bold" text-anchor="middle" fill="#000" >5000</text>
<g transform="translate(109 1510.2) scale(1 1.04)"><text x="1.4" y="0" font-family='"Liberation Sans", sans-serif' font-size="35.3" font-weight="bold" text-anchor="end">10</text><text x="1.9" y="-15" font-family='"Liberation Sans", sans-serif' font-size="24" font-weight="bold" text-anchor="start">-2</text></g>
<g transform="translate(109 1626.4) scale(1 1.04)"><text x="1.4" y="0" font-family='"Liberation Sans", sans-serif' font-size="35.3" font-weight="bold" text-anchor="end">10</text><text x="1.9" y="-15" font-family='"Liberation Sans", sans-serif' font-size="24" font-weight="bold" text-anchor="start">-4</text></g>
<g transform="translate(109 1742.6) scale(1 1.04)"><text x="1.4" y="0" font-family='"Liberation Sans", sans-serif' font-size="35.3" font-weight="bold" text-anchor="end">10</text><text x="1.9" y="-15" font-family='"Liberation Sans", sans-serif' font-size="24" font-weight="bold" text-anchor="start">-6</text></g>
<g transform="translate(109 1858.8) scale(1 1.04)"><text x="1.4" y="0" font-family='"Liberation Sans", sans-serif' font-size="35.3" font-weight="bold" text-anchor="end">10</text><text x="1.9" y="-15" font-family='"Liberation Sans", sans-serif' font-size="24" font-weight="bold" text-anchor="start">-8</text></g>
<g transform="translate(96.5 1975) scale(1 1.04)"><text x="1.4" y="0" font-family='"Liberation Sans", sans-serif' font-size="35.3" font-weight="bold" text-anchor="end">10</text><text x="1.9" y="-15" font-family='"Liberation Sans", sans-serif' font-size="24" font-weight="bold" text-anchor="start">-10</text></g>
<text x="374.5" y="2071" font-family='"Liberation Sans", sans-serif' font-size="38.9" font-weight="bold" text-anchor="middle" fill="#000" >Time (s)</text>
<text transform="translate(34.5 1688) rotate(-90)" font-family='"Liberation Sans", sans-serif' font-size="40" font-weight="bold" text-anchor="middle">|<tspan font-style="italic">I</tspan><tspan font-size="27.2" dy="8.8">DS</tspan><tspan dy="-8.8">| (A)</tspan></text>
<line x1="172" y1="1447" x2="235" y2="1447" stroke="#04407F" stroke-width="1.7" />
<line x1="172" y1="1480.5" x2="235" y2="1480.5" stroke="#FF7F0E" stroke-width="1.5" />
<text x="243.5" y="1457.6" font-family='"Liberation Sans", sans-serif' font-size="31" font-weight="bold" text-anchor="start" fill="#04407F" >PEAI</text>
<text x="243.5" y="1491.3" font-family='"Liberation Sans", sans-serif' font-size="31" font-weight="bold" text-anchor="start" fill="#FF7F0E" >PEASCN-FAHCOO</text>
<text x="9.5" y="1437" font-family='"Liberation Serif", serif' font-size="55" font-weight="bold" text-anchor="start" fill="#000" >g</text>
<g clip-path="url(#clipH)">
<path d="M795 1539.4 L815.3 1543.4" fill="none" stroke="#053A82" stroke-width="2.6" stroke-linejoin="round" stroke-linecap="round" />
<line x1="815" y1="1552" x2="815" y2="1572" stroke="#053A82" stroke-width="1.6" />
<path d="M814.9 1861 L814.9 1861.9 L815 1863.1 L815.1 1864.5 L815.1 1866.1 L815.3 1867.7 L815.4 1869.2 L815.6 1870.8 L820.6 1895.5 L821 1897.4 L821.5 1898.7 L821.9 1898.2 L822.3 1902 L822.7 1902.7 L823.2 1906.3 L823.6 1904.8 L824 1906.4 L824.4 1906 L824.9 1907.8 L825.3 1906.9 L825.7 1906.2 L826.1 1911.7 L826.6 1912.2 L827 1911.5 L827.4 1911 L827.8 1908.6 L828.3 1908.4 L828.7 1909.2 L829.1 1908 L829.5 1913.3 L830 1911 L830.4 1914.5 L830.8 1911.5 L831.2 1915.8 L831.7 1915.3 L832.1 1909.7 L832.5 1911.5 L832.9 1916.7 L833.4 1920.9 L833.8 1917.8 L834.2 1914.1 L834.6 1912.1 L835.1 1923.3 L835.5 1917.7 L835.9 1914.4 L836.3 1913.5 L836.8 1915.5 L837.2 1920.2" fill="none" stroke="#04407F" stroke-width="3.4" stroke-linejoin="round" stroke-linecap="round" />
<path d="M839.6 1539.4 L859.9 1543.4" fill="none" stroke="#053A82" stroke-width="2.6" stroke-linejoin="round" stroke-linecap="round" />
<line x1="859.6" y1="1589" x2="859.6" y2="1609" stroke="#053A82" stroke-width="1.6" />
<path d="M859.5 1861 L859.5 1861.9 L859.6 1863.1 L859.7 1864.5 L859.7 1866.1 L859.9 1867.7 L860 1869.2 L860.2 1870.8 L865.2 1901 L865.6 1900.6 L866.1 1897.7 L866.5 1904.9 L866.9 1900.3 L867.3 1901.4 L867.8 1905.8 L868.2 1903.5 L868.6 1903.9 L869 1903.1 L869.5 1903.8 L869.9 1907.8 L870.3 1906 L870.7 1908.9 L871.2 1907.8 L871.6 1908.8 L872 1912.7 L872.4 1909.8 L872.9 1910.8 L873.3 1913.2 L873.7 1908.8 L874.1 1909 L874.6 1914.6 L875 1914.3 L875.4 1910.6 L875.8 1910.4 L876.3 1914.6 L876.7 1916.3 L877.1 1911.4 L877.5 1917 L878 1923.8 L878.4 1915.2 L878.8 1914.2 L879.2 1912.3 L879.7 1919.2 L880.1 1919 L880.5 1914.2 L880.9 1917.8 L881.4 1915 L881.8 1919.3" fill="none" stroke="#04407F" stroke-width="3.4" stroke-linejoin="round" stroke-linecap="round" />
<path d="M884.2 1539.4 L904.5 1543.4" fill="none" stroke="#053A82" stroke-width="2.6" stroke-linejoin="round" stroke-linecap="round" />
<line x1="904.2" y1="1626" x2="904.2" y2="1646" stroke="#053A82" stroke-width="1.6" />
<path d="M904.1 1861 L904.1 1861.9 L904.2 1863.1 L904.3 1864.5 L904.3 1866.1 L904.5 1867.7 L904.6 1869.2 L904.8 1870.8 L909.8 1899.7 L910.2 1900.9 L910.7 1901.1 L911.1 1898.9 L911.5 1899 L911.9 1899.7 L912.4 1906.8 L912.8 1906.1 L913.2 1908.6 L913.6 1902.7 L914.1 1907.6 L914.5 1907.1 L914.9 1909.4 L915.3 1907 L915.8 1912.2 L916.2 1906.1 L916.6 1909.8 L917 1911.6 L917.5 1913.1 L917.9 1912.3 L918.3 1912.5 L918.7 1913.5 L919.2 1914.6 L919.6 1911 L920 1913.6 L920.4 1915.4 L920.9 1915.5 L921.3 1912.6 L921.7 1915.5 L922.1 1916.4 L922.6 1921.7 L923 1915.3 L923.4 1914 L923.8 1915.7 L924.3 1923.2 L924.7 1912.8 L925.1 1917 L925.5 1919.8 L926 1919.3 L926.4 1918.6" fill="none" stroke="#04407F" stroke-width="3.4" stroke-linejoin="round" stroke-linecap="round" />
<path d="M928.8 1539.4 L949.1 1543.4" fill="none" stroke="#053A82" stroke-width="2.6" stroke-linejoin="round" stroke-linecap="round" />
<line x1="948.8" y1="1663" x2="948.8" y2="1683" stroke="#053A82" stroke-width="1.6" />
<path d="M948.7 1861 L948.7 1861.9 L948.8 1863.1 L948.9 1864.5 L948.9 1866.1 L949.1 1867.7 L949.2 1869.2 L949.4 1870.8 L954.4 1898.2 L954.8 1902.3 L955.3 1899.3 L955.7 1902.6 L956.1 1900.2 L956.5 1902.6 L957 1906 L957.4 1907.6 L957.8 1908 L958.2 1905.2 L958.7 1907.3 L959.1 1905.9 L959.5 1905.2 L959.9 1908.2 L960.4 1911 L960.8 1911.5 L961.2 1911 L961.6 1913 L962.1 1908.7 L962.5 1908.4 L962.9 1910.7 L963.3 1909.8 L963.8 1909.7 L964.2 1911.4 L964.6 1913.2 L965 1912.6 L965.5 1911.6 L965.9 1915.6 L966.3 1916.9 L966.7 1913.5 L967.2 1918.2 L967.6 1911.2 L968 1917.4 L968.4 1911.9 L968.9 1923.9 L969.3 1916.2 L969.7 1914.7 L970.1 1918.4 L970.6 1913.3 L971 1914.5" fill="none" stroke="#04407F" stroke-width="3.4" stroke-linejoin="round" stroke-linecap="round" />
<path d="M973.4 1539.4 L993.7 1543.4" fill="none" stroke="#053A82" stroke-width="2.6" stroke-linejoin="round" stroke-linecap="round" />
<line x1="993.4" y1="1700" x2="993.4" y2="1720" stroke="#053A82" stroke-width="1.6" />
<path d="M993.3 1861 L993.3 1861.9 L993.4 1863.1 L993.5 1864.5 L993.5 1866.1 L993.7 1867.7 L993.8 1869.2 L994 1870.8 L999 1898.7 L999.4 1900.4 L999.9 1902.3 L1000.3 1900.7 L1000.7 1904.3 L1001.1 1906 L1001.6 1901 L1002 1907.7 L1002.4 1906.9 L1002.8 1903.5 L1003.3 1906.3 L1003.7 1908.1 L1004.1 1910.6 L1004.5 1907.4 L1005 1909.2 L1005.4 1911.8 L1005.8 1911.6 L1006.2 1913 L1006.7 1910 L1007.1 1911.7 L1007.5 1909 L1007.9 1913 L1008.4 1914 L1008.8 1913 L1009.2 1913.9 L1009.6 1910.6 L1010.1 1915.7 L1010.5 1916.6 L1010.9 1916.9 L1011.3 1914.1 L1011.8 1923.2 L1012.2 1913.2 L1012.6 1917.7 L1013 1917.6 L1013.5 1921.4 L1013.9 1912.8 L1014.3 1915.6 L1014.7 1916.7 L1015.2 1918.6 L1015.6 1916.9" fill="none" stroke="#04407F" stroke-width="3.4" stroke-linejoin="round" stroke-linecap="round" />
<path d="M1018 1539.4 L1038.3 1543.4" fill="none" stroke="#053A82" stroke-width="2.6" stroke-linejoin="round" stroke-linecap="round" />
<line x1="1038" y1="1737" x2="1038" y2="1757" stroke="#053A82" stroke-width="1.6" />
<path d="M1037.9 1861 L1037.9 1861.9 L1038 1863.1 L1038.1 1864.5 L1038.1 1866.1 L1038.3 1867.7 L1038.4 1869.2 L1038.6 1870.8 L1043.6 1901 L1044 1900 L1044.5 1899.2 L1044.9 1900.6 L1045.3 1904.7 L1045.7 1905.9 L1046.2 1901.9 L1046.6 1907.1 L1047 1908.7 L1047.4 1906.2 L1047.9 1907.2 L1048.3 1905.1 L1048.7 1908 L1049.1 1908.3 L1049.6 1909.4 L1050 1905.8 L1050.4 1912.8 L1050.8 1910 L1051.3 1909.6 L1051.7 1912.8 L1052.1 1911.5 L1052.5 1911.3 L1053 1913.1 L1053.4 1909 L1053.8 1912.6 L1054.2 1912 L1054.7 1916.1 L1055.1 1916.2 L1055.5 1911.9 L1055.9 1913.6 L1056.4 1918.5 L1056.8 1914 L1057.2 1917 L1057.6 1917.9 L1058.1 1922.3 L1058.5 1914.5 L1058.9 1913.9 L1059.3 1917.2 L1059.8 1919.7 L1060.2 1914.4" fill="none" stroke="#04407F" stroke-width="3.4" stroke-linejoin="round" stroke-linecap="round" />
<path d="M1062.6 1539.4 L1082.9 1543.4" fill="none" stroke="#053A82" stroke-width="2.6" stroke-linejoin="round" stroke-linecap="round" />
<line x1="1082.6" y1="1774" x2="1082.6" y2="1794" stroke="#053A82" stroke-width="1.6" />
<path d="M1082.5 1861 L1082.5 1861.9 L1082.6 1863.1 L1082.7 1864.5 L1082.7 1866.1 L1082.9 1867.7 L1083 1869.2 L1083.2 1870.8 L1088.2 1898.8 L1088.6 1902 L1089.1 1901.3 L1089.5 1903.9 L1089.9 1900.4 L1090.3 1904.8 L1090.8 1906.1 L1091.2 1907.5 L1091.6 1904.1 L1092 1904.7 L1092.5 1909.6 L1092.9 1905.3 L1093.3 1911.3 L1093.7 1910.9 L1094.2 1906.1 L1094.6 1907.3 L1095 1911.1 L1095.4 1908.2 L1095.9 1907.5 L1096.3 1913 L1096.7 1910.5 L1097.1 1913.4 L1097.6 1909.1 L1098 1911.4 L1098.4 1913.6 L1098.8 1909.2 L1099.3 1910.8 L1099.7 1914.5 L1100.1 1916.4 L1100.5 1917.1 L1101 1918.5 L1101.4 1914.5 L1101.8 1916.6 L1102.2 1915.1 L1102.7 1923.7 L1103.1 1913.6 L1103.5 1913 L1103.9 1913.6 L1104.4 1913.4 L1104.8 1917.4" fill="none" stroke="#04407F" stroke-width="3.4" stroke-linejoin="round" stroke-linecap="round" />
<path d="M1107.2 1539.4 L1127.5 1543.4" fill="none" stroke="#053A82" stroke-width="2.6" stroke-linejoin="round" stroke-linecap="round" />
<line x1="1127.2" y1="1581" x2="1127.2" y2="1601" stroke="#053A82" stroke-width="1.6" />
<path d="M1127.1 1861 L1127.1 1861.9 L1127.2 1863.1 L1127.3 1864.5 L1127.3 1866.1 L1127.5 1867.7 L1127.6 1869.2 L1127.8 1870.8 L1132.8 1900.2 L1133.2 1898.9 L1133.7 1898.4 L1134.1 1899.1 L1134.5 1902.4 L1134.9 1899.7 L1135.4 1906.7 L1135.8 1906.8 L1136.2 1906.8 L1136.6 1908.6 L1137.1 1907.6 L1137.5 1906.6 L1137.9 1908.5 L1138.3 1908.3 L1138.8 1912.1 L1139.2 1911.2 L1139.6 1907.8 L1140 1912.8 L1140.5 1912 L1140.9 1912.6 L1141.3 1913.3 L1141.7 1910.7 L1142.2 1914.5 L1142.6 1914.7 L1143 1913.7 L1143.4 1914.5 L1143.9 1914.8 L1144.3 1912.5 L1144.7 1915.1 L1145.1 1910.8 L1145.6 1920 L1146 1914.2 L1146.4 1911.4 L1146.8 1914.1 L1147.3 1923.4 L1147.7 1916.6 L1148.1 1914.2 L1148.5 1919.5 L1149 1917.8 L1149.4 1915.9" fill="none" stroke="#04407F" stroke-width="3.4" stroke-linejoin="round" stroke-linecap="round" />
<path d="M1151.8 1539.4 L1172.1 1543.4" fill="none" stroke="#053A82" stroke-width="2.6" stroke-linejoin="round" stroke-linecap="round" />
<line x1="1171.8" y1="1618" x2="1171.8" y2="1638" stroke="#053A82" stroke-width="1.6" />
<path d="M1171.7 1861 L1171.7 1861.9 L1171.8 1863.1 L1171.9 1864.5 L1171.9 1866.1 L1172.1 1867.7 L1172.2 1869.2 L1172.4 1870.8 L1177.4 1899 L1177.8 1903.1 L1178.3 1901.5 L1178.7 1903.6 L1179.1 1899.3 L1179.5 1903.8 L1180 1905.7 L1180.4 1901.5 L1180.8 1908.4 L1181.2 1903.7 L1181.7 1906.5 L1182.1 1904.9 L1182.5 1907.7 L1182.9 1909 L1183.4 1905.6 L1183.8 1912.2 L1184.2 1908.9 L1184.6 1910.1 L1185.1 1911 L1185.5 1909.7 L1185.9 1909.6 L1186.3 1912.5 L1186.8 1912.2 L1187.2 1910.5 L1187.6 1913.8 L1188 1911.2 L1188.5 1909.5 L1188.9 1911.4 L1189.3 1910.3 L1189.7 1911.4 L1190.2 1922.9 L1190.6 1913.7 L1191 1917.6 L1191.4 1916.8 L1191.9 1919.3 L1192.3 1919.2 L1192.7 1919.2 L1193.1 1913.4 L1193.6 1919.5 L1194 1916.5" fill="none" stroke="#04407F" stroke-width="3.4" stroke-linejoin="round" stroke-linecap="round" />
<path d="M1196.4 1539.4 L1216.7 1543.4" fill="none" stroke="#053A82" stroke-width="2.6" stroke-linejoin="round" stroke-linecap="round" />
<line x1="1216.4" y1="1655" x2="1216.4" y2="1675" stroke="#053A82" stroke-width="1.6" />
<path d="M1216.3 1861 L1216.3 1861.9 L1216.4 1863.1 L1216.5 1864.5 L1216.5 1866.1 L1216.7 1867.7 L1216.8 1869.2 L1217 1870.8 L1222 1900.5 L1222.4 1899.8 L1222.9 1904 L1223.3 1904.6 L1223.7 1903.9 L1224.1 1901.3 L1224.6 1901.2 L1225 1907.4 L1225.4 1907.4 L1225.8 1906.9 L1226.3 1905.7 L1226.7 1905.6 L1227.1 1909.1 L1227.5 1908.7 L1228 1909.3 L1228.4 1910 L1228.8 1911.3 L1229.2 1907.7 L1229.7 1908.5 L1230.1 1914 L1230.5 1914 L1230.9 1914.1 L1231.4 1908.5 L1231.8 1909 L1232.2 1910.7 L1232.6 1912.1 L1233.1 1913.8 L1233.5 1910.4 L1233.9 1913.8 L1234.3 1910.8 L1234.8 1918.3 L1235.2 1915.7 L1235.6 1915.1 L1236 1916 L1236.5 1921.5 L1236.9 1915.6 L1237.3 1914 L1237.7 1915.3 L1238.2 1918.4 L1238.6 1919.4" fill="none" stroke="#04407F" stroke-width="3.4" stroke-linejoin="round" stroke-linecap="round" />
<path d="M794.2 1905 L794.2 1502.2 L815.8 1502.2 L815.8 1860 L815.8 1860.9 L815.9 1862 L816 1863.4 L816 1864.9 L816.2 1866.5 L816.3 1868 L816.5 1869.4 L816.6 1870.9 L816.8 1872.4 L817.1 1874 L817.4 1875.6 L817.7 1877.4 L818.1 1879.4 L818.6 1881.5 L819.1 1883.8 L819.7 1886.1 L820.3 1888.2 L820.9 1890.2 L821.6 1892 L822.3 1892.8 L823.1 1894.5 L823.9 1897.7 L824.6 1898.7 L825.4 1900.3 L826.1 1900.1 L826.9 1901.6 L827.6 1902 L828.4 1904 L829.1 1903.6 L829.8 1905 L830.5 1906.4 L831.1 1905.3 L831.7 1906.3 L832.4 1907.2 L833 1908 L833.7 1907.3 L834.5 1907.8 L835.4 1907.8 L836.3 1910.3 L837.2 1909.1 L837.9 1909.6 L838.4 1911.2 L838.8 1502.2 L860.4 1502.2 L860.4 1860 L860.4 1860.9 L860.5 1862 L860.6 1863.4 L860.6 1864.9 L860.8 1866.5 L860.9 1868 L861.1 1869.4 L861.2 1870.9 L861.4 1872.4 L861.7 1874 L862 1875.6 L862.3 1877.4 L862.7 1879.4 L863.2 1881.5 L863.7 1883.8 L864.3 1886.1 L864.9 1888.2 L865.5 1890.2 L866.2 1892 L866.9 1893.7 L867.7 1895.9 L868.5 1896.5 L869.2 1899.1 L870 1898.7 L870.7 1900.1 L871.5 1902.1 L872.2 1901.6 L873 1902.8 L873.7 1904.5 L874.4 1905.1 L875.1 1904.7 L875.7 1904.8 L876.3 1905.8 L877 1907.1 L877.6 1906.7 L878.3 1906.6 L879.1 1908.6 L880 1908.9 L880.9 1910.4 L881.8 1911.1 L882.5 1911.6 L883 1910.9 L883.4 1502.2 L905 1502.2 L905 1860 L905 1860.9 L905.1 1862 L905.2 1863.4 L905.2 1864.9 L905.4 1866.5 L905.5 1868 L905.7 1869.4 L905.8 1870.9 L906 1872.4 L906.3 1874 L906.6 1875.6 L906.9 1877.4 L907.3 1879.4 L907.8 1881.5 L908.3 1883.8 L908.9 1886.1 L909.5 1888.2 L910.1 1890.2 L910.8 1892 L911.5 1894.5 L912.3 1895 L913.1 1896.6 L913.8 1898.2 L914.6 1900.7 L915.3 1901.8 L916.1 1901.1 L916.8 1902.2 L917.6 1903 L918.3 1903.6 L919 1904.3 L919.7 1904.9 L920.3 1905 L920.9 1906.3 L921.6 1907.3 L922.2 1907.1 L922.9 1908.3 L923.7 1908.2 L924.6 1908 L925.5 1910.1 L926.4 1911 L927.1 1910.1 L927.6 1909.9 L928 1502.2 L949.6 1502.2 L949.6 1860 L949.6 1860.9 L949.7 1862 L949.8 1863.4 L949.8 1864.9 L950 1866.5 L950.1 1868 L950.3 1869.4 L950.4 1870.9 L950.6 1872.4 L950.9 1874 L951.2 1875.6 L951.5 1877.4 L951.9 1879.4 L952.4 1881.5 L952.9 1883.8 L953.5 1886.1 L954.1 1888.2 L954.7 1890.2 L955.4 1892 L956.1 1893.8 L956.9 1895.5 L957.7 1897.2 L958.4 1899.5 L959.2 1900.1 L959.9 1901.5 L960.7 1900.7 L961.4 1902.7 L962.2 1904 L962.9 1903 L963.6 1903.6 L964.3 1905.8 L964.9 1906.7 L965.5 1905.1 L966.2 1906.9 L966.8 1906.2 L967.5 1908.1 L968.3 1908.4 L969.2 1908.1 L970.1 1908.8 L971 1910.7 L971.7 1910.7 L972.2 1911.6 L972.6 1502.2 L994.2 1502.2 L994.2 1860 L994.2 1860.9 L994.3 1862 L994.4 1863.4 L994.4 1864.9 L994.6 1866.5 L994.7 1868 L994.9 1869.4 L995 1870.9 L995.2 1872.4 L995.5 1874 L995.8 1875.6 L996.1 1877.4 L996.5 1879.4 L997 1881.5 L997.5 1883.8 L998.1 1886.1 L998.7 1888.2 L999.3 1890.2 L1000 1892 L1000.7 1893.5 L1001.5 1895.1 L1002.3 1898.1 L1003 1898.8 L1003.8 1899.7 L1004.5 1900.9 L1005.3 1902.3 L1006 1903.1 L1006.8 1904.3 L1007.5 1903.7 L1008.2 1905.4 L1008.9 1905.6 L1009.5 1906.5 L1010.1 1906.9 L1010.8 1907.4 L1011.4 1907.9 L1012.1 1908.6 L1012.9 1908.4 L1013.8 1908.8 L1014.7 1909.9 L1015.6 1910.8 L1016.3 1910.4 L1016.8 1910.8 L1017.2 1502.2 L1038.8 1502.2 L1038.8 1860 L1038.8 1860.9 L1038.9 1862 L1039 1863.4 L1039 1864.9 L1039.2 1866.5 L1039.3 1868 L1039.5 1869.4 L1039.6 1870.9 L1039.8 1872.4 L1040.1 1874 L1040.4 1875.6 L1040.7 1877.4 L1041.1 1879.4 L1041.6 1881.5 L1042.1 1883.8 L1042.7 1886.1 L1043.3 1888.2 L1043.9 1890.2 L1044.6 1892 L1045.3 1892.9 L1046.1 1896 L1046.9 1898.2 L1047.6 1898.1 L1048.4 1898.9 L1049.1 1900.1 L1049.9 1901.6 L1050.6 1902.1 L1051.4 1904.4 L1052.1 1902.9 L1052.8 1904.1 L1053.5 1904.3 L1054.1 1906 L1054.7 1906.8 L1055.4 1905.8 L1056 1906 L1056.7 1907.4 L1057.5 1908.3 L1058.4 1909.7 L1059.3 1908.3 L1060.2 1909.1 L1060.9 1909.9 L1061.4 1910.3 L1061.8 1502.2 L1083.4 1502.2 L1083.4 1860 L1083.4 1860.9 L1083.5 1862 L1083.6 1863.4 L1083.6 1864.9 L1083.8 1866.5 L1083.9 1868 L1084.1 1869.4 L1084.2 1870.9 L1084.4 1872.4 L1084.7 1874 L1085 1875.6 L1085.3 1877.4 L1085.7 1879.4 L1086.2 1881.5 L1086.7 1883.8 L1087.3 1886.1 L1087.9 1888.2 L1088.5 1890.2 L1089.2 1892 L1089.9 1893.1 L1090.7 1896 L1091.5 1897.2 L1092.2 1897.8 L1093 1898.9 L1093.7 1900.3 L1094.5 1901 L1095.2 1903.2 L1096 1902.8 L1096.7 1904.1 L1097.4 1905.4 L1098.1 1905.1 L1098.7 1905.1 L1099.3 1907.1 L1100 1907.6 L1100.6 1906.6 L1101.3 1907.6 L1102.1 1909.2 L1103 1908.7 L1103.9 1908.8 L1104.8 1909 L1105.5 1911.7 L1106 1911.7 L1106.4 1502.2 L1128 1502.2 L1128 1860 L1128 1860.9 L1128.1 1862 L1128.2 1863.4 L1128.2 1864.9 L1128.4 1866.5 L1128.5 1868 L1128.7 1869.4 L1128.8 1870.9 L1129 1872.4 L1129.3 1874 L1129.6 1875.6 L1129.9 1877.4 L1130.3 1879.4 L1130.8 1881.5 L1131.3 1883.8 L1131.9 1886.1 L1132.5 1888.2 L1133.1 1890.2 L1133.8 1892 L1134.5 1893.5 L1135.3 1895.5 L1136.1 1897 L1136.8 1897.9 L1137.6 1900.9 L1138.3 1901.2 L1139.1 1901.1 L1139.8 1901.4 L1140.6 1903.2 L1141.3 1903.6 L1142 1905.3 L1142.7 1905.7 L1143.3 1905.9 L1143.9 1905.3 L1144.6 1905.7 L1145.2 1906.6 L1145.9 1906.9 L1146.7 1909 L1147.6 1908.8 L1148.5 1909.8 L1149.4 1911.3 L1150.1 1910.1 L1150.6 1911.1 L1151 1502.2 L1172.6 1502.2 L1172.6 1860 L1172.6 1860.9 L1172.7 1862 L1172.8 1863.4 L1172.8 1864.9 L1173 1866.5 L1173.1 1868 L1173.3 1869.4 L1173.4 1870.9 L1173.6 1872.4 L1173.9 1874 L1174.2 1875.6 L1174.5 1877.4 L1174.9 1879.4 L1175.4 1881.5 L1175.9 1883.8 L1176.5 1886.1 L1177.1 1888.2 L1177.7 1890.2 L1178.4 1892 L1179.1 1892.9 L1179.9 1896.1 L1180.7 1895.8 L1181.4 1899.2 L1182.2 1900.5 L1182.9 1901.6 L1183.7 1900.7 L1184.4 1902 L1185.2 1903.8 L1185.9 1903 L1186.6 1904.6 L1187.3 1905.1 L1187.9 1906.8 L1188.5 1906.3 L1189.2 1907.4 L1189.8 1906.5 L1190.5 1908.2 L1191.3 1907.9 L1192.2 1909.8 L1193.1 1908.4 L1194 1910.9 L1194.7 1909.9 L1195.2 1911.1 L1195.6 1502.2 L1217.2 1502.2 L1217.2 1860 L1217.2 1860.9 L1217.3 1862 L1217.4 1863.4 L1217.4 1864.9 L1217.6 1866.5 L1217.7 1868 L1217.9 1869.4 L1218 1870.9 L1218.2 1872.4 L1218.5 1874 L1218.8 1875.6 L1219.1 1877.4 L1219.5 1879.4 L1220 1881.5 L1220.5 1883.8 L1221.1 1886.1 L1221.7 1888.2 L1222.3 1890.2 L1223 1892 L1223.7 1893.8 L1224.5 1894.6 L1225.3 1897.8 L1226 1898 L1226.8 1899.2 L1227.5 1899.8 L1228.3 1901.3 L1229 1902.5 L1229.8 1903.8 L1230.5 1903.6 L1231.2 1905 L1231.9 1904.2 L1232.5 1905.4 L1233.1 1906 L1233.8 1907.7 L1234.4 1907.8 L1235.1 1907.9 L1235.9 1906.9 L1236.8 1908.5 L1237.7 1909.9 L1238.6 1909.4 L1239.3 1910.8 L1239.8 1910.9 L1240.2 1502.2 L1261.8 1502.2 L1261.8 1860 L1261.8 1860.9 L1261.9 1862 L1262 1863.4 L1262 1864.9 L1262.2 1866.5 L1262.3 1868 L1262.5 1869.4 L1262.6 1870.9 L1262.8 1872.4 L1263.1 1874 L1263.4 1875.6 L1263.7 1877.4 L1264.1 1879.4 L1264.6 1881.5 L1265.1 1883.8 L1265.7 1886.1 L1266.3 1888.2 L1266.9 1890.2 L1267.6 1892 L1268.3 1892.6 L1269.1 1896.6 L1269.9 1897.7 L1270.6 1897.7 L1271.4 1900 L1272.1 1900.3 L1272.9 1901.5 L1273.6 1902.7 L1274.4 1902.8 L1275.1 1903.6 L1275.8 1904.3 L1276.5 1905.6 L1277.1 1905.1 L1277.7 1905.4 L1278.4 1907.1 L1279 1906.6 L1279.7 1908.6 L1280.5 1908.2 L1281.4 1909.3 L1282.3 1909 L1283.2 1910.9 L1283.9 1909.6 L1284.4 1910.1" fill="none" stroke="#FF7F0E" stroke-width="3.2" stroke-linejoin="round" stroke-linecap="round" />
</g>
<rect x="792.2" y="1416.3" width="447.4" height="546.9" fill="none" stroke="#000" stroke-width="5.5" />
<line x1="792" y1="1413.5" x2="792" y2="1966" stroke="#000" stroke-width="6" />
<line x1="791.2" y1="1440.8" x2="781" y2="1440.8" stroke="#000" stroke-width="5.3" />
<line x1="791.2" y1="1498.7" x2="781" y2="1498.7" stroke="#000" stroke-width="5.3" />
<line x1="791.2" y1="1556.6" x2="781" y2="1556.6" stroke="#000" stroke-width="5.3" />
<line x1="791.2" y1="1614.5" x2="781" y2="1614.5" stroke="#000" stroke-width="5.3" />
<line x1="791.2" y1="1672.4" x2="781" y2="1672.4" stroke="#000" stroke-width="5.3" />
<line x1="791.2" y1="1730.3" x2="781" y2="1730.3" stroke="#000" stroke-width="5.3" />
<line x1="791.2" y1="1788.2" x2="781" y2="1788.2" stroke="#000" stroke-width="5.3" />
<line x1="791.2" y1="1846.1" x2="781" y2="1846.1" stroke="#000" stroke-width="5.3" />
<line x1="791.2" y1="1904" x2="781" y2="1904" stroke="#000" stroke-width="5.3" />
<line x1="781.7" y1="1963.2" x2="792.2" y2="1963.2" stroke="#000" stroke-width="5.5" />
<line x1="791.2" y1="1423.4" x2="786" y2="1423.4" stroke="#000" stroke-width="3" />
<line x1="791.2" y1="1481.3" x2="786" y2="1481.3" stroke="#000" stroke-width="3" />
<line x1="791.2" y1="1473.2" x2="786" y2="1473.2" stroke="#000" stroke-width="3" />
<line x1="791.2" y1="1468.6" x2="786" y2="1468.6" stroke="#000" stroke-width="3" />
<line x1="791.2" y1="1462.8" x2="786" y2="1462.8" stroke="#000" stroke-width="3" />
<line x1="791.2" y1="1539.2" x2="786" y2="1539.2" stroke="#000" stroke-width="3" />
<line x1="791.2" y1="1531.1" x2="786" y2="1531.1" stroke="#000" stroke-width="3" />
<line x1="791.2" y1="1526.5" x2="786" y2="1526.5" stroke="#000" stroke-width="3" />
<line x1="791.2" y1="1520.7" x2="786" y2="1520.7" stroke="#000" stroke-width="3" />
<line x1="791.2" y1="1597.1" x2="786" y2="1597.1" stroke="#000" stroke-width="3" />
<line x1="791.2" y1="1589" x2="786" y2="1589" stroke="#000" stroke-width="3" />
<line x1="791.2" y1="1584.4" x2="786" y2="1584.4" stroke="#000" stroke-width="3" />
<line x1="791.2" y1="1578.6" x2="786" y2="1578.6" stroke="#000" stroke-width="3" />
<line x1="791.2" y1="1655" x2="786" y2="1655" stroke="#000" stroke-width="3" />
<line x1="791.2" y1="1646.9" x2="786" y2="1646.9" stroke="#000" stroke-width="3" />
<line x1="791.2" y1="1642.3" x2="786" y2="1642.3" stroke="#000" stroke-width="3" />
<line x1="791.2" y1="1636.5" x2="786" y2="1636.5" stroke="#000" stroke-width="3" />
<line x1="791.2" y1="1712.9" x2="786" y2="1712.9" stroke="#000" stroke-width="3" />
<line x1="791.2" y1="1704.8" x2="786" y2="1704.8" stroke="#000" stroke-width="3" />
<line x1="791.2" y1="1700.2" x2="786" y2="1700.2" stroke="#000" stroke-width="3" />
<line x1="791.2" y1="1694.4" x2="786" y2="1694.4" stroke="#000" stroke-width="3" />
<line x1="791.2" y1="1770.8" x2="786" y2="1770.8" stroke="#000" stroke-width="3" />
<line x1="791.2" y1="1762.7" x2="786" y2="1762.7" stroke="#000" stroke-width="3" />
<line x1="791.2" y1="1758.1" x2="786" y2="1758.1" stroke="#000" stroke-width="3" />
<line x1="791.2" y1="1752.3" x2="786" y2="1752.3" stroke="#000" stroke-width="3" />
<line x1="791.2" y1="1828.7" x2="786" y2="1828.7" stroke="#000" stroke-width="3" />
<line x1="791.2" y1="1820.6" x2="786" y2="1820.6" stroke="#000" stroke-width="3" />
<line x1="791.2" y1="1816" x2="786" y2="1816" stroke="#000" stroke-width="3" />
<line x1="791.2" y1="1810.2" x2="786" y2="1810.2" stroke="#000" stroke-width="3" />
<line x1="791.2" y1="1886.6" x2="786" y2="1886.6" stroke="#000" stroke-width="3" />
<line x1="791.2" y1="1878.5" x2="786" y2="1878.5" stroke="#000" stroke-width="3" />
<line x1="791.2" y1="1873.9" x2="786" y2="1873.9" stroke="#000" stroke-width="3" />
<line x1="791.2" y1="1868.1" x2="786" y2="1868.1" stroke="#000" stroke-width="3" />
<line x1="791.2" y1="1944.5" x2="786" y2="1944.5" stroke="#000" stroke-width="3" />
<line x1="791.2" y1="1936.4" x2="786" y2="1936.4" stroke="#000" stroke-width="3" />
<line x1="791.2" y1="1931.8" x2="786" y2="1931.8" stroke="#000" stroke-width="3" />
<line x1="791.2" y1="1926" x2="786" y2="1926" stroke="#000" stroke-width="3" />
<line x1="882.5" y1="1963.2" x2="882.5" y2="1973" stroke="#000" stroke-width="5.5" />
<line x1="1060.8" y1="1963.2" x2="1060.8" y2="1973" stroke="#000" stroke-width="5.5" />
<line x1="1239.1" y1="1963.2" x2="1239.1" y2="1973" stroke="#000" stroke-width="5.5" />
<line x1="793.3" y1="1963.2" x2="793.3" y2="1969" stroke="#000" stroke-width="4" />
<line x1="971.6" y1="1963.2" x2="971.6" y2="1969" stroke="#000" stroke-width="4" />
<line x1="1149.9" y1="1963.2" x2="1149.9" y2="1969" stroke="#000" stroke-width="4" />
<text x="882.5" y="2008.5" font-family='"Liberation Sans", sans-serif' font-size="36" font-weight="bold" text-anchor="middle" fill="#000" >4992</text>
<text x="1060.8" y="2008.5" font-family='"Liberation Sans", sans-serif' font-size="36" font-weight="bold" text-anchor="middle" fill="#000" >4996</text>
<text x="1239.1" y="2008.5" font-family='"Liberation Sans", sans-serif' font-size="36" font-weight="bold" text-anchor="middle" fill="#000" >5000</text>
<g transform="translate(751.5 1511.7) scale(1 1.04)"><text x="1.4" y="0" font-family='"Liberation Sans", sans-serif' font-size="35.3" font-weight="bold" text-anchor="end">10</text><text x="2.3" y="-15" font-family='"Liberation Sans", sans-serif' font-size="24" font-weight="bold" text-anchor="start">-2</text></g>
<g transform="translate(751.5 1627.5) scale(1 1.04)"><text x="1.4" y="0" font-family='"Liberation Sans", sans-serif' font-size="35.3" font-weight="bold" text-anchor="end">10</text><text x="2.3" y="-15" font-family='"Liberation Sans", sans-serif' font-size="24" font-weight="bold" text-anchor="start">-4</text></g>
<g transform="translate(751.5 1743.3) scale(1 1.04)"><text x="1.4" y="0" font-family='"Liberation Sans", sans-serif' font-size="35.3" font-weight="bold" text-anchor="end">10</text><text x="2.3" y="-15" font-family='"Liberation Sans", sans-serif' font-size="24" font-weight="bold" text-anchor="start">-6</text></g>
<g transform="translate(751.5 1859.1) scale(1 1.04)"><text x="1.4" y="0" font-family='"Liberation Sans", sans-serif' font-size="35.3" font-weight="bold" text-anchor="end">10</text><text x="2.3" y="-15" font-family='"Liberation Sans", sans-serif' font-size="24" font-weight="bold" text-anchor="start">-8</text></g>
<g transform="translate(739 1974.9) scale(1 1.04)"><text x="1.4" y="0" font-family='"Liberation Sans", sans-serif' font-size="35.3" font-weight="bold" text-anchor="end">10</text><text x="2.3" y="-15" font-family='"Liberation Sans", sans-serif' font-size="24" font-weight="bold" text-anchor="start">-10</text></g>
<text x="1017" y="2071.3" font-family='"Liberation Sans", sans-serif' font-size="38.8" font-weight="bold" text-anchor="middle" fill="#000" >Time (s)</text>
<text transform="translate(699 1698) rotate(-90)" font-family='"Liberation Sans", sans-serif' font-size="39.5" font-weight="bold" text-anchor="middle">|<tspan font-style="italic">I</tspan><tspan font-size="26.9" dy="8.7">DS</tspan><tspan dy="-8.7">| (A)</tspan></text>
<line x1="850.5" y1="1440.3" x2="920" y2="1440.3" stroke="#04407F" stroke-width="3" stroke-linecap="round"/>
<line x1="850.5" y1="1479.2" x2="920" y2="1479.2" stroke="#FF7F0E" stroke-width="3" stroke-linecap="round"/>
<text x="929" y="1450.8" font-family='"Liberation Sans", sans-serif' font-size="31" font-weight="bold" text-anchor="start" fill="#04407F" >PEAI</text>
<text x="929" y="1489.7" font-family='"Liberation Sans", sans-serif' font-size="31" font-weight="bold" text-anchor="start" fill="#FF7F0E" >PEASCN-FAHCOO</text>
<text x="675" y="1432" font-family='"Liberation Serif", serif' font-size="55" font-weight="bold" text-anchor="start" fill="#000" >h</text>
<g clip-path="url(#clipI)">
<path d="M1427.4 1689.7 L1427.5 1690.8 L1427.6 1692.3 L1427.7 1694.1 L1427.8 1696.1 L1428 1698.1 L1428.3 1700.1 L1428.7 1702 L1429.1 1703.7 L1429.6 1705.2 L1430.2 1706.6 L1430.9 1708 L1431.6 1709.3 L1432.4 1710.5 L1433.3 1711.7 L1434.4 1712.8 L1435.5 1713.9 L1436.7 1714.9 L1438 1715.8 L1439.3 1716.6 L1440.7 1717.4 L1442.3 1718.1 L1444.1 1718.8 L1446 1719.5 L1448.3 1720.3 L1450.8 1721.1 L1453.5 1721.8 L1456.4 1722.6 L1459.5 1723.3 L1462.7 1724.1 L1466.2 1724.8 L1469.9 1725.5 L1473.8 1726.2 L1477.9 1726.9 L1482.2 1727.5 L1486.7 1728.2 L1491.4 1728.9 L1496.2 1729.5 L1501.3 1730.1 L1506.6 1730.7 L1512.1 1731.3 L1517.9 1731.9 L1524 1732.5 L1530.3 1733 L1536.8 1733.6 L1543.4 1734.1 L1550.1 1734.6 L1556.6 1735.1 L1563.1 1735.6 L1569.5 1736.1 L1575.8 1736.5 L1582.2 1736.9 L1588.6 1737.3 L1595 1737.7 L1601.3 1738 L1607.7 1738.4 L1614.1 1738.7 L1620.5 1739 L1626.9 1739.3 L1633.3 1739.6 L1639.6 1739.8 L1646 1740 L1652.4 1740.3 L1658.8 1740.5 L1665.2 1740.7 L1671.4 1740.9 L1677.4 1741.1 L1683.2 1741.3 L1689.1 1741.5 L1695.2 1741.7 L1701.7 1741.8 L1708.6 1742 L1716.2 1742.2 L1724.5 1742.4 L1733.4 1742.6 L1742.8 1742.8 L1752.6 1743 L1762.6 1743.3 L1772.7 1743.5 L1782.8 1743.6 L1792.8 1743.8 L1803.3 1743.9 L1814.7 1744.1 L1826.5 1744.2 L1838.2 1744.2 L1849.3 1744.3 L1859.3 1744.4 L1867.7 1744.5 L1874 1744.5" fill="none" stroke="#04407F" stroke-width="7.4" stroke-linejoin="round" stroke-linecap="round" />
<path d="M1427.4 1560.8 L1429.9 1561 L1433 1561.2 L1436.8 1561.5 L1441 1561.8 L1445.6 1562.1 L1450.6 1562.4 L1455.7 1562.7 L1461 1562.9 L1466.4 1563.1 L1471.9 1563.3 L1477.7 1563.5 L1483.8 1563.6 L1490.2 1563.8 L1497 1563.9 L1504.3 1564 L1512 1564.1 L1520.2 1564.2 L1528.8 1564.3 L1537.7 1564.3 L1547.1 1564.4 L1556.9 1564.4 L1567.1 1564.4 L1577.6 1564.4 L1588.6 1564.4 L1600.3 1564.4 L1612.9 1564.3 L1626.1 1564.3 L1639.7 1564.2 L1653.2 1564.1 L1666.4 1564.1 L1679 1564 L1690.7 1563.9 L1701.3 1563.8 L1710.9 1563.7 L1719.9 1563.6 L1728.7 1563.5 L1737.4 1563.4 L1746.5 1563.3 L1756.4 1563.2 L1767.2 1563.1 L1779.8 1563 L1794.3 1563 L1809.7 1563 L1825.4 1562.9 L1840.4 1562.9 L1854.1 1562.9 L1865.6 1562.9 L1874 1562.9" fill="none" stroke="#FF7F0E" stroke-width="7.1" stroke-linejoin="round" stroke-linecap="round" />
</g>
<rect x="1427.1" y="1419.5" width="446.4" height="546.5" fill="none" stroke="#000" stroke-width="5.5" />
<line x1="1427.1" y1="1556.1" x2="1416" y2="1556.1" stroke="#000" stroke-width="5.3" />
<line x1="1427.1" y1="1692.8" x2="1416" y2="1692.8" stroke="#000" stroke-width="5.3" />
<line x1="1427.1" y1="1829.4" x2="1416" y2="1829.4" stroke="#000" stroke-width="5.3" />
<line x1="1416.1" y1="1966" x2="1427.1" y2="1966" stroke="#000" stroke-width="5.5" />
<line x1="1416.1" y1="1419.5" x2="1427.1" y2="1419.5" stroke="#000" stroke-width="5.5" />
<line x1="1427.1" y1="1515" x2="1422" y2="1515" stroke="#000" stroke-width="3.2" />
<line x1="1427.1" y1="1490.9" x2="1422" y2="1490.9" stroke="#000" stroke-width="3.2" />
<line x1="1427.1" y1="1473.9" x2="1422" y2="1473.9" stroke="#000" stroke-width="3.2" />
<line x1="1427.1" y1="1460.6" x2="1422" y2="1460.6" stroke="#000" stroke-width="3.2" />
<line x1="1427.1" y1="1449.8" x2="1422" y2="1449.8" stroke="#000" stroke-width="3.2" />
<line x1="1427.1" y1="1440.7" x2="1422" y2="1440.7" stroke="#000" stroke-width="3.2" />
<line x1="1427.1" y1="1432.7" x2="1422" y2="1432.7" stroke="#000" stroke-width="3.2" />
<line x1="1427.1" y1="1425.8" x2="1422" y2="1425.8" stroke="#000" stroke-width="3.2" />
<line x1="1427.1" y1="1651.6" x2="1422" y2="1651.6" stroke="#000" stroke-width="3.2" />
<line x1="1427.1" y1="1627.6" x2="1422" y2="1627.6" stroke="#000" stroke-width="3.2" />
<line x1="1427.1" y1="1610.5" x2="1422" y2="1610.5" stroke="#000" stroke-width="3.2" />
<line x1="1427.1" y1="1597.3" x2="1422" y2="1597.3" stroke="#000" stroke-width="3.2" />
<line x1="1427.1" y1="1586.4" x2="1422" y2="1586.4" stroke="#000" stroke-width="3.2" />
<line x1="1427.1" y1="1577.3" x2="1422" y2="1577.3" stroke="#000" stroke-width="3.2" />
<line x1="1427.1" y1="1569.4" x2="1422" y2="1569.4" stroke="#000" stroke-width="3.2" />
<line x1="1427.1" y1="1562.4" x2="1422" y2="1562.4" stroke="#000" stroke-width="3.2" />
<line x1="1427.1" y1="1788.2" x2="1422" y2="1788.2" stroke="#000" stroke-width="3.2" />
<line x1="1427.1" y1="1764.2" x2="1422" y2="1764.2" stroke="#000" stroke-width="3.2" />
<line x1="1427.1" y1="1747.1" x2="1422" y2="1747.1" stroke="#000" stroke-width="3.2" />
<line x1="1427.1" y1="1733.9" x2="1422" y2="1733.9" stroke="#000" stroke-width="3.2" />
<line x1="1427.1" y1="1723.1" x2="1422" y2="1723.1" stroke="#000" stroke-width="3.2" />
<line x1="1427.1" y1="1713.9" x2="1422" y2="1713.9" stroke="#000" stroke-width="3.2" />
<line x1="1427.1" y1="1706" x2="1422" y2="1706" stroke="#000" stroke-width="3.2" />
<line x1="1427.1" y1="1699" x2="1422" y2="1699" stroke="#000" stroke-width="3.2" />
<line x1="1427.1" y1="1924.9" x2="1422" y2="1924.9" stroke="#000" stroke-width="3.2" />
<line x1="1427.1" y1="1900.8" x2="1422" y2="1900.8" stroke="#000" stroke-width="3.2" />
<line x1="1427.1" y1="1883.7" x2="1422" y2="1883.7" stroke="#000" stroke-width="3.2" />
<line x1="1427.1" y1="1870.5" x2="1422" y2="1870.5" stroke="#000" stroke-width="3.2" />
<line x1="1427.1" y1="1859.7" x2="1422" y2="1859.7" stroke="#000" stroke-width="3.2" />
<line x1="1427.1" y1="1850.5" x2="1422" y2="1850.5" stroke="#000" stroke-width="3.2" />
<line x1="1427.1" y1="1842.6" x2="1422" y2="1842.6" stroke="#000" stroke-width="3.2" />
<line x1="1427.1" y1="1835.6" x2="1422" y2="1835.6" stroke="#000" stroke-width="3.2" />
<line x1="1426.5" y1="1966" x2="1426.5" y2="1977" stroke="#000" stroke-width="5.5" />
<line x1="1538.2" y1="1966" x2="1538.2" y2="1977" stroke="#000" stroke-width="5.5" />
<line x1="1649.8" y1="1966" x2="1649.8" y2="1977" stroke="#000" stroke-width="5.5" />
<line x1="1761.5" y1="1966" x2="1761.5" y2="1977" stroke="#000" stroke-width="5.5" />
<line x1="1873.1" y1="1966" x2="1873.1" y2="1977" stroke="#000" stroke-width="5.5" />
<line x1="1482.3" y1="1966" x2="1482.3" y2="1971.8" stroke="#000" stroke-width="4" />
<line x1="1594" y1="1966" x2="1594" y2="1971.8" stroke="#000" stroke-width="4" />
<line x1="1705.6" y1="1966" x2="1705.6" y2="1971.8" stroke="#000" stroke-width="4" />
<line x1="1817.3" y1="1966" x2="1817.3" y2="1971.8" stroke="#000" stroke-width="4" />
<text x="1426.5" y="2011.6" font-family='"Liberation Sans", sans-serif' font-size="35" font-weight="bold" text-anchor="middle" fill="#000" >0</text>
<text x="1538.2" y="2011.6" font-family='"Liberation Sans", sans-serif' font-size="35" font-weight="bold" text-anchor="middle" fill="#000" >500</text>
<text x="1649.8" y="2011.6" font-family='"Liberation Sans", sans-serif' font-size="35" font-weight="bold" text-anchor="middle" fill="#000" >1000</text>
<text x="1761.5" y="2011.6" font-family='"Liberation Sans", sans-serif' font-size="35" font-weight="bold" text-anchor="middle" fill="#000" >1500</text>
<text x="1873.1" y="2011.6" font-family='"Liberation Sans", sans-serif' font-size="35" font-weight="bold" text-anchor="middle" fill="#000" >2000</text>
<g transform="translate(1385.2 1432.5) scale(1 1.04)"><text x="1.4" y="0" font-family='"Liberation Sans", sans-serif' font-size="35.3" font-weight="bold" text-anchor="end">10</text><text x="1.9" y="-15" font-family='"Liberation Sans", sans-serif' font-size="24" font-weight="bold" text-anchor="start">-1</text></g>
<g transform="translate(1385.2 1569.1) scale(1 1.04)"><text x="1.4" y="0" font-family='"Liberation Sans", sans-serif' font-size="35.3" font-weight="bold" text-anchor="end">10</text><text x="1.9" y="-15" font-family='"Liberation Sans", sans-serif' font-size="24" font-weight="bold" text-anchor="start">-2</text></g>
<g transform="translate(1385.2 1705.8) scale(1 1.04)"><text x="1.4" y="0" font-family='"Liberation Sans", sans-serif' font-size="35.3" font-weight="bold" text-anchor="end">10</text><text x="1.9" y="-15" font-family='"Liberation Sans", sans-serif' font-size="24" font-weight="bold" text-anchor="start">-3</text></g>
<g transform="translate(1385.2 1842.4) scale(1 1.04)"><text x="1.4" y="0" font-family='"Liberation Sans", sans-serif' font-size="35.3" font-weight="bold" text-anchor="end">10</text><text x="1.9" y="-15" font-family='"Liberation Sans", sans-serif' font-size="24" font-weight="bold" text-anchor="start">-4</text></g>
<g transform="translate(1385.2 1979) scale(1 1.04)"><text x="1.4" y="0" font-family='"Liberation Sans", sans-serif' font-size="35.3" font-weight="bold" text-anchor="end">10</text><text x="1.9" y="-15" font-family='"Liberation Sans", sans-serif' font-size="24" font-weight="bold" text-anchor="start">-5</text></g>
<text x="1650.5" y="2073.8" font-family='"Liberation Sans", sans-serif' font-size="38.9" font-weight="bold" text-anchor="middle" fill="#000" >Time (s)</text>
<text transform="translate(1331.5 1678) rotate(-90)" font-family='"Liberation Sans", sans-serif' font-size="40.5" font-weight="bold" text-anchor="middle"><tspan font-style="italic">I</tspan><tspan font-size="27.5" dy="8.9">DS</tspan><tspan dy="-8.9">(A)</tspan></text>
<line x1="1515" y1="1463.2" x2="1583" y2="1463.2" stroke="#04407F" stroke-width="7.2" stroke-linecap="round"/>
<line x1="1515" y1="1502.2" x2="1583" y2="1502.2" stroke="#FF7F0E" stroke-width="7.2" stroke-linecap="round"/>
<text x="1592" y="1473.3" font-family='"Liberation Sans", sans-serif' font-size="31" font-weight="bold" text-anchor="start" fill="#000" >PEAI</text>
<text x="1592" y="1512.4" font-family='"Liberation Sans", sans-serif' font-size="31" font-weight="bold" text-anchor="start" fill="#000" >PEASCN-FAHCOO</text>
<text x="1309" y="1438" font-family='"Liberation Serif", serif' font-size="55" font-weight="bold" text-anchor="start" fill="#000" >i</text>
</svg>
</body></html>
